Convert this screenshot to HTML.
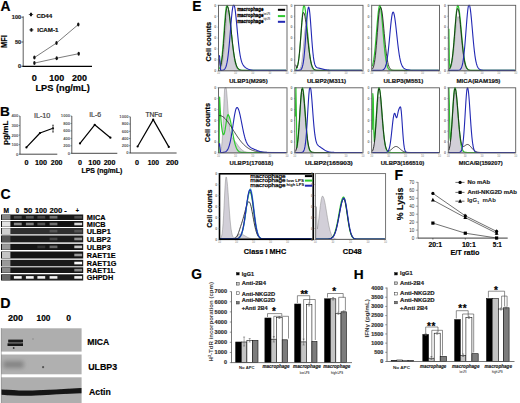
<!DOCTYPE html>
<html><head><meta charset="utf-8"><style>
html,body{margin:0;padding:0;background:#fff;}
svg{display:block;font-family:"Liberation Sans", sans-serif;}
</style></head><body>
<svg width="520" height="403" viewBox="0 0 520 403">
<defs>
<filter id="b05" x="-20%" y="-50%" width="140%" height="200%"><feGaussianBlur stdDeviation="0.5"/></filter>
<filter id="b07" x="-20%" y="-50%" width="140%" height="200%"><feGaussianBlur stdDeviation="0.7"/></filter>
<filter id="b20" x="-50%" y="-100%" width="200%" height="300%"><feGaussianBlur stdDeviation="2"/></filter>
</defs>
<rect width="520" height="403" fill="#fff"/>
<text x="0.60" y="10.70" font-size="13.8" font-weight="bold" fill="#000" stroke="#000" stroke-width="0.18" >A</text>
<line x1="23.20" y1="16.30" x2="23.20" y2="66.50" stroke="#333" stroke-width="0.8" />
<line x1="22.50" y1="66.40" x2="92.00" y2="66.40" stroke="#000" stroke-width="1.4" />
<line x1="21.40" y1="17.20" x2="23.20" y2="17.20" stroke="#333" stroke-width="0.8" />
<text x="21.20" y="19.10" font-size="5.6" font-weight="bold" fill="#222" text-anchor="end" stroke="#222" stroke-width="0.18" >100</text>
<line x1="21.40" y1="42.00" x2="23.20" y2="42.00" stroke="#333" stroke-width="0.8" />
<text x="21.20" y="43.90" font-size="5.6" font-weight="bold" fill="#222" text-anchor="end" stroke="#222" stroke-width="0.18" >50</text>
<line x1="21.40" y1="66.30" x2="23.20" y2="66.30" stroke="#333" stroke-width="0.8" />
<text x="21.20" y="68.20" font-size="5.6" font-weight="bold" fill="#222" text-anchor="end" stroke="#222" stroke-width="0.18" >0</text>
<text x="7.40" y="48.00" font-size="8.7" font-weight="bold" fill="#000" textLength="12.90" lengthAdjust="spacingAndGlyphs" transform="rotate(-90 7.40 48.00)" stroke="#000" stroke-width="0.18" >MFI</text>
<line x1="28.80" y1="14.50" x2="33.20" y2="14.50" stroke="#222" stroke-width="0.7" />
<ellipse cx="31.00" cy="14.50" rx="1.2" ry="1.9" fill="#111"/>
<text x="36.40" y="17.60" font-size="6.0" font-weight="bold" fill="#111" textLength="15.90" lengthAdjust="spacingAndGlyphs" stroke="#111" stroke-width="0.18" >CD44</text>
<line x1="29.20" y1="29.90" x2="33.60" y2="29.90" stroke="#222" stroke-width="0.7" />
<ellipse cx="31.40" cy="29.90" rx="1.2" ry="1.9" fill="#111"/>
<text x="37.20" y="32.10" font-size="6.0" font-weight="bold" fill="#111" textLength="21.20" lengthAdjust="spacingAndGlyphs" stroke="#111" stroke-width="0.18" >ICAM-1</text>
<polyline points="34.40,57.60 56.50,43.00 78.30,24.50" fill="none" stroke="#444" stroke-width="0.7" stroke-linejoin="round" />
<polyline points="34.40,63.10 56.70,58.20 78.70,53.70" fill="none" stroke="#444" stroke-width="0.7" stroke-linejoin="round" />
<ellipse cx="34.40" cy="57.60" rx="1.2" ry="2.0" fill="#111"/>
<ellipse cx="56.50" cy="43.00" rx="1.2" ry="2.0" fill="#111"/>
<ellipse cx="78.30" cy="24.50" rx="1.2" ry="2.0" fill="#111"/>
<ellipse cx="34.40" cy="63.10" rx="1.2" ry="2.0" fill="#111"/>
<ellipse cx="56.70" cy="58.20" rx="1.2" ry="2.0" fill="#111"/>
<ellipse cx="78.70" cy="53.70" rx="1.2" ry="2.0" fill="#111"/>
<text x="34.40" y="81.20" font-size="9.2" font-weight="bold" fill="#000" text-anchor="middle" stroke="#000" stroke-width="0.18" >0</text>
<text x="56.70" y="81.20" font-size="9.2" font-weight="bold" fill="#000" text-anchor="middle" textLength="14.90" lengthAdjust="spacingAndGlyphs" stroke="#000" stroke-width="0.18" >100</text>
<text x="79.60" y="81.20" font-size="9.2" font-weight="bold" fill="#000" text-anchor="middle" textLength="15.00" lengthAdjust="spacingAndGlyphs" stroke="#000" stroke-width="0.18" >200</text>
<text x="35.50" y="90.90" font-size="9.3" font-weight="bold" fill="#000" textLength="54.20" lengthAdjust="spacingAndGlyphs" stroke="#000" stroke-width="0.18" >LPS (ng/mL)</text>
<text x="0.00" y="115.60" font-size="13.6" font-weight="bold" fill="#000" stroke="#000" stroke-width="0.18" >B</text>
<text x="8.30" y="145.00" font-size="8.0" font-weight="bold" fill="#000" textLength="24.50" lengthAdjust="spacingAndGlyphs" transform="rotate(-90 8.30 145.00)" stroke="#000" stroke-width="0.18" >pg/mL</text>
<line x1="20.00" y1="116.00" x2="20.00" y2="154.20" stroke="#333" stroke-width="0.8" />
<line x1="19.50" y1="154.20" x2="57.30" y2="154.20" stroke="#333" stroke-width="0.9" />
<line x1="18.70" y1="116.00" x2="20.00" y2="116.00" stroke="#444" stroke-width="0.6" />
<text x="18.40" y="117.40" font-size="4.2" font-weight="bold" fill="#555" text-anchor="end" >400</text>
<line x1="18.70" y1="125.55" x2="20.00" y2="125.55" stroke="#444" stroke-width="0.6" />
<text x="18.40" y="126.95" font-size="4.2" font-weight="bold" fill="#555" text-anchor="end" >300</text>
<line x1="18.70" y1="135.10" x2="20.00" y2="135.10" stroke="#444" stroke-width="0.6" />
<text x="18.40" y="136.50" font-size="4.2" font-weight="bold" fill="#555" text-anchor="end" >200</text>
<line x1="18.70" y1="144.65" x2="20.00" y2="144.65" stroke="#444" stroke-width="0.6" />
<text x="18.40" y="146.05" font-size="4.2" font-weight="bold" fill="#555" text-anchor="end" >100</text>
<line x1="18.70" y1="154.20" x2="20.00" y2="154.20" stroke="#444" stroke-width="0.6" />
<text x="18.40" y="155.60" font-size="4.2" font-weight="bold" fill="#555" text-anchor="end" >0</text>
<text x="33.90" y="117.90" font-size="6.3" font-weight="normal" fill="#4a4a4a" textLength="16.50" lengthAdjust="spacingAndGlyphs" stroke="#4a4a4a" stroke-width="0.2">IL-10</text>
<polyline points="26.40,147.40 40.00,133.00 53.00,128.30" fill="none" stroke="#000" stroke-width="1.2" stroke-linejoin="round" />
<circle cx="26.40" cy="147.40" r="1.1" fill="#000"/>
<circle cx="40.00" cy="133.00" r="1.1" fill="#000"/>
<circle cx="53.00" cy="128.30" r="1.1" fill="#000"/>
<line x1="53.00" y1="125.20" x2="53.00" y2="132.00" stroke="#333" stroke-width="0.8" />
<line x1="52.00" y1="125.20" x2="54.00" y2="125.20" stroke="#333" stroke-width="0.7" />
<line x1="52.00" y1="132.00" x2="54.00" y2="132.00" stroke="#333" stroke-width="0.7" />
<text x="26.50" y="164.60" font-size="7.2" font-weight="bold" fill="#000" text-anchor="middle" stroke="#000" stroke-width="0.18" >0</text>
<text x="41.00" y="164.60" font-size="7.2" font-weight="bold" fill="#000" text-anchor="middle" textLength="12.00" lengthAdjust="spacingAndGlyphs" stroke="#000" stroke-width="0.18" >100</text>
<text x="56.60" y="164.60" font-size="7.2" font-weight="bold" fill="#000" text-anchor="middle" textLength="11.70" lengthAdjust="spacingAndGlyphs" stroke="#000" stroke-width="0.18" >200</text>
<line x1="71.80" y1="116.00" x2="71.80" y2="153.30" stroke="#333" stroke-width="0.8" />
<line x1="71.30" y1="153.30" x2="117.30" y2="153.30" stroke="#333" stroke-width="0.9" />
<line x1="70.50" y1="116.00" x2="71.80" y2="116.00" stroke="#444" stroke-width="0.6" />
<text x="70.20" y="117.40" font-size="4.2" font-weight="bold" fill="#555" text-anchor="end" >1000</text>
<line x1="70.50" y1="123.46" x2="71.80" y2="123.46" stroke="#444" stroke-width="0.6" />
<text x="70.20" y="124.86" font-size="4.2" font-weight="bold" fill="#555" text-anchor="end" >800</text>
<line x1="70.50" y1="130.92" x2="71.80" y2="130.92" stroke="#444" stroke-width="0.6" />
<text x="70.20" y="132.32" font-size="4.2" font-weight="bold" fill="#555" text-anchor="end" >600</text>
<line x1="70.50" y1="138.38" x2="71.80" y2="138.38" stroke="#444" stroke-width="0.6" />
<text x="70.20" y="139.78" font-size="4.2" font-weight="bold" fill="#555" text-anchor="end" >400</text>
<line x1="70.50" y1="145.84" x2="71.80" y2="145.84" stroke="#444" stroke-width="0.6" />
<text x="70.20" y="147.24" font-size="4.2" font-weight="bold" fill="#555" text-anchor="end" >200</text>
<line x1="70.50" y1="153.30" x2="71.80" y2="153.30" stroke="#444" stroke-width="0.6" />
<text x="70.20" y="154.70" font-size="4.2" font-weight="bold" fill="#555" text-anchor="end" >0</text>
<text x="89.20" y="117.40" font-size="6.3" font-weight="normal" fill="#4a4a4a" textLength="12.00" lengthAdjust="spacingAndGlyphs" stroke="#4a4a4a" stroke-width="0.2">IL-6</text>
<polyline points="80.00,143.40 94.70,124.80 110.40,137.70" fill="none" stroke="#000" stroke-width="1.2" stroke-linejoin="round" />
<circle cx="80.00" cy="143.40" r="1.1" fill="#000"/>
<circle cx="94.70" cy="124.80" r="1.1" fill="#000"/>
<circle cx="110.40" cy="137.70" r="1.1" fill="#000"/>
<text x="80.00" y="164.60" font-size="7.2" font-weight="bold" fill="#000" text-anchor="middle" stroke="#000" stroke-width="0.18" >0</text>
<text x="94.50" y="164.60" font-size="7.2" font-weight="bold" fill="#000" text-anchor="middle" textLength="12.30" lengthAdjust="spacingAndGlyphs" stroke="#000" stroke-width="0.18" >100</text>
<text x="109.50" y="164.60" font-size="7.2" font-weight="bold" fill="#000" text-anchor="middle" textLength="11.70" lengthAdjust="spacingAndGlyphs" stroke="#000" stroke-width="0.18" >200</text>
<line x1="130.30" y1="116.80" x2="130.30" y2="153.00" stroke="#333" stroke-width="0.8" />
<line x1="129.80" y1="153.00" x2="176.60" y2="153.00" stroke="#333" stroke-width="0.9" />
<line x1="129.00" y1="116.80" x2="130.30" y2="116.80" stroke="#444" stroke-width="0.6" />
<text x="128.70" y="118.20" font-size="4.2" font-weight="bold" fill="#555" text-anchor="end" >1000</text>
<line x1="129.00" y1="124.04" x2="130.30" y2="124.04" stroke="#444" stroke-width="0.6" />
<text x="128.70" y="125.44" font-size="4.2" font-weight="bold" fill="#555" text-anchor="end" >800</text>
<line x1="129.00" y1="131.28" x2="130.30" y2="131.28" stroke="#444" stroke-width="0.6" />
<text x="128.70" y="132.68" font-size="4.2" font-weight="bold" fill="#555" text-anchor="end" >600</text>
<line x1="129.00" y1="138.52" x2="130.30" y2="138.52" stroke="#444" stroke-width="0.6" />
<text x="128.70" y="139.92" font-size="4.2" font-weight="bold" fill="#555" text-anchor="end" >400</text>
<line x1="129.00" y1="145.76" x2="130.30" y2="145.76" stroke="#444" stroke-width="0.6" />
<text x="128.70" y="147.16" font-size="4.2" font-weight="bold" fill="#555" text-anchor="end" >200</text>
<line x1="129.00" y1="153.00" x2="130.30" y2="153.00" stroke="#444" stroke-width="0.6" />
<text x="128.70" y="154.40" font-size="4.2" font-weight="bold" fill="#555" text-anchor="end" >0</text>
<text x="145.40" y="117.00" font-size="7.0" font-weight="normal" fill="#333" textLength="16.80" lengthAdjust="spacingAndGlyphs" stroke="#333" stroke-width="0.2">TNFα</text>
<polyline points="137.60,146.50 153.20,119.60 168.80,146.90" fill="none" stroke="#000" stroke-width="1.2" stroke-linejoin="round" />
<circle cx="137.60" cy="146.50" r="1.1" fill="#000"/>
<circle cx="153.20" cy="119.60" r="1.1" fill="#000"/>
<circle cx="168.80" cy="146.90" r="1.1" fill="#000"/>
<text x="137.00" y="164.60" font-size="7.2" font-weight="bold" fill="#000" text-anchor="middle" stroke="#000" stroke-width="0.18" >0</text>
<text x="153.30" y="164.60" font-size="7.2" font-weight="bold" fill="#000" text-anchor="middle" textLength="11.30" lengthAdjust="spacingAndGlyphs" stroke="#000" stroke-width="0.18" >100</text>
<text x="172.20" y="164.60" font-size="7.2" font-weight="bold" fill="#000" text-anchor="middle" textLength="12.50" lengthAdjust="spacingAndGlyphs" stroke="#000" stroke-width="0.18" >200</text>
<text x="81.50" y="172.80" font-size="7.0" font-weight="bold" fill="#000" textLength="40.80" lengthAdjust="spacingAndGlyphs" stroke="#000" stroke-width="0.18" >LPS (ng/mL)</text>
<text x="0.40" y="198.60" font-size="14.0" font-weight="bold" fill="#000" stroke="#000" stroke-width="0.18" >C</text>
<text x="3.40" y="212.60" font-size="7.0" font-weight="bold" fill="#000" textLength="5.50" lengthAdjust="spacingAndGlyphs" stroke="#000" stroke-width="0.18" >M</text>
<text x="15.80" y="212.60" font-size="7.0" font-weight="bold" fill="#000" textLength="3.40" lengthAdjust="spacingAndGlyphs" stroke="#000" stroke-width="0.18" >0</text>
<text x="23.80" y="212.60" font-size="7.0" font-weight="bold" fill="#000" textLength="8.50" lengthAdjust="spacingAndGlyphs" stroke="#000" stroke-width="0.18" >50</text>
<text x="35.00" y="212.60" font-size="7.0" font-weight="bold" fill="#000" textLength="12.00" lengthAdjust="spacingAndGlyphs" stroke="#000" stroke-width="0.18" >100</text>
<text x="49.50" y="212.60" font-size="7.0" font-weight="bold" fill="#000" textLength="12.80" lengthAdjust="spacingAndGlyphs" stroke="#000" stroke-width="0.18" >200</text>
<text x="64.30" y="212.60" font-size="7.0" font-weight="bold" fill="#000" textLength="2.50" lengthAdjust="spacingAndGlyphs" stroke="#000" stroke-width="0.18" >-</text>
<text x="75.80" y="212.60" font-size="7.0" font-weight="bold" fill="#000" textLength="3.20" lengthAdjust="spacingAndGlyphs" stroke="#000" stroke-width="0.18" >+</text>
<rect x="0.50" y="213.80" width="83.50" height="66.60" fill="#fff" stroke="none" stroke-width="0" />
<rect x="1.00" y="214.50" width="82.20" height="5.50" fill="#181818" stroke="none" stroke-width="0" />
<rect x="2.00" y="214.80" width="8.40" height="4.90" fill="#858585" stroke="none" stroke-width="0" filter="url(#b05)"/>
<rect x="13.90" y="215.95" width="7.80" height="2.60" fill="#505050" stroke="none" stroke-width="0" filter="url(#b05)"/>
<rect x="25.90" y="215.95" width="7.80" height="2.60" fill="#585858" stroke="none" stroke-width="0" filter="url(#b05)"/>
<rect x="37.40" y="215.95" width="7.80" height="2.60" fill="#484848" stroke="none" stroke-width="0" filter="url(#b05)"/>
<rect x="49.60" y="215.95" width="7.80" height="2.60" fill="#707070" stroke="none" stroke-width="0" filter="url(#b05)"/>
<rect x="74.30" y="215.95" width="7.80" height="2.60" fill="#505050" stroke="none" stroke-width="0" filter="url(#b05)"/>
<text x="86.80" y="219.80" font-size="7.3" font-weight="bold" fill="#000" stroke="#000" stroke-width="0.18" >MICA</text>
<rect x="1.00" y="221.00" width="82.20" height="6.00" fill="#121212" stroke="none" stroke-width="0" />
<rect x="2.00" y="221.30" width="8.40" height="5.40" fill="#e4e4e4" stroke="none" stroke-width="0" filter="url(#b05)"/>
<rect x="13.90" y="222.70" width="7.80" height="2.60" fill="#8a8a8a" stroke="none" stroke-width="0" filter="url(#b05)"/>
<rect x="25.90" y="222.70" width="7.80" height="2.60" fill="#808080" stroke="none" stroke-width="0" filter="url(#b05)"/>
<rect x="37.40" y="222.70" width="7.80" height="2.60" fill="#555" stroke="none" stroke-width="0" filter="url(#b05)"/>
<rect x="49.60" y="222.70" width="7.80" height="2.60" fill="#707070" stroke="none" stroke-width="0" filter="url(#b05)"/>
<rect x="74.30" y="222.70" width="7.80" height="2.60" fill="#d8d8d8" stroke="none" stroke-width="0" filter="url(#b05)"/>
<text x="86.80" y="226.80" font-size="7.3" font-weight="bold" fill="#000" stroke="#000" stroke-width="0.18" >MICB</text>
<rect x="1.00" y="228.00" width="82.20" height="6.30" fill="#303030" stroke="none" stroke-width="0" />
<rect x="2.00" y="228.30" width="8.40" height="5.70" fill="#d0d0d0" stroke="none" stroke-width="0" filter="url(#b05)"/>
<rect x="49.60" y="229.85" width="7.80" height="2.60" fill="#555" stroke="none" stroke-width="0" filter="url(#b05)"/>
<rect x="74.30" y="229.85" width="7.80" height="2.60" fill="#555" stroke="none" stroke-width="0" filter="url(#b05)"/>
<text x="86.80" y="234.10" font-size="7.3" font-weight="bold" fill="#000" stroke="#000" stroke-width="0.18" >ULBP1</text>
<rect x="1.00" y="235.50" width="82.20" height="6.90" fill="#1c1c1c" stroke="none" stroke-width="0" />
<rect x="2.00" y="235.80" width="8.40" height="6.30" fill="#555" stroke="none" stroke-width="0" filter="url(#b05)"/>
<rect x="49.60" y="237.65" width="7.80" height="2.60" fill="#444" stroke="none" stroke-width="0" filter="url(#b05)"/>
<rect x="74.30" y="237.65" width="7.80" height="2.60" fill="#909090" stroke="none" stroke-width="0" filter="url(#b05)"/>
<text x="86.80" y="242.20" font-size="7.3" font-weight="bold" fill="#000" stroke="#000" stroke-width="0.18" >ULBP2</text>
<rect x="1.00" y="243.80" width="82.20" height="6.20" fill="#151515" stroke="none" stroke-width="0" />
<rect x="2.00" y="244.10" width="8.40" height="5.60" fill="#999" stroke="none" stroke-width="0" filter="url(#b05)"/>
<rect x="37.40" y="245.60" width="7.80" height="2.60" fill="#333" stroke="none" stroke-width="0" filter="url(#b05)"/>
<rect x="49.60" y="245.60" width="7.80" height="2.60" fill="#666" stroke="none" stroke-width="0" filter="url(#b05)"/>
<rect x="74.30" y="245.60" width="7.80" height="2.60" fill="#c8c8c8" stroke="none" stroke-width="0" filter="url(#b05)"/>
<text x="86.80" y="249.80" font-size="7.3" font-weight="bold" fill="#000" stroke="#000" stroke-width="0.18" >ULBP3</text>
<rect x="1.00" y="251.50" width="82.20" height="7.00" fill="#141414" stroke="none" stroke-width="0" />
<rect x="2.00" y="251.80" width="8.40" height="6.40" fill="#c4c4c4" stroke="none" stroke-width="0" filter="url(#b05)"/>
<rect x="74.30" y="253.70" width="7.80" height="2.60" fill="#999" stroke="none" stroke-width="0" filter="url(#b05)"/>
<text x="86.80" y="258.30" font-size="7.3" font-weight="bold" fill="#000" stroke="#000" stroke-width="0.18" >RAET1E</text>
<rect x="1.00" y="259.80" width="82.20" height="6.50" fill="#1a1a1a" stroke="none" stroke-width="0" />
<rect x="2.00" y="260.10" width="8.40" height="5.90" fill="#999" stroke="none" stroke-width="0" filter="url(#b05)"/>
<rect x="74.30" y="261.75" width="7.80" height="2.60" fill="#fafafa" stroke="none" stroke-width="0" filter="url(#b05)"/>
<text x="86.80" y="266.10" font-size="7.3" font-weight="bold" fill="#000" stroke="#000" stroke-width="0.18" >RAET1G</text>
<rect x="1.00" y="267.30" width="82.20" height="5.70" fill="#161616" stroke="none" stroke-width="0" />
<rect x="2.00" y="267.60" width="8.40" height="5.10" fill="#888" stroke="none" stroke-width="0" filter="url(#b05)"/>
<rect x="74.30" y="268.85" width="7.80" height="2.60" fill="#888" stroke="none" stroke-width="0" filter="url(#b05)"/>
<text x="86.80" y="272.80" font-size="7.3" font-weight="bold" fill="#000" stroke="#000" stroke-width="0.18" >RAET1L</text>
<rect x="1.00" y="274.30" width="82.20" height="6.20" fill="#1a1a1a" stroke="none" stroke-width="0" />
<rect x="2.00" y="274.60" width="8.40" height="5.60" fill="#666" stroke="none" stroke-width="0" filter="url(#b05)"/>
<rect x="13.90" y="276.10" width="7.80" height="2.60" fill="#f8f8f8" stroke="none" stroke-width="0" filter="url(#b05)"/>
<rect x="25.90" y="276.10" width="7.80" height="2.60" fill="#f8f8f8" stroke="none" stroke-width="0" filter="url(#b05)"/>
<rect x="37.40" y="276.10" width="7.80" height="2.60" fill="#f4f4f4" stroke="none" stroke-width="0" filter="url(#b05)"/>
<rect x="49.60" y="276.10" width="7.80" height="2.60" fill="#f0f0f0" stroke="none" stroke-width="0" filter="url(#b05)"/>
<rect x="74.30" y="276.10" width="7.80" height="2.60" fill="#f4f4f4" stroke="none" stroke-width="0" filter="url(#b05)"/>
<text x="86.80" y="280.30" font-size="7.3" font-weight="bold" fill="#000" stroke="#000" stroke-width="0.18" >GHPDH</text>
<text x="0.20" y="308.00" font-size="14.2" font-weight="bold" fill="#000" stroke="#000" stroke-width="0.18" >D</text>
<text x="8.00" y="321.20" font-size="8.5" font-weight="bold" fill="#000" textLength="15.00" lengthAdjust="spacingAndGlyphs" stroke="#000" stroke-width="0.18" >200</text>
<text x="36.60" y="321.20" font-size="8.5" font-weight="bold" fill="#000" textLength="13.90" lengthAdjust="spacingAndGlyphs" stroke="#000" stroke-width="0.18" >100</text>
<text x="66.20" y="321.20" font-size="8.5" font-weight="bold" fill="#000" textLength="4.80" lengthAdjust="spacingAndGlyphs" stroke="#000" stroke-width="0.18" >0</text>
<rect x="1.00" y="328.30" width="80.60" height="23.30" fill="#aeaeae" stroke="none" stroke-width="0" />
<rect x="1.00" y="354.50" width="80.60" height="19.80" fill="#b0b0b0" stroke="none" stroke-width="0" />
<rect x="1.00" y="377.30" width="80.60" height="25.70" fill="#aeaeae" stroke="none" stroke-width="0" />
<line x1="1.30" y1="328.00" x2="1.30" y2="403.00" stroke="#888" stroke-width="0.6" />
<g filter="url(#b07)">
<rect x="8.20" y="339.60" width="14.80" height="2.80" fill="#1c1c1c" stroke="none" stroke-width="0" />
<rect x="7.50" y="343.30" width="15.50" height="2.70" fill="#151515" stroke="none" stroke-width="0" />
<rect x="8.50" y="342.20" width="13.00" height="1.30" fill="#555" stroke="none" stroke-width="0" />
<circle cx="13.7" cy="348" r="0.9" fill="#333"/>
<circle cx="33" cy="339" r="1" fill="#999"/>
</g>
<g filter="url(#b20)">
<rect x="3.50" y="361.00" width="20.00" height="7.00" fill="#848484" stroke="none" stroke-width="0" />
</g>
<g filter="url(#b07)">
<circle cx="43.1" cy="367.2" r="1.1" fill="#555"/>
<path d="M1.5,389.4 C10,389.6 18,390.6 28,390.4 C40,390.2 55,389.4 81.5,387.9 L81.5,393.2 C65,393.8 50,394.6 36,395.6 C25,396.2 12,395.6 1.5,394.8 Z" fill="#141414"/>
</g>
<text x="87.20" y="344.90" font-size="9.2" font-weight="bold" fill="#000" textLength="22.10" lengthAdjust="spacingAndGlyphs" stroke="#000" stroke-width="0.18" >MICA</text>
<text x="88.20" y="369.50" font-size="9.4" font-weight="bold" fill="#000" textLength="28.90" lengthAdjust="spacingAndGlyphs" stroke="#000" stroke-width="0.18" >ULBP3</text>
<text x="89.00" y="394.90" font-size="9.4" font-weight="bold" fill="#000" textLength="21.80" lengthAdjust="spacingAndGlyphs" stroke="#000" stroke-width="0.18" >Actin</text>
<text x="192.30" y="11.20" font-size="13.8" font-weight="bold" fill="#000" stroke="#000" stroke-width="0.18" >E</text>
<polygon points="219.10,70.80 219.10,70.09 219.60,69.85 220.10,69.47 220.60,68.87 221.10,67.95 221.60,66.61 222.10,64.72 222.60,62.14 223.10,58.79 223.60,54.58 224.10,49.52 224.60,43.71 225.10,37.35 225.60,30.76 226.10,24.35 226.60,18.59 227.10,13.93 227.60,10.78 228.10,9.44 228.60,9.85 229.10,11.63 229.60,14.65 230.10,18.72 230.60,23.58 231.10,28.94 231.60,34.52 232.10,40.06 232.60,45.32 233.10,50.14 233.60,54.41 234.10,58.06 234.60,61.10 235.10,63.55 235.60,65.46 236.10,66.93 236.60,68.01 237.10,68.79 237.60,69.34 238.10,69.72 238.60,69.97 239.10,70.14 239.60,70.24 240.10,70.31 240.60,70.35 241.10,70.37 241.60,70.38 242.10,70.39 242.60,70.40 243.10,70.40 243.60,70.40 244.10,70.40 244.60,70.40 245.10,70.40 245.60,70.40 246.10,70.40 246.60,70.40 247.10,70.40 247.60,70.40 248.10,70.40 248.60,70.40 249.10,70.40 249.60,70.40 250.10,70.40 250.60,70.40 251.10,70.40 251.60,70.40 252.10,70.40 252.60,70.40 253.10,70.40 253.60,70.40 254.10,70.40 254.60,70.40 255.10,70.40 255.60,70.40 256.10,70.40 256.60,70.40 257.10,70.40 257.60,70.40 258.10,70.40 258.60,70.40 259.10,70.40 259.60,70.40 260.10,70.40 260.60,70.40 261.10,70.40 261.60,70.40 262.10,70.40 262.60,70.40 263.10,70.40 263.60,70.40 264.10,70.40 264.60,70.40 265.10,70.40 265.60,70.40 266.10,70.40 266.60,70.40 267.10,70.40 267.60,70.40 268.10,70.40 268.60,70.40 269.10,70.40 269.60,70.40 270.10,70.40 270.60,70.40 271.10,70.40 271.60,70.40 272.10,70.40 272.60,70.40 273.10,70.40 273.60,70.40 274.10,70.40 274.60,70.40 275.10,70.40 275.60,70.40 276.10,70.40 276.60,70.40 277.10,70.40 277.60,70.40 278.10,70.40 278.60,70.40 279.10,70.40 279.60,70.40 280.10,70.40 280.60,70.40 281.10,70.40 281.60,70.40 282.10,70.40 282.60,70.40 283.10,70.40 283.60,70.40 284.10,70.40 284.60,70.40 285.10,70.40 285.60,70.40 286.10,70.40 286.40,70.80" fill="#d2cfd8" stroke="#888" stroke-width="0.5" />
<polyline points="219.10,69.06 219.60,68.23 220.10,66.99 220.60,65.23 221.10,62.79 221.60,59.56 222.10,55.45 222.60,50.41 223.10,44.52 223.60,37.94 224.10,30.98 224.60,24.01 225.10,17.53 225.60,12.04 226.10,8.00 226.60,5.77 227.10,5.47 227.60,6.30 228.10,8.00 228.60,10.51 229.10,13.73 229.60,17.53 230.10,21.77 230.60,26.30 231.10,30.98 231.60,35.65 232.10,40.20 232.60,44.52 233.10,48.54 233.60,52.19 234.10,55.45 234.60,58.29 235.10,60.74 235.60,62.79 236.10,64.50 236.60,65.88 237.10,66.99 237.60,67.87 238.10,68.54 238.60,69.06 239.10,69.44 239.60,69.73 240.10,69.93 240.60,70.08 241.10,70.19 241.60,70.26 242.10,70.31 242.60,70.34 243.10,70.36 243.60,70.38 244.10,70.39 244.60,70.39 245.10,70.39 245.60,70.40 246.10,70.40 246.60,70.40 247.10,70.40 247.60,70.40 248.10,70.40 248.60,70.40 249.10,70.40 249.60,70.40 250.10,70.40 250.60,70.40 251.10,70.40 251.60,70.40 252.10,70.40 252.60,70.40 253.10,70.40 253.60,70.40 254.10,70.40 254.60,70.40 255.10,70.40 255.60,70.40 256.10,70.40 256.60,70.40 257.10,70.40 257.60,70.40 258.10,70.40 258.60,70.40 259.10,70.40 259.60,70.40 260.10,70.40 260.60,70.40 261.10,70.40 261.60,70.40 262.10,70.40 262.60,70.40 263.10,70.40 263.60,70.40 264.10,70.40 264.60,70.40 265.10,70.40 265.60,70.40 266.10,70.40 266.60,70.40 267.10,70.40 267.60,70.40 268.10,70.40 268.60,70.40 269.10,70.40 269.60,70.40 270.10,70.40 270.60,70.40 271.10,70.40 271.60,70.40 272.10,70.40 272.60,70.40 273.10,70.40 273.60,70.40 274.10,70.40 274.60,70.40 275.10,70.40 275.60,70.40 276.10,70.40 276.60,70.40 277.10,70.40 277.60,70.40 278.10,70.40 278.60,70.40 279.10,70.40 279.60,70.40 280.10,70.40 280.60,70.40 281.10,70.40 281.60,70.40 282.10,70.40 282.60,70.40 283.10,70.40 283.60,70.40 284.10,70.40 284.60,70.40 285.10,70.40 285.60,70.40 286.10,70.40" fill="none" stroke="#2fc82f" stroke-width="1.2" stroke-linejoin="round" />
<polyline points="219.10,58.52 219.60,60.94 220.10,65.05 220.60,66.75 221.10,64.89 221.60,62.34 222.10,58.99 222.60,54.76 223.10,49.62 223.60,43.67 224.10,37.09 224.60,30.20 225.10,23.40 225.60,17.17 226.10,12.02 226.60,8.37 227.10,6.56 227.60,6.58 228.10,7.67 228.60,9.69 229.10,12.56 229.60,16.15 230.10,20.31 230.60,24.86 231.10,29.64 231.60,34.49 232.10,39.25 232.60,43.80 233.10,48.03 233.60,51.89 234.10,55.31 234.60,58.30 235.10,60.84 235.60,62.97 236.10,64.71 236.60,66.11 237.10,67.22 237.60,68.08 238.10,68.73 238.60,69.22 239.10,69.57 239.60,69.83 240.10,70.02 240.60,70.15 241.10,70.23 241.60,70.29 242.10,70.33 242.60,70.36 243.10,70.37 243.60,70.38 244.10,70.39 244.60,70.39 245.10,70.40 245.60,70.40 246.10,70.40 246.60,70.40 247.10,70.40 247.60,70.40 248.10,70.40 248.60,70.40 249.10,70.40 249.60,70.40 250.10,70.40 250.60,70.40 251.10,70.40 251.60,70.40 252.10,70.40 252.60,70.40 253.10,70.40 253.60,70.40 254.10,70.40 254.60,70.40 255.10,70.40 255.60,70.40 256.10,70.40 256.60,70.40 257.10,70.40 257.60,70.40 258.10,70.40 258.60,70.40 259.10,70.40 259.60,70.40 260.10,70.40 260.60,70.40 261.10,70.40 261.60,70.40 262.10,70.40 262.60,70.40 263.10,70.40 263.60,70.40 264.10,70.40 264.60,70.40 265.10,70.40 265.60,70.40 266.10,70.40 266.60,70.40 267.10,70.40 267.60,70.40 268.10,70.40 268.60,70.40 269.10,70.40 269.60,70.40 270.10,70.40 270.60,70.40 271.10,70.40 271.60,70.40 272.10,70.40 272.60,70.40 273.10,70.40 273.60,70.40 274.10,70.40 274.60,70.40 275.10,70.40 275.60,70.40 276.10,70.40 276.60,70.40 277.10,70.40 277.60,70.40 278.10,70.40 278.60,70.40 279.10,70.40 279.60,70.40 280.10,70.40 280.60,70.40 281.10,70.40 281.60,70.40 282.10,70.40 282.60,70.40 283.10,70.40 283.60,70.40 284.10,70.40 284.60,70.40 285.10,70.40 285.60,70.40 286.10,70.40" fill="none" stroke="#111" stroke-width="0.8" stroke-linejoin="round" />
<polyline points="219.10,55.17 219.60,56.55 220.10,63.47 220.60,70.38 221.10,70.37 221.60,70.34 222.10,70.30 222.60,70.22 223.10,70.10 223.60,69.91 224.10,69.61 224.60,69.16 225.10,68.50 225.60,67.56 226.10,66.25 226.60,64.49 227.10,62.18 227.60,59.24 228.10,55.61 228.60,51.28 229.10,46.28 229.60,40.70 230.10,34.70 230.60,28.52 231.10,22.44 231.60,16.79 232.10,11.90 232.60,8.07 233.10,5.55 233.60,5.20 234.10,5.20 234.60,6.62 235.10,9.52 235.60,13.42 236.10,18.07 236.60,23.21 237.10,28.58 237.60,33.94 238.10,39.07 238.60,43.82 239.10,48.09 239.60,51.83 240.10,55.03 240.60,57.69 241.10,59.86 241.60,61.60 242.10,62.99 242.60,64.09 243.10,64.97 243.60,65.69 244.10,66.28 244.60,66.78 245.10,67.22 245.60,67.60 246.10,67.95 246.60,68.26 247.10,68.55 247.60,68.81 248.10,69.05 248.60,69.26 249.10,69.44 249.60,69.61 250.10,69.75 250.60,69.87 251.10,69.97 251.60,70.06 252.10,70.13 252.60,70.19 253.10,70.24 253.60,70.28 254.10,70.31 254.60,70.33 255.10,70.35 255.60,70.36 256.10,70.37 256.60,70.38 257.10,70.39 257.60,70.39 258.10,70.39 258.60,70.40 259.10,70.40 259.60,70.40 260.10,70.40 260.60,70.40 261.10,70.40 261.60,70.40 262.10,70.40 262.60,70.40 263.10,70.40 263.60,70.40 264.10,70.40 264.60,70.40 265.10,70.40 265.60,70.40 266.10,70.40 266.60,70.40 267.10,70.40 267.60,70.40 268.10,70.40 268.60,70.40 269.10,70.40 269.60,70.40 270.10,70.40 270.60,70.40 271.10,70.40 271.60,70.40 272.10,70.40 272.60,70.40 273.10,70.40 273.60,70.40 274.10,70.40 274.60,70.40 275.10,70.40 275.60,70.40 276.10,70.40 276.60,70.40 277.10,70.40 277.60,70.40 278.10,70.40 278.60,70.40 279.10,70.40 279.60,70.40 280.10,70.40 280.60,70.40 281.10,70.40 281.60,70.40 282.10,70.40 282.60,70.40 283.10,70.40 283.60,70.40 284.10,70.40 284.60,70.40 285.10,70.40 285.60,70.40 286.10,70.40" fill="none" stroke="#2228b4" stroke-width="1.1" stroke-linejoin="round" />
<rect x="218.50" y="5.30" width="68.50" height="65.50" fill="none" stroke="#5a5a5a" stroke-width="0.9" />
<text x="217.00" y="74.40" font-size="2.6" font-weight="normal" fill="#777" >10</text>
<text x="234.12" y="74.40" font-size="2.6" font-weight="normal" fill="#777" >10</text>
<text x="251.25" y="74.40" font-size="2.6" font-weight="normal" fill="#777" >10</text>
<text x="268.38" y="74.40" font-size="2.6" font-weight="normal" fill="#777" >10</text>
<text x="285.50" y="74.40" font-size="2.6" font-weight="normal" fill="#777" >10</text>
<line x1="217.60" y1="5.30" x2="218.50" y2="5.30" stroke="#666" stroke-width="0.6" />
<text x="216.30" y="6.60" font-size="3.6" font-weight="bold" fill="#777" text-anchor="end" >0</text>
<line x1="217.60" y1="16.22" x2="218.50" y2="16.22" stroke="#666" stroke-width="0.6" />
<text x="216.30" y="17.52" font-size="3.6" font-weight="bold" fill="#777" text-anchor="end" >0</text>
<line x1="217.60" y1="27.13" x2="218.50" y2="27.13" stroke="#666" stroke-width="0.6" />
<text x="216.30" y="28.43" font-size="3.6" font-weight="bold" fill="#777" text-anchor="end" >0</text>
<line x1="217.60" y1="38.05" x2="218.50" y2="38.05" stroke="#666" stroke-width="0.6" />
<text x="216.30" y="39.35" font-size="3.6" font-weight="bold" fill="#777" text-anchor="end" >0</text>
<line x1="217.60" y1="48.97" x2="218.50" y2="48.97" stroke="#666" stroke-width="0.6" />
<text x="216.30" y="50.27" font-size="3.6" font-weight="bold" fill="#777" text-anchor="end" >0</text>
<line x1="217.60" y1="59.88" x2="218.50" y2="59.88" stroke="#666" stroke-width="0.6" />
<text x="216.30" y="61.18" font-size="3.6" font-weight="bold" fill="#777" text-anchor="end" >0</text>
<line x1="217.60" y1="70.80" x2="218.50" y2="70.80" stroke="#666" stroke-width="0.6" />
<text x="216.30" y="72.10" font-size="3.6" font-weight="bold" fill="#777" text-anchor="end" >0</text>
<polygon points="295.40,70.80 295.40,70.40 295.90,70.40 296.40,70.39 296.90,70.38 297.40,70.36 297.90,70.31 298.40,70.21 298.90,70.02 299.40,69.67 299.90,69.06 300.40,68.08 300.90,66.55 301.40,64.31 301.90,61.21 302.40,57.18 302.90,52.26 303.40,46.65 303.90,40.74 304.40,35.07 304.90,30.26 305.40,26.91 305.90,25.44 306.40,25.93 306.90,28.02 307.40,31.47 307.90,35.95 308.40,41.01 308.90,46.24 309.40,51.26 309.90,55.79 310.40,59.65 310.90,62.78 311.40,65.19 311.90,66.97 312.40,68.22 312.90,69.07 313.40,69.62 313.90,69.95 314.40,70.16 314.90,70.27 315.40,70.33 315.90,70.37 316.40,70.38 316.90,70.39 317.40,70.40 317.90,70.40 318.40,70.40 318.90,70.40 319.40,70.40 319.90,70.40 320.40,70.40 320.90,70.40 321.40,70.40 321.90,70.40 322.40,70.40 322.90,70.40 323.40,70.40 323.90,70.40 324.40,70.40 324.90,70.40 325.40,70.40 325.90,70.40 326.40,70.40 326.90,70.40 327.40,70.40 327.90,70.40 328.40,70.40 328.90,70.40 329.40,70.40 329.90,70.40 330.40,70.40 330.90,70.40 331.40,70.40 331.90,70.40 332.40,70.40 332.90,70.40 333.40,70.40 333.90,70.40 334.40,70.40 334.90,70.40 335.40,70.40 335.90,70.40 336.40,70.40 336.90,70.40 337.40,70.40 337.90,70.40 338.40,70.40 338.90,70.40 339.40,70.40 339.90,70.40 340.40,70.40 340.90,70.40 341.40,70.40 341.90,70.40 342.40,70.40 342.90,70.40 343.40,70.40 343.90,70.40 344.40,70.40 344.90,70.40 345.40,70.40 345.90,70.40 346.40,70.40 346.90,70.40 347.40,70.40 347.90,70.40 348.40,70.40 348.90,70.40 349.40,70.40 349.90,70.40 350.40,70.40 350.90,70.40 351.40,70.40 351.90,70.40 352.40,70.40 352.90,70.40 353.40,70.40 353.90,70.40 354.40,70.40 354.90,70.40 355.40,70.40 355.90,70.40 356.40,70.40 356.90,70.40 357.40,70.40 357.90,70.40 358.40,70.40 358.90,70.40 359.40,70.40 359.90,70.40 360.40,70.40 360.90,70.40 361.40,70.40 361.90,70.40 362.40,70.80" fill="#d2cfd8" stroke="#888" stroke-width="0.5" />
<polyline points="295.40,69.82 295.90,69.41 296.40,68.77 296.90,67.79 297.40,66.36 297.90,64.34 298.40,61.60 298.90,58.03 299.40,53.54 299.90,48.15 300.40,41.96 300.90,35.18 301.40,28.16 301.90,21.34 302.40,15.19 302.90,10.23 303.40,6.88 303.90,5.44 304.40,5.85 304.90,7.64 305.40,10.68 305.90,14.80 306.40,19.73 306.90,25.22 307.40,30.98 307.90,36.73 308.40,42.26 308.90,47.39 309.40,51.99 309.90,55.98 310.40,59.35 310.90,62.11 311.40,64.31 311.90,66.03 312.40,67.33 312.90,68.29 313.40,68.98 313.90,69.46 314.40,69.80 314.90,70.02 315.40,70.16 315.90,70.26 316.40,70.32 316.90,70.35 317.40,70.37 317.90,70.38 318.40,70.39 318.90,70.40 319.40,70.40 319.90,70.40 320.40,70.40 320.90,70.40 321.40,70.40 321.90,70.40 322.40,70.40 322.90,70.40 323.40,70.40 323.90,70.40 324.40,70.40 324.90,70.40 325.40,70.40 325.90,70.40 326.40,70.40 326.90,70.40 327.40,70.40 327.90,70.40 328.40,70.40 328.90,70.40 329.40,70.40 329.90,70.40 330.40,70.40 330.90,70.40 331.40,70.40 331.90,70.40 332.40,70.40 332.90,70.40 333.40,70.40 333.90,70.40 334.40,70.40 334.90,70.40 335.40,70.40 335.90,70.40 336.40,70.40 336.90,70.40 337.40,70.40 337.90,70.40 338.40,70.40 338.90,70.40 339.40,70.40 339.90,70.40 340.40,70.40 340.90,70.40 341.40,70.40 341.90,70.40 342.40,70.40 342.90,70.40 343.40,70.40 343.90,70.40 344.40,70.40 344.90,70.40 345.40,70.40 345.90,70.40 346.40,70.40 346.90,70.40 347.40,70.40 347.90,70.40 348.40,70.40 348.90,70.40 349.40,70.40 349.90,70.40 350.40,70.40 350.90,70.40 351.40,70.40 351.90,70.40 352.40,70.40 352.90,70.40 353.40,70.40 353.90,70.40 354.40,70.40 354.90,70.40 355.40,70.40 355.90,70.40 356.40,70.40 356.90,70.40 357.40,70.40 357.90,70.40 358.40,70.40 358.90,70.40 359.40,70.40 359.90,70.40 360.40,70.40 360.90,70.40 361.40,70.40 361.90,70.40" fill="none" stroke="#2fc82f" stroke-width="1.2" stroke-linejoin="round" />
<polyline points="295.40,64.95 295.90,65.09 296.40,67.01 296.90,68.09 297.40,66.70 297.90,64.70 298.40,61.93 298.90,58.27 299.40,53.67 299.90,48.16 300.40,41.91 300.90,35.22 301.40,28.54 301.90,22.41 302.40,17.37 302.90,13.92 303.40,12.44 303.90,12.72 304.40,14.00 304.90,16.21 305.40,19.22 305.90,22.89 306.40,27.05 306.90,31.53 307.40,36.15 307.90,40.73 308.40,45.14 308.90,49.27 309.40,53.02 309.90,56.36 310.40,59.24 310.90,61.69 311.40,63.72 311.90,65.36 312.40,66.67 312.90,67.68 313.40,68.45 313.90,69.03 314.40,69.45 314.90,69.76 315.40,69.97 315.90,70.12 316.40,70.22 316.90,70.28 317.40,70.33 317.90,70.36 318.40,70.37 318.90,70.38 319.40,70.39 319.90,70.39 320.40,70.40 320.90,70.40 321.40,70.40 321.90,70.40 322.40,70.40 322.90,70.40 323.40,70.40 323.90,70.40 324.40,70.40 324.90,70.40 325.40,70.40 325.90,70.40 326.40,70.40 326.90,70.40 327.40,70.40 327.90,70.40 328.40,70.40 328.90,70.40 329.40,70.40 329.90,70.40 330.40,70.40 330.90,70.40 331.40,70.40 331.90,70.40 332.40,70.40 332.90,70.40 333.40,70.40 333.90,70.40 334.40,70.40 334.90,70.40 335.40,70.40 335.90,70.40 336.40,70.40 336.90,70.40 337.40,70.40 337.90,70.40 338.40,70.40 338.90,70.40 339.40,70.40 339.90,70.40 340.40,70.40 340.90,70.40 341.40,70.40 341.90,70.40 342.40,70.40 342.90,70.40 343.40,70.40 343.90,70.40 344.40,70.40 344.90,70.40 345.40,70.40 345.90,70.40 346.40,70.40 346.90,70.40 347.40,70.40 347.90,70.40 348.40,70.40 348.90,70.40 349.40,70.40 349.90,70.40 350.40,70.40 350.90,70.40 351.40,70.40 351.90,70.40 352.40,70.40 352.90,70.40 353.40,70.40 353.90,70.40 354.40,70.40 354.90,70.40 355.40,70.40 355.90,70.40 356.40,70.40 356.90,70.40 357.40,70.40 357.90,70.40 358.40,70.40 358.90,70.40 359.40,70.40 359.90,70.40 360.40,70.40 360.90,70.40 361.40,70.40 361.90,70.40" fill="none" stroke="#111" stroke-width="0.8" stroke-linejoin="round" />
<polyline points="295.40,70.40 295.90,70.40 296.40,70.40 296.90,70.40 297.40,70.39 297.90,70.39 298.40,70.37 298.90,70.34 299.40,70.28 299.90,70.17 300.40,69.96 300.90,69.61 301.40,69.03 301.90,68.12 302.40,66.72 302.90,64.69 303.40,61.86 303.90,58.08 304.40,53.27 304.90,47.46 305.40,40.79 305.90,33.55 306.40,26.22 306.90,19.34 307.40,13.52 307.90,9.32 308.40,7.17 308.90,7.30 309.40,9.67 309.90,14.02 310.40,19.89 310.90,26.69 311.40,33.83 311.90,40.77 312.40,47.08 312.90,52.50 313.40,56.91 313.90,60.33 314.40,62.86 314.90,64.65 315.40,65.87 315.90,66.68 316.40,67.21 316.90,67.54 317.40,67.76 317.90,67.92 318.40,68.04 318.90,68.15 319.40,68.26 319.90,68.37 320.40,68.49 320.90,68.61 321.40,68.73 321.90,68.86 322.40,68.98 322.90,69.11 323.40,69.23 323.90,69.35 324.40,69.46 324.90,69.57 325.40,69.67 325.90,69.76 326.40,69.84 326.90,69.92 327.40,69.99 327.90,70.05 328.40,70.10 328.90,70.15 329.40,70.19 329.90,70.23 330.40,70.26 330.90,70.29 331.40,70.31 331.90,70.33 332.40,70.34 332.90,70.35 333.40,70.36 333.90,70.37 334.40,70.38 334.90,70.38 335.40,70.39 335.90,70.39 336.40,70.39 336.90,70.39 337.40,70.40 337.90,70.40 338.40,70.40 338.90,70.40 339.40,70.40 339.90,70.40 340.40,70.40 340.90,70.40 341.40,70.40 341.90,70.40 342.40,70.40 342.90,70.40 343.40,70.40 343.90,70.40 344.40,70.40 344.90,70.40 345.40,70.40 345.90,70.40 346.40,70.40 346.90,70.40 347.40,70.40 347.90,70.40 348.40,70.40 348.90,70.40 349.40,70.40 349.90,70.40 350.40,70.40 350.90,70.40 351.40,70.40 351.90,70.40 352.40,70.40 352.90,70.40 353.40,70.40 353.90,70.40 354.40,70.40 354.90,70.40 355.40,70.40 355.90,70.40 356.40,70.40 356.90,70.40 357.40,70.40 357.90,70.40 358.40,70.40 358.90,70.40 359.40,70.40 359.90,70.40 360.40,70.40 360.90,70.40 361.40,70.40 361.90,70.40" fill="none" stroke="#2228b4" stroke-width="1.1" stroke-linejoin="round" />
<rect x="294.80" y="5.30" width="68.20" height="65.50" fill="none" stroke="#5a5a5a" stroke-width="0.9" />
<text x="293.30" y="74.40" font-size="2.6" font-weight="normal" fill="#777" >10</text>
<text x="310.35" y="74.40" font-size="2.6" font-weight="normal" fill="#777" >10</text>
<text x="327.40" y="74.40" font-size="2.6" font-weight="normal" fill="#777" >10</text>
<text x="344.45" y="74.40" font-size="2.6" font-weight="normal" fill="#777" >10</text>
<text x="361.50" y="74.40" font-size="2.6" font-weight="normal" fill="#777" >10</text>
<line x1="293.90" y1="5.30" x2="294.80" y2="5.30" stroke="#666" stroke-width="0.6" />
<text x="292.60" y="6.60" font-size="3.6" font-weight="bold" fill="#777" text-anchor="end" >0</text>
<line x1="293.90" y1="16.22" x2="294.80" y2="16.22" stroke="#666" stroke-width="0.6" />
<text x="292.60" y="17.52" font-size="3.6" font-weight="bold" fill="#777" text-anchor="end" >0</text>
<line x1="293.90" y1="27.13" x2="294.80" y2="27.13" stroke="#666" stroke-width="0.6" />
<text x="292.60" y="28.43" font-size="3.6" font-weight="bold" fill="#777" text-anchor="end" >0</text>
<line x1="293.90" y1="38.05" x2="294.80" y2="38.05" stroke="#666" stroke-width="0.6" />
<text x="292.60" y="39.35" font-size="3.6" font-weight="bold" fill="#777" text-anchor="end" >0</text>
<line x1="293.90" y1="48.97" x2="294.80" y2="48.97" stroke="#666" stroke-width="0.6" />
<text x="292.60" y="50.27" font-size="3.6" font-weight="bold" fill="#777" text-anchor="end" >0</text>
<line x1="293.90" y1="59.88" x2="294.80" y2="59.88" stroke="#666" stroke-width="0.6" />
<text x="292.60" y="61.18" font-size="3.6" font-weight="bold" fill="#777" text-anchor="end" >0</text>
<line x1="293.90" y1="70.80" x2="294.80" y2="70.80" stroke="#666" stroke-width="0.6" />
<text x="292.60" y="72.10" font-size="3.6" font-weight="bold" fill="#777" text-anchor="end" >0</text>
<polygon points="372.30,70.80 372.30,69.52 372.80,68.94 373.30,68.05 373.80,66.75 374.30,64.89 374.80,62.34 375.30,58.99 375.80,54.76 376.30,49.62 376.80,43.67 377.30,37.09 377.80,30.20 378.30,23.40 378.80,17.17 379.30,12.02 379.80,8.37 380.30,6.56 380.80,6.72 381.30,8.64 381.80,12.14 382.30,16.94 382.80,22.70 383.30,29.00 383.80,35.45 384.30,41.71 384.80,47.49 385.30,52.61 385.80,56.96 386.30,60.53 386.80,63.34 387.30,65.50 387.80,67.09 388.30,68.22 388.80,69.01 389.30,69.53 389.80,69.88 390.30,70.09 390.80,70.22 391.30,70.30 391.80,70.35 392.30,70.37 392.80,70.39 393.30,70.39 393.80,70.40 394.30,70.40 394.80,70.40 395.30,70.40 395.80,70.40 396.30,70.40 396.80,70.40 397.30,70.40 397.80,70.40 398.30,70.40 398.80,70.40 399.30,70.40 399.80,70.40 400.30,70.40 400.80,70.40 401.30,70.40 401.80,70.40 402.30,70.40 402.80,70.40 403.30,70.40 403.80,70.40 404.30,70.40 404.80,70.40 405.30,70.40 405.80,70.40 406.30,70.40 406.80,70.40 407.30,70.40 407.80,70.40 408.30,70.40 408.80,70.40 409.30,70.40 409.80,70.40 410.30,70.40 410.80,70.40 411.30,70.40 411.80,70.40 412.30,70.40 412.80,70.40 413.30,70.40 413.80,70.40 414.30,70.40 414.80,70.40 415.30,70.40 415.80,70.40 416.30,70.40 416.80,70.40 417.30,70.40 417.80,70.40 418.30,70.40 418.80,70.40 419.30,70.40 419.80,70.40 420.30,70.40 420.80,70.40 421.30,70.40 421.80,70.40 422.30,70.40 422.80,70.40 423.30,70.40 423.80,70.40 424.30,70.40 424.80,70.40 425.30,70.40 425.80,70.40 426.30,70.40 426.80,70.40 427.30,70.40 427.80,70.40 428.30,70.40 428.80,70.40 429.30,70.40 429.80,70.40 430.30,70.40 430.80,70.40 431.30,70.40 431.80,70.40 432.30,70.40 432.80,70.40 433.30,70.40 433.80,70.40 434.30,70.40 434.80,70.40 435.30,70.40 435.80,70.40 436.30,70.40 436.80,70.40 437.30,70.40 437.80,70.40 438.30,70.40 438.80,70.40 438.90,70.80" fill="#d2cfd8" stroke="#888" stroke-width="0.5" />
<polyline points="372.30,66.23 372.80,64.46 373.30,62.14 373.80,59.19 374.30,55.56 374.80,51.22 375.30,46.22 375.80,40.64 376.30,34.66 376.80,28.51 377.30,22.50 377.80,16.93 378.30,12.16 378.80,8.50 379.30,6.19 379.80,5.40 380.30,6.19 380.80,8.50 381.30,12.16 381.80,16.93 382.30,22.50 382.80,28.51 383.30,34.66 383.80,40.64 384.30,46.22 384.80,51.22 385.30,55.56 385.80,59.19 386.30,62.14 386.80,64.46 387.30,66.23 387.80,67.54 388.30,68.49 388.80,69.15 389.30,69.61 389.80,69.91 390.30,70.10 390.80,70.22 391.30,70.30 391.80,70.34 392.30,70.37 392.80,70.38 393.30,70.39 393.80,70.40 394.30,70.40 394.80,70.40 395.30,70.40 395.80,70.40 396.30,70.40 396.80,70.40 397.30,70.40 397.80,70.40 398.30,70.40 398.80,70.40 399.30,70.40 399.80,70.40 400.30,70.40 400.80,70.40 401.30,70.40 401.80,70.40 402.30,70.40 402.80,70.40 403.30,70.40 403.80,70.40 404.30,70.40 404.80,70.40 405.30,70.40 405.80,70.40 406.30,70.40 406.80,70.40 407.30,70.40 407.80,70.40 408.30,70.40 408.80,70.40 409.30,70.40 409.80,70.40 410.30,70.40 410.80,70.40 411.30,70.40 411.80,70.40 412.30,70.40 412.80,70.40 413.30,70.40 413.80,70.40 414.30,70.40 414.80,70.40 415.30,70.40 415.80,70.40 416.30,70.40 416.80,70.40 417.30,70.40 417.80,70.40 418.30,70.40 418.80,70.40 419.30,70.40 419.80,70.40 420.30,70.40 420.80,70.40 421.30,70.40 421.80,70.40 422.30,70.40 422.80,70.40 423.30,70.40 423.80,70.40 424.30,70.40 424.80,70.40 425.30,70.40 425.80,70.40 426.30,70.40 426.80,70.40 427.30,70.40 427.80,70.40 428.30,70.40 428.80,70.40 429.30,70.40 429.80,70.40 430.30,70.40 430.80,70.40 431.30,70.40 431.80,70.40 432.30,70.40 432.80,70.40 433.30,70.40 433.80,70.40 434.30,70.40 434.80,70.40 435.30,70.40 435.80,70.40 436.30,70.40 436.80,70.40 437.30,70.40 437.80,70.40 438.30,70.40 438.80,70.40" fill="none" stroke="#2fc82f" stroke-width="1.2" stroke-linejoin="round" />
<polyline points="372.30,69.03 372.80,68.20 373.30,66.97 373.80,65.23 374.30,62.84 374.80,59.70 375.30,55.73 375.80,50.91 376.30,45.31 376.80,39.11 377.30,32.57 377.80,26.06 378.30,19.99 378.80,14.78 379.30,10.80 379.80,8.33 380.30,7.39 380.80,7.49 381.30,8.61 381.80,10.77 382.30,13.95 382.80,18.10 383.30,23.02 383.80,28.31 384.30,33.72 384.80,39.05 385.30,44.14 385.80,48.84 386.30,53.06 386.80,56.73 387.30,59.86 387.80,62.44 388.30,64.51 388.80,66.14 389.30,67.38 389.80,68.31 390.30,68.98 390.80,69.46 391.30,69.79 391.80,70.01 392.30,70.16 392.80,70.25 393.30,70.31 393.80,70.35 394.30,70.37 394.80,70.38 395.30,70.39 395.80,70.40 396.30,70.40 396.80,70.40 397.30,70.40 397.80,70.40 398.30,70.40 398.80,70.40 399.30,70.40 399.80,70.40 400.30,70.40 400.80,70.40 401.30,70.40 401.80,70.40 402.30,70.40 402.80,70.40 403.30,70.40 403.80,70.40 404.30,70.40 404.80,70.40 405.30,70.40 405.80,70.40 406.30,70.40 406.80,70.40 407.30,70.40 407.80,70.40 408.30,70.40 408.80,70.40 409.30,70.40 409.80,70.40 410.30,70.40 410.80,70.40 411.30,70.40 411.80,70.40 412.30,70.40 412.80,70.40 413.30,70.40 413.80,70.40 414.30,70.40 414.80,70.40 415.30,70.40 415.80,70.40 416.30,70.40 416.80,70.40 417.30,70.40 417.80,70.40 418.30,70.40 418.80,70.40 419.30,70.40 419.80,70.40 420.30,70.40 420.80,70.40 421.30,70.40 421.80,70.40 422.30,70.40 422.80,70.40 423.30,70.40 423.80,70.40 424.30,70.40 424.80,70.40 425.30,70.40 425.80,70.40 426.30,70.40 426.80,70.40 427.30,70.40 427.80,70.40 428.30,70.40 428.80,70.40 429.30,70.40 429.80,70.40 430.30,70.40 430.80,70.40 431.30,70.40 431.80,70.40 432.30,70.40 432.80,70.40 433.30,70.40 433.80,70.40 434.30,70.40 434.80,70.40 435.30,70.40 435.80,70.40 436.30,70.40 436.80,70.40 437.30,70.40 437.80,70.40 438.30,70.40 438.80,70.40" fill="none" stroke="#111" stroke-width="0.8" stroke-linejoin="round" />
<polyline points="372.30,70.40 372.80,70.40 373.30,70.40 373.80,70.40 374.30,70.40 374.80,70.40 375.30,70.40 375.80,70.40 376.30,70.40 376.80,70.40 377.30,70.40 377.80,70.39 378.30,70.39 378.80,70.39 379.30,70.38 379.80,70.37 380.30,70.35 380.80,70.32 381.30,70.28 381.80,70.21 382.30,70.10 382.80,69.94 383.30,69.69 383.80,69.31 384.30,68.78 384.80,68.01 385.30,66.95 385.80,65.52 386.30,63.65 386.80,61.25 387.30,58.26 387.80,54.67 388.30,50.47 388.80,45.74 389.30,40.58 389.80,35.19 390.30,29.78 390.80,24.65 391.30,20.07 391.80,16.32 392.30,13.66 392.80,12.25 393.30,12.13 393.80,13.11 394.30,15.10 394.80,17.98 395.30,21.59 395.80,25.76 396.30,30.27 396.80,34.93 397.30,39.54 397.80,43.96 398.30,48.07 398.80,51.79 399.30,55.07 399.80,57.89 400.30,60.27 400.80,62.24 401.30,63.84 401.80,65.12 402.30,66.14 402.80,66.94 403.30,67.57 403.80,68.07 404.30,68.46 404.80,68.78 405.30,69.04 405.80,69.25 406.30,69.42 406.80,69.57 407.30,69.70 407.80,69.81 408.30,69.90 408.80,69.99 409.30,70.06 409.80,70.11 410.30,70.17 410.80,70.21 411.30,70.24 411.80,70.28 412.30,70.30 412.80,70.32 413.30,70.34 413.80,70.35 414.30,70.36 414.80,70.37 415.30,70.38 415.80,70.38 416.30,70.39 416.80,70.39 417.30,70.39 417.80,70.39 418.30,70.40 418.80,70.40 419.30,70.40 419.80,70.40 420.30,70.40 420.80,70.40 421.30,70.40 421.80,70.40 422.30,70.40 422.80,70.40 423.30,70.40 423.80,70.40 424.30,70.40 424.80,70.40 425.30,70.40 425.80,70.40 426.30,70.40 426.80,70.40 427.30,70.40 427.80,70.40 428.30,70.40 428.80,70.40 429.30,70.40 429.80,70.40 430.30,70.40 430.80,70.40 431.30,70.40 431.80,70.40 432.30,70.40 432.80,70.40 433.30,70.40 433.80,70.40 434.30,70.40 434.80,70.40 435.30,70.40 435.80,70.40 436.30,70.40 436.80,70.40 437.30,70.40 437.80,70.40 438.30,70.40 438.80,70.40" fill="none" stroke="#2228b4" stroke-width="1.1" stroke-linejoin="round" />
<rect x="371.70" y="5.30" width="67.80" height="65.50" fill="none" stroke="#5a5a5a" stroke-width="0.9" />
<text x="370.20" y="74.40" font-size="2.6" font-weight="normal" fill="#777" >10</text>
<text x="387.15" y="74.40" font-size="2.6" font-weight="normal" fill="#777" >10</text>
<text x="404.10" y="74.40" font-size="2.6" font-weight="normal" fill="#777" >10</text>
<text x="421.05" y="74.40" font-size="2.6" font-weight="normal" fill="#777" >10</text>
<text x="438.00" y="74.40" font-size="2.6" font-weight="normal" fill="#777" >10</text>
<line x1="370.80" y1="5.30" x2="371.70" y2="5.30" stroke="#666" stroke-width="0.6" />
<text x="369.50" y="6.60" font-size="3.6" font-weight="bold" fill="#777" text-anchor="end" >0</text>
<line x1="370.80" y1="16.22" x2="371.70" y2="16.22" stroke="#666" stroke-width="0.6" />
<text x="369.50" y="17.52" font-size="3.6" font-weight="bold" fill="#777" text-anchor="end" >0</text>
<line x1="370.80" y1="27.13" x2="371.70" y2="27.13" stroke="#666" stroke-width="0.6" />
<text x="369.50" y="28.43" font-size="3.6" font-weight="bold" fill="#777" text-anchor="end" >0</text>
<line x1="370.80" y1="38.05" x2="371.70" y2="38.05" stroke="#666" stroke-width="0.6" />
<text x="369.50" y="39.35" font-size="3.6" font-weight="bold" fill="#777" text-anchor="end" >0</text>
<line x1="370.80" y1="48.97" x2="371.70" y2="48.97" stroke="#666" stroke-width="0.6" />
<text x="369.50" y="50.27" font-size="3.6" font-weight="bold" fill="#777" text-anchor="end" >0</text>
<line x1="370.80" y1="59.88" x2="371.70" y2="59.88" stroke="#666" stroke-width="0.6" />
<text x="369.50" y="61.18" font-size="3.6" font-weight="bold" fill="#777" text-anchor="end" >0</text>
<line x1="370.80" y1="70.80" x2="371.70" y2="70.80" stroke="#666" stroke-width="0.6" />
<text x="369.50" y="72.10" font-size="3.6" font-weight="bold" fill="#777" text-anchor="end" >0</text>
<polygon points="448.90,70.80 448.90,69.86 449.40,69.51 449.90,68.99 450.40,68.22 450.90,67.12 451.40,65.60 451.90,63.57 452.40,60.94 452.90,57.67 453.40,53.73 453.90,49.18 454.40,44.12 454.90,38.74 455.40,33.31 455.90,28.13 456.40,23.56 456.90,19.91 457.40,17.47 457.90,16.43 458.40,16.80 458.90,18.37 459.40,21.05 459.90,24.65 460.40,28.95 460.90,33.70 461.40,38.64 461.90,43.54 462.40,48.20 462.90,52.47 463.40,56.24 463.90,59.48 464.40,62.17 464.90,64.33 465.40,66.03 465.90,67.32 466.40,68.28 466.90,68.98 467.40,69.47 467.90,69.80 468.40,70.02 468.90,70.17 469.40,70.26 469.90,70.32 470.40,70.35 470.90,70.37 471.40,70.39 471.90,70.39 472.40,70.40 472.90,70.40 473.40,70.40 473.90,70.40 474.40,70.40 474.90,70.40 475.40,70.40 475.90,70.40 476.40,70.40 476.90,70.40 477.40,70.40 477.90,70.40 478.40,70.40 478.90,70.40 479.40,70.40 479.90,70.40 480.40,70.40 480.90,70.40 481.40,70.40 481.90,70.40 482.40,70.40 482.90,70.40 483.40,70.40 483.90,70.40 484.40,70.40 484.90,70.40 485.40,70.40 485.90,70.40 486.40,70.40 486.90,70.40 487.40,70.40 487.90,70.40 488.40,70.40 488.90,70.40 489.40,70.40 489.90,70.40 490.40,70.40 490.90,70.40 491.40,70.40 491.90,70.40 492.40,70.40 492.90,70.40 493.40,70.40 493.90,70.40 494.40,70.40 494.90,70.40 495.40,70.40 495.90,70.40 496.40,70.40 496.90,70.40 497.40,70.40 497.90,70.40 498.40,70.40 498.90,70.40 499.40,70.40 499.90,70.40 500.40,70.40 500.90,70.40 501.40,70.40 501.90,70.40 502.40,70.40 502.90,70.40 503.40,70.40 503.90,70.40 504.40,70.40 504.90,70.40 505.40,70.40 505.90,70.40 506.40,70.40 506.90,70.40 507.40,70.40 507.90,70.40 508.40,70.40 508.90,70.40 509.40,70.40 509.90,70.40 510.40,70.40 510.90,70.40 511.40,70.40 511.90,70.40 512.40,70.40 512.90,70.40 513.40,70.40 513.90,70.40 514.40,70.40 514.90,70.40 515.10,70.80" fill="#d2cfd8" stroke="#888" stroke-width="0.5" />
<polyline points="448.90,28.80 449.40,62.31 449.90,68.37 450.40,67.30 450.90,65.78 451.40,63.72 451.90,61.00 452.40,57.54 452.90,53.28 453.40,48.23 453.90,42.48 454.40,36.20 454.90,29.66 455.40,23.20 455.90,17.21 456.40,12.11 456.90,8.26 457.40,5.98 457.90,5.43 458.40,6.35 458.90,8.53 459.40,11.85 459.90,16.11 460.40,21.07 460.90,26.49 461.40,32.10 461.90,37.67 462.40,43.00 462.90,47.92 463.40,52.33 463.90,56.17 464.40,59.42 464.90,62.10 465.40,64.25 465.90,65.93 466.40,67.22 466.90,68.19 467.40,68.89 467.90,69.39 468.40,69.74 468.90,69.97 469.40,70.13 469.90,70.23 470.40,70.30 470.90,70.34 471.40,70.37 471.90,70.38 472.40,70.39 472.90,70.39 473.40,70.40 473.90,70.40 474.40,70.40 474.90,70.40 475.40,70.40 475.90,70.40 476.40,70.40 476.90,70.40 477.40,70.40 477.90,70.40 478.40,70.40 478.90,70.40 479.40,70.40 479.90,70.40 480.40,70.40 480.90,70.40 481.40,70.40 481.90,70.40 482.40,70.40 482.90,70.40 483.40,70.40 483.90,70.40 484.40,70.40 484.90,70.40 485.40,70.40 485.90,70.40 486.40,70.40 486.90,70.40 487.40,70.40 487.90,70.40 488.40,70.40 488.90,70.40 489.40,70.40 489.90,70.40 490.40,70.40 490.90,70.40 491.40,70.40 491.90,70.40 492.40,70.40 492.90,70.40 493.40,70.40 493.90,70.40 494.40,70.40 494.90,70.40 495.40,70.40 495.90,70.40 496.40,70.40 496.90,70.40 497.40,70.40 497.90,70.40 498.40,70.40 498.90,70.40 499.40,70.40 499.90,70.40 500.40,70.40 500.90,70.40 501.40,70.40 501.90,70.40 502.40,70.40 502.90,70.40 503.40,70.40 503.90,70.40 504.40,70.40 504.90,70.40 505.40,70.40 505.90,70.40 506.40,70.40 506.90,70.40 507.40,70.40 507.90,70.40 508.40,70.40 508.90,70.40 509.40,70.40 509.90,70.40 510.40,70.40 510.90,70.40 511.40,70.40 511.90,70.40 512.40,70.40 512.90,70.40 513.40,70.40 513.90,70.40 514.40,70.40 514.90,70.40" fill="none" stroke="#2fc82f" stroke-width="1.2" stroke-linejoin="round" />
<polyline points="448.90,69.56 449.40,69.05 449.90,68.29 450.40,67.19 450.90,65.65 451.40,63.56 451.90,60.83 452.40,57.38 452.90,53.16 453.40,48.20 453.90,42.60 454.40,36.54 454.90,30.29 455.40,24.19 455.90,18.61 456.40,13.96 456.90,10.57 457.40,8.71 457.90,8.50 458.40,9.63 458.90,11.94 459.40,15.30 459.90,19.51 460.40,24.36 460.90,29.58 461.40,34.94 461.90,40.22 462.40,45.23 462.90,49.84 463.40,53.94 463.90,57.49 464.40,60.48 464.90,62.93 465.40,64.89 465.90,66.41 466.40,67.58 466.90,68.44 467.40,69.07 467.90,69.51 468.40,69.82 468.90,70.03 469.40,70.17 469.90,70.26 470.40,70.31 470.90,70.35 471.40,70.37 471.90,70.38 472.40,70.39 472.90,70.40 473.40,70.40 473.90,70.40 474.40,70.40 474.90,70.40 475.40,70.40 475.90,70.40 476.40,70.40 476.90,70.40 477.40,70.40 477.90,70.40 478.40,70.40 478.90,70.40 479.40,70.40 479.90,70.40 480.40,70.40 480.90,70.40 481.40,70.40 481.90,70.40 482.40,70.40 482.90,70.40 483.40,70.40 483.90,70.40 484.40,70.40 484.90,70.40 485.40,70.40 485.90,70.40 486.40,70.40 486.90,70.40 487.40,70.40 487.90,70.40 488.40,70.40 488.90,70.40 489.40,70.40 489.90,70.40 490.40,70.40 490.90,70.40 491.40,70.40 491.90,70.40 492.40,70.40 492.90,70.40 493.40,70.40 493.90,70.40 494.40,70.40 494.90,70.40 495.40,70.40 495.90,70.40 496.40,70.40 496.90,70.40 497.40,70.40 497.90,70.40 498.40,70.40 498.90,70.40 499.40,70.40 499.90,70.40 500.40,70.40 500.90,70.40 501.40,70.40 501.90,70.40 502.40,70.40 502.90,70.40 503.40,70.40 503.90,70.40 504.40,70.40 504.90,70.40 505.40,70.40 505.90,70.40 506.40,70.40 506.90,70.40 507.40,70.40 507.90,70.40 508.40,70.40 508.90,70.40 509.40,70.40 509.90,70.40 510.40,70.40 510.90,70.40 511.40,70.40 511.90,70.40 512.40,70.40 512.90,70.40 513.40,70.40 513.90,70.40 514.40,70.40 514.90,70.40" fill="none" stroke="#111" stroke-width="0.8" stroke-linejoin="round" />
<polyline points="448.90,70.40 449.40,70.40 449.90,70.40 450.40,70.40 450.90,70.40 451.40,70.40 451.90,70.40 452.40,70.40 452.90,70.40 453.40,70.40 453.90,70.40 454.40,70.40 454.90,70.40 455.40,70.40 455.90,70.40 456.40,70.39 456.90,70.38 457.40,70.36 457.90,70.33 458.40,70.27 458.90,70.17 459.40,70.01 459.90,69.74 460.40,69.33 460.90,68.69 461.40,67.76 461.90,66.43 462.40,64.59 462.90,62.13 463.40,58.96 463.90,54.99 464.40,50.23 464.90,44.70 465.40,38.56 465.90,32.03 466.40,25.42 466.90,19.11 467.40,13.50 467.90,9.00 468.40,5.94 468.90,5.20 469.40,5.20 469.90,6.59 470.40,9.66 470.90,13.85 471.40,18.89 471.90,24.48 472.40,30.32 472.90,36.14 473.40,41.70 473.90,46.82 474.40,51.37 474.90,55.30 475.40,58.61 475.90,61.31 476.40,63.47 476.90,65.16 477.40,66.46 477.90,67.44 478.40,68.18 478.90,68.73 479.40,69.14 479.90,69.45 480.40,69.68 480.90,69.85 481.40,69.98 481.90,70.08 482.40,70.16 482.90,70.22 483.40,70.27 483.90,70.30 484.40,70.33 484.90,70.35 485.40,70.37 485.90,70.38 486.40,70.38 486.90,70.39 487.40,70.39 487.90,70.40 488.40,70.40 488.90,70.40 489.40,70.40 489.90,70.40 490.40,70.40 490.90,70.40 491.40,70.40 491.90,70.40 492.40,70.40 492.90,70.40 493.40,70.40 493.90,70.40 494.40,70.40 494.90,70.40 495.40,70.40 495.90,70.40 496.40,70.40 496.90,70.40 497.40,70.40 497.90,70.40 498.40,70.40 498.90,70.40 499.40,70.40 499.90,70.40 500.40,70.40 500.90,70.40 501.40,70.40 501.90,70.40 502.40,70.40 502.90,70.40 503.40,70.40 503.90,70.40 504.40,70.40 504.90,70.40 505.40,70.40 505.90,70.40 506.40,70.40 506.90,70.40 507.40,70.40 507.90,70.40 508.40,70.40 508.90,70.40 509.40,70.40 509.90,70.40 510.40,70.40 510.90,70.40 511.40,70.40 511.90,70.40 512.40,70.40 512.90,70.40 513.40,70.40 513.90,70.40 514.40,70.40 514.90,70.40" fill="none" stroke="#2228b4" stroke-width="1.1" stroke-linejoin="round" />
<rect x="448.30" y="5.30" width="67.40" height="65.50" fill="none" stroke="#5a5a5a" stroke-width="0.9" />
<text x="446.80" y="74.40" font-size="2.6" font-weight="normal" fill="#777" >10</text>
<text x="463.65" y="74.40" font-size="2.6" font-weight="normal" fill="#777" >10</text>
<text x="480.50" y="74.40" font-size="2.6" font-weight="normal" fill="#777" >10</text>
<text x="497.35" y="74.40" font-size="2.6" font-weight="normal" fill="#777" >10</text>
<text x="514.20" y="74.40" font-size="2.6" font-weight="normal" fill="#777" >10</text>
<line x1="447.40" y1="5.30" x2="448.30" y2="5.30" stroke="#666" stroke-width="0.6" />
<text x="446.10" y="6.60" font-size="3.6" font-weight="bold" fill="#777" text-anchor="end" >0</text>
<line x1="447.40" y1="16.22" x2="448.30" y2="16.22" stroke="#666" stroke-width="0.6" />
<text x="446.10" y="17.52" font-size="3.6" font-weight="bold" fill="#777" text-anchor="end" >0</text>
<line x1="447.40" y1="27.13" x2="448.30" y2="27.13" stroke="#666" stroke-width="0.6" />
<text x="446.10" y="28.43" font-size="3.6" font-weight="bold" fill="#777" text-anchor="end" >0</text>
<line x1="447.40" y1="38.05" x2="448.30" y2="38.05" stroke="#666" stroke-width="0.6" />
<text x="446.10" y="39.35" font-size="3.6" font-weight="bold" fill="#777" text-anchor="end" >0</text>
<line x1="447.40" y1="48.97" x2="448.30" y2="48.97" stroke="#666" stroke-width="0.6" />
<text x="446.10" y="50.27" font-size="3.6" font-weight="bold" fill="#777" text-anchor="end" >0</text>
<line x1="447.40" y1="59.88" x2="448.30" y2="59.88" stroke="#666" stroke-width="0.6" />
<text x="446.10" y="61.18" font-size="3.6" font-weight="bold" fill="#777" text-anchor="end" >0</text>
<line x1="447.40" y1="70.80" x2="448.30" y2="70.80" stroke="#666" stroke-width="0.6" />
<text x="446.10" y="72.10" font-size="3.6" font-weight="bold" fill="#777" text-anchor="end" >0</text>
<polygon points="219.10,152.90 219.10,152.29 219.60,152.12 220.10,151.76 220.60,151.00 221.10,149.44 221.60,146.52 222.10,141.53 222.60,133.87 223.10,123.46 223.60,111.15 224.10,98.81 224.60,88.95 225.10,87.70 225.60,87.70 226.10,87.70 226.60,90.87 227.10,97.01 227.60,103.93 228.10,110.89 228.60,117.34 229.10,122.90 229.60,127.41 230.10,130.89 230.60,133.48 231.10,135.38 231.60,136.74 232.10,137.71 232.60,138.44 233.10,139.05 233.60,139.61 234.10,140.18 234.60,140.78 235.10,141.40 235.60,142.06 236.10,142.74 236.60,143.44 237.10,144.15 237.60,144.85 238.10,145.55 238.60,146.22 239.10,146.87 239.60,147.49 240.10,148.07 240.60,148.61 241.10,149.11 241.60,149.56 242.10,149.97 242.60,150.34 243.10,150.67 243.60,150.96 244.10,151.21 244.60,151.43 245.10,151.62 245.60,151.77 246.10,151.91 246.60,152.02 247.10,152.12 247.60,152.20 248.10,152.26 248.60,152.31 249.10,152.35 249.60,152.39 250.10,152.41 250.60,152.43 251.10,152.45 251.60,152.46 252.10,152.47 252.60,152.48 253.10,152.48 253.60,152.49 254.10,152.49 254.60,152.49 255.10,152.50 255.60,152.50 256.10,152.50 256.60,152.50 257.10,152.50 257.60,152.50 258.10,152.50 258.60,152.50 259.10,152.50 259.60,152.50 260.10,152.50 260.60,152.50 261.10,152.50 261.60,152.50 262.10,152.50 262.60,152.50 263.10,152.50 263.60,152.50 264.10,152.50 264.60,152.50 265.10,152.50 265.60,152.50 266.10,152.50 266.60,152.50 267.10,152.50 267.60,152.50 268.10,152.50 268.60,152.50 269.10,152.50 269.60,152.50 270.10,152.50 270.60,152.50 271.10,152.50 271.60,152.50 272.10,152.50 272.60,152.50 273.10,152.50 273.60,152.50 274.10,152.50 274.60,152.50 275.10,152.50 275.60,152.50 276.10,152.50 276.60,152.50 277.10,152.50 277.60,152.50 278.10,152.50 278.60,152.50 279.10,152.50 279.60,152.50 280.10,152.50 280.60,152.50 281.10,152.50 281.60,152.50 282.10,152.50 282.60,152.50 283.10,152.50 283.60,152.50 284.10,152.50 284.60,152.50 285.10,152.50 285.60,152.50 286.10,152.50 286.40,152.90" fill="#d2cfd8" stroke="#888" stroke-width="0.5" />
<polyline points="219.10,152.45 219.60,97.01 220.10,106.96 220.60,115.02 221.10,121.46 221.60,126.51 222.10,130.29 222.60,132.89 223.10,134.35 223.60,134.69 224.10,133.96 224.60,132.24 225.10,129.67 225.60,126.51 226.10,123.09 226.60,119.80 227.10,117.06 227.60,115.26 228.10,114.68 228.60,115.17 229.10,116.16 229.60,117.62 230.10,119.51 230.60,121.75 231.10,124.26 231.60,126.96 232.10,129.75 232.60,132.54 233.10,135.25 233.60,137.82 234.10,140.20 234.60,142.35 235.10,144.26 235.60,145.90 236.10,147.30 236.60,148.47 237.10,149.42 237.60,150.18 238.10,150.78 238.60,151.25 239.10,151.60 239.60,151.86 240.10,152.05 240.60,152.19 241.10,152.29 241.60,152.36 242.10,152.41 242.60,152.44 243.10,152.46 243.60,152.47 244.10,152.48 244.60,152.49 245.10,152.49 245.60,152.50 246.10,152.50 246.60,152.50 247.10,152.50 247.60,152.50 248.10,152.50 248.60,152.50 249.10,152.50 249.60,152.50 250.10,152.50 250.60,152.50 251.10,152.50 251.60,152.50 252.10,152.50 252.60,152.50 253.10,152.50 253.60,152.50 254.10,152.50 254.60,152.50 255.10,152.50 255.60,152.50 256.10,152.50 256.60,152.50 257.10,152.50 257.60,152.50 258.10,152.50 258.60,152.50 259.10,152.50 259.60,152.50 260.10,152.50 260.60,152.50 261.10,152.50 261.60,152.50 262.10,152.50 262.60,152.50 263.10,152.50 263.60,152.50 264.10,152.50 264.60,152.50 265.10,152.50 265.60,152.50 266.10,152.50 266.60,152.50 267.10,152.50 267.60,152.50 268.10,152.50 268.60,152.50 269.10,152.50 269.60,152.50 270.10,152.50 270.60,152.50 271.10,152.50 271.60,152.50 272.10,152.50 272.60,152.50 273.10,152.50 273.60,152.50 274.10,152.50 274.60,152.50 275.10,152.50 275.60,152.50 276.10,152.50 276.60,152.50 277.10,152.50 277.60,152.50 278.10,152.50 278.60,152.50 279.10,152.50 279.60,152.50 280.10,152.50 280.60,152.50 281.10,152.50 281.60,152.50 282.10,152.50 282.60,152.50 283.10,152.50 283.60,152.50 284.10,152.50 284.60,152.50 285.10,152.50 285.60,152.50 286.10,152.50" fill="none" stroke="#2fc82f" stroke-width="1.2" stroke-linejoin="round" />
<polyline points="219.10,115.68 219.60,115.52 220.10,115.58 220.60,115.68 221.10,115.84 221.60,116.04 222.10,116.29 222.60,116.58 223.10,116.91 223.60,117.28 224.10,117.70 224.60,118.15 225.10,118.64 225.60,119.17 226.10,119.73 226.60,120.32 227.10,120.95 227.60,121.60 228.10,122.27 228.60,122.97 229.10,123.69 229.60,124.42 230.10,125.17 230.60,125.94 231.10,126.72 231.60,127.51 232.10,128.30 232.60,129.10 233.10,129.90 233.60,130.70 234.10,131.50 234.60,132.30 235.10,133.09 235.60,133.87 236.10,134.64 236.60,135.41 237.10,136.16 237.60,136.90 238.10,137.63 238.60,138.33 239.10,139.03 239.60,139.70 240.10,140.36 240.60,141.00 241.10,141.61 241.60,142.21 242.10,142.79 242.60,143.35 243.10,143.88 243.60,144.40 244.10,144.89 244.60,145.36 245.10,145.82 245.60,146.25 246.10,146.66 246.60,147.05 247.10,147.42 247.60,147.77 248.10,148.11 248.60,148.42 249.10,148.72 249.60,149.00 250.10,149.26 250.60,149.51 251.10,149.74 251.60,149.96 252.10,150.16 252.60,150.35 253.10,150.53 253.60,150.69 254.10,150.85 254.60,150.99 255.10,151.12 255.60,151.24 256.10,151.35 256.60,151.46 257.10,151.55 257.60,151.64 258.10,151.72 258.60,151.79 259.10,151.86 259.60,151.92 260.10,151.98 260.60,152.03 261.10,152.08 261.60,152.12 262.10,152.16 262.60,152.20 263.10,152.23 263.60,152.26 264.10,152.28 264.60,152.31 265.10,152.33 265.60,152.35 266.10,152.36 266.60,152.38 267.10,152.39 267.60,152.41 268.10,152.42 268.60,152.43 269.10,152.44 269.60,152.44 270.10,152.45 270.60,152.46 271.10,152.46 271.60,152.47 272.10,152.47 272.60,152.47 273.10,152.48 273.60,152.48 274.10,152.48 274.60,152.49 275.10,152.49 275.60,152.49 276.10,152.49 276.60,152.49 277.10,152.49 277.60,152.49 278.10,152.49 278.60,152.50 279.10,152.50 279.60,152.50 280.10,152.50 280.60,152.50 281.10,152.50 281.60,152.50 282.10,152.50 282.60,152.50 283.10,152.50 283.60,152.50 284.10,152.50 284.60,152.50 285.10,152.50 285.60,152.50 286.10,152.50" fill="none" stroke="#111" stroke-width="0.8" stroke-linejoin="round" />
<polyline points="219.10,146.50 219.60,143.50 220.10,148.49 220.60,152.49 221.10,152.48 221.60,152.47 222.10,152.46 222.60,152.43 223.10,152.39 223.60,152.34 224.10,152.25 224.60,152.13 225.10,151.96 225.60,151.72 226.10,151.40 226.60,150.97 227.10,150.40 227.60,149.66 228.10,148.71 228.60,147.54 229.10,146.10 229.60,144.37 230.10,142.34 230.60,139.99 231.10,137.34 231.60,134.41 232.10,131.25 232.60,127.93 233.10,124.52 233.60,121.14 234.10,117.90 234.60,114.91 235.10,112.30 235.60,110.17 236.10,108.62 236.60,107.71 237.10,107.49 237.60,107.79 238.10,108.53 238.60,109.68 239.10,111.20 239.60,113.05 240.10,115.18 240.60,117.52 241.10,120.01 241.60,122.59 242.10,125.18 242.60,127.74 243.10,130.22 243.60,132.56 244.10,134.73 244.60,136.72 245.10,138.50 245.60,140.06 246.10,141.42 246.60,142.59 247.10,143.57 247.60,144.40 248.10,145.10 248.60,145.69 249.10,146.19 249.60,146.64 250.10,147.05 250.60,147.41 251.10,147.72 251.60,148.01 252.10,148.27 252.60,148.51 253.10,148.75 253.60,148.98 254.10,149.20 254.60,149.43 255.10,149.65 255.60,149.87 256.10,150.08 256.60,150.29 257.10,150.50 257.60,150.70 258.10,150.89 258.60,151.06 259.10,151.23 259.60,151.39 260.10,151.53 260.60,151.66 261.10,151.78 261.60,151.88 262.10,151.98 262.60,152.06 263.10,152.13 263.60,152.19 264.10,152.25 264.60,152.29 265.10,152.33 265.60,152.36 266.10,152.39 266.60,152.41 267.10,152.43 267.60,152.45 268.10,152.46 268.60,152.47 269.10,152.47 269.60,152.48 270.10,152.49 270.60,152.49 271.10,152.49 271.60,152.49 272.10,152.50 272.60,152.50 273.10,152.50 273.60,152.50 274.10,152.50 274.60,152.50 275.10,152.50 275.60,152.50 276.10,152.50 276.60,152.50 277.10,152.50 277.60,152.50 278.10,152.50 278.60,152.50 279.10,152.50 279.60,152.50 280.10,152.50 280.60,152.50 281.10,152.50 281.60,152.50 282.10,152.50 282.60,152.50 283.10,152.50 283.60,152.50 284.10,152.50 284.60,152.50 285.10,152.50 285.60,152.50 286.10,152.50" fill="none" stroke="#2228b4" stroke-width="1.1" stroke-linejoin="round" />
<rect x="218.50" y="87.80" width="68.50" height="65.10" fill="none" stroke="#5a5a5a" stroke-width="0.9" />
<text x="217.00" y="156.50" font-size="2.6" font-weight="normal" fill="#777" >10</text>
<text x="234.12" y="156.50" font-size="2.6" font-weight="normal" fill="#777" >10</text>
<text x="251.25" y="156.50" font-size="2.6" font-weight="normal" fill="#777" >10</text>
<text x="268.38" y="156.50" font-size="2.6" font-weight="normal" fill="#777" >10</text>
<text x="285.50" y="156.50" font-size="2.6" font-weight="normal" fill="#777" >10</text>
<line x1="217.60" y1="87.80" x2="218.50" y2="87.80" stroke="#666" stroke-width="0.6" />
<text x="216.30" y="89.10" font-size="3.6" font-weight="bold" fill="#777" text-anchor="end" >0</text>
<line x1="217.60" y1="98.65" x2="218.50" y2="98.65" stroke="#666" stroke-width="0.6" />
<text x="216.30" y="99.95" font-size="3.6" font-weight="bold" fill="#777" text-anchor="end" >0</text>
<line x1="217.60" y1="109.50" x2="218.50" y2="109.50" stroke="#666" stroke-width="0.6" />
<text x="216.30" y="110.80" font-size="3.6" font-weight="bold" fill="#777" text-anchor="end" >0</text>
<line x1="217.60" y1="120.35" x2="218.50" y2="120.35" stroke="#666" stroke-width="0.6" />
<text x="216.30" y="121.65" font-size="3.6" font-weight="bold" fill="#777" text-anchor="end" >0</text>
<line x1="217.60" y1="131.20" x2="218.50" y2="131.20" stroke="#666" stroke-width="0.6" />
<text x="216.30" y="132.50" font-size="3.6" font-weight="bold" fill="#777" text-anchor="end" >0</text>
<line x1="217.60" y1="142.05" x2="218.50" y2="142.05" stroke="#666" stroke-width="0.6" />
<text x="216.30" y="143.35" font-size="3.6" font-weight="bold" fill="#777" text-anchor="end" >0</text>
<line x1="217.60" y1="152.90" x2="218.50" y2="152.90" stroke="#666" stroke-width="0.6" />
<text x="216.30" y="154.20" font-size="3.6" font-weight="bold" fill="#777" text-anchor="end" >0</text>
<polygon points="295.40,152.90 295.40,151.13 295.90,150.13 296.40,148.56 296.90,146.23 297.40,142.94 297.90,138.55 298.40,133.02 298.90,126.45 299.40,119.13 299.90,111.58 300.40,104.46 300.90,98.48 301.40,94.35 301.90,92.55 302.40,93.03 302.90,95.14 303.40,98.69 303.90,103.40 304.40,108.93 304.90,114.90 305.40,120.93 305.90,126.73 306.40,132.03 306.90,136.69 307.40,140.63 307.90,143.82 308.40,146.34 308.90,148.24 309.40,149.64 309.90,150.63 310.40,151.31 310.90,151.76 311.40,152.06 311.90,152.24 312.40,152.35 312.90,152.42 313.40,152.46 313.90,152.48 314.40,152.49 314.90,152.49 315.40,152.50 315.90,152.50 316.40,152.50 316.90,152.50 317.40,152.50 317.90,152.50 318.40,152.50 318.90,152.50 319.40,152.50 319.90,152.50 320.40,152.50 320.90,152.50 321.40,152.50 321.90,152.50 322.40,152.50 322.90,152.50 323.40,152.50 323.90,152.50 324.40,152.50 324.90,152.50 325.40,152.50 325.90,152.50 326.40,152.50 326.90,152.50 327.40,152.50 327.90,152.50 328.40,152.50 328.90,152.50 329.40,152.50 329.90,152.50 330.40,152.50 330.90,152.50 331.40,152.50 331.90,152.50 332.40,152.50 332.90,152.50 333.40,152.50 333.90,152.50 334.40,152.50 334.90,152.50 335.40,152.50 335.90,152.50 336.40,152.50 336.90,152.50 337.40,152.50 337.90,152.50 338.40,152.50 338.90,152.50 339.40,152.50 339.90,152.50 340.40,152.50 340.90,152.50 341.40,152.50 341.90,152.50 342.40,152.50 342.90,152.50 343.40,152.50 343.90,152.50 344.40,152.50 344.90,152.50 345.40,152.50 345.90,152.50 346.40,152.50 346.90,152.50 347.40,152.50 347.90,152.50 348.40,152.50 348.90,152.50 349.40,152.50 349.90,152.50 350.40,152.50 350.90,152.50 351.40,152.50 351.90,152.50 352.40,152.50 352.90,152.50 353.40,152.50 353.90,152.50 354.40,152.50 354.90,152.50 355.40,152.50 355.90,152.50 356.40,152.50 356.90,152.50 357.40,152.50 357.90,152.50 358.40,152.50 358.90,152.50 359.40,152.50 359.90,152.50 360.40,152.50 360.90,152.50 361.40,152.50 361.90,152.50 362.40,152.90" fill="#d2cfd8" stroke="#888" stroke-width="0.5" />
<polyline points="295.40,116.58 295.90,87.70 296.40,114.64 296.90,147.80 297.40,145.08 297.90,141.29 298.40,136.29 298.90,130.06 299.40,122.74 299.90,114.72 300.40,106.57 300.90,99.03 301.40,92.90 301.90,88.90 302.40,87.70 302.90,88.53 303.40,91.52 303.90,96.19 304.40,102.14 304.90,108.87 305.40,115.89 305.90,122.74 306.40,129.07 306.90,134.63 307.40,139.30 307.90,143.06 308.40,145.96 308.90,148.11 309.40,149.64 309.90,150.70 310.40,151.40 310.90,151.85 311.40,152.13 311.90,152.29 312.40,152.39 312.90,152.44 313.40,152.47 313.90,152.49 314.40,152.49 314.90,152.50 315.40,152.50 315.90,152.50 316.40,152.50 316.90,152.50 317.40,152.50 317.90,152.50 318.40,152.50 318.90,152.50 319.40,152.50 319.90,152.50 320.40,152.50 320.90,152.50 321.40,152.50 321.90,152.50 322.40,152.50 322.90,152.50 323.40,152.50 323.90,152.50 324.40,152.50 324.90,152.50 325.40,152.50 325.90,152.50 326.40,152.50 326.90,152.50 327.40,152.50 327.90,152.50 328.40,152.50 328.90,152.50 329.40,152.50 329.90,152.50 330.40,152.50 330.90,152.50 331.40,152.50 331.90,152.50 332.40,152.50 332.90,152.50 333.40,152.50 333.90,152.50 334.40,152.50 334.90,152.50 335.40,152.50 335.90,152.50 336.40,152.50 336.90,152.50 337.40,152.50 337.90,152.50 338.40,152.50 338.90,152.50 339.40,152.50 339.90,152.50 340.40,152.50 340.90,152.50 341.40,152.50 341.90,152.50 342.40,152.50 342.90,152.50 343.40,152.50 343.90,152.50 344.40,152.50 344.90,152.50 345.40,152.50 345.90,152.50 346.40,152.50 346.90,152.50 347.40,152.50 347.90,152.50 348.40,152.50 348.90,152.50 349.40,152.50 349.90,152.50 350.40,152.50 350.90,152.50 351.40,152.50 351.90,152.50 352.40,152.50 352.90,152.50 353.40,152.50 353.90,152.50 354.40,152.50 354.90,152.50 355.40,152.50 355.90,152.50 356.40,152.50 356.90,152.50 357.40,152.50 357.90,152.50 358.40,152.50 358.90,152.50 359.40,152.50 359.90,152.50 360.40,152.50 360.90,152.50 361.40,152.50 361.90,152.50" fill="none" stroke="#2fc82f" stroke-width="1.2" stroke-linejoin="round" />
<polyline points="295.40,151.34 295.90,150.46 296.40,149.05 296.90,146.91 297.40,143.84 297.90,139.64 298.40,134.23 298.90,127.63 299.40,120.09 299.90,112.07 300.40,104.19 300.90,97.23 301.40,91.96 301.90,89.00 302.40,88.64 302.90,90.22 303.40,93.42 303.90,97.99 304.40,103.59 304.90,109.81 305.40,116.27 305.90,122.59 306.40,128.48 306.90,133.74 307.40,138.25 307.90,141.97 308.40,144.94 308.90,147.21 309.40,148.91 309.90,150.13 310.40,150.97 310.90,151.55 311.40,151.92 311.90,152.16 312.40,152.30 312.90,152.39 313.40,152.44 313.90,152.47 314.40,152.48 314.90,152.49 315.40,152.50 315.90,152.50 316.40,152.50 316.90,152.50 317.40,152.50 317.90,152.50 318.40,152.50 318.90,152.50 319.40,152.50 319.90,152.50 320.40,152.50 320.90,152.50 321.40,152.50 321.90,152.50 322.40,152.50 322.90,152.50 323.40,152.50 323.90,152.50 324.40,152.50 324.90,152.50 325.40,152.50 325.90,152.50 326.40,152.50 326.90,152.50 327.40,152.50 327.90,152.50 328.40,152.50 328.90,152.50 329.40,152.50 329.90,152.50 330.40,152.50 330.90,152.50 331.40,152.50 331.90,152.50 332.40,152.50 332.90,152.50 333.40,152.50 333.90,152.50 334.40,152.50 334.90,152.50 335.40,152.50 335.90,152.50 336.40,152.50 336.90,152.50 337.40,152.50 337.90,152.50 338.40,152.50 338.90,152.50 339.40,152.50 339.90,152.50 340.40,152.50 340.90,152.50 341.40,152.50 341.90,152.50 342.40,152.50 342.90,152.50 343.40,152.50 343.90,152.50 344.40,152.50 344.90,152.50 345.40,152.50 345.90,152.50 346.40,152.50 346.90,152.50 347.40,152.50 347.90,152.50 348.40,152.50 348.90,152.50 349.40,152.50 349.90,152.50 350.40,152.50 350.90,152.50 351.40,152.50 351.90,152.50 352.40,152.50 352.90,152.50 353.40,152.50 353.90,152.50 354.40,152.50 354.90,152.50 355.40,152.50 355.90,152.50 356.40,152.50 356.90,152.50 357.40,152.50 357.90,152.50 358.40,152.50 358.90,152.50 359.40,152.50 359.90,152.50 360.40,152.50 360.90,152.50 361.40,152.50 361.90,152.50" fill="none" stroke="#111" stroke-width="0.8" stroke-linejoin="round" />
<polyline points="295.40,152.50 295.90,152.50 296.40,152.50 296.90,152.50 297.40,152.50 297.90,152.50 298.40,152.50 298.90,152.50 299.40,152.50 299.90,152.50 300.40,152.49 300.90,152.47 301.40,152.44 301.90,152.37 302.40,152.22 302.90,151.95 303.40,151.44 303.90,150.57 304.40,149.14 304.90,146.93 305.40,143.69 305.90,139.21 306.40,133.36 306.90,126.22 307.40,118.07 307.90,109.47 308.40,101.19 308.90,94.10 309.40,89.05 309.90,87.70 310.40,87.70 310.90,89.63 311.40,94.11 311.90,99.98 312.40,106.64 312.90,113.50 313.40,120.05 313.90,125.92 314.40,130.90 314.90,134.95 315.40,138.12 315.90,140.55 316.40,142.37 316.90,143.66 317.40,144.56 317.90,145.20 318.40,145.69 318.90,146.09 319.40,146.44 319.90,146.79 320.40,147.13 320.90,147.48 321.40,147.83 321.90,148.18 322.40,148.54 322.90,148.89 323.40,149.23 323.90,149.56 324.40,149.87 324.90,150.17 325.40,150.45 325.90,150.71 326.40,150.94 326.90,151.16 327.40,151.35 327.90,151.52 328.40,151.67 328.90,151.81 329.40,151.92 329.90,152.02 330.40,152.11 330.90,152.18 331.40,152.24 331.90,152.29 332.40,152.33 332.90,152.37 333.40,152.40 333.90,152.42 334.40,152.44 334.90,152.45 335.40,152.46 335.90,152.47 336.40,152.48 336.90,152.48 337.40,152.49 337.90,152.49 338.40,152.49 338.90,152.50 339.40,152.50 339.90,152.50 340.40,152.50 340.90,152.50 341.40,152.50 341.90,152.50 342.40,152.50 342.90,152.50 343.40,152.50 343.90,152.50 344.40,152.50 344.90,152.50 345.40,152.50 345.90,152.50 346.40,152.50 346.90,152.50 347.40,152.50 347.90,152.50 348.40,152.50 348.90,152.50 349.40,152.50 349.90,152.50 350.40,152.50 350.90,152.50 351.40,152.50 351.90,152.50 352.40,152.50 352.90,152.50 353.40,152.50 353.90,152.50 354.40,152.50 354.90,152.50 355.40,152.50 355.90,152.50 356.40,152.50 356.90,152.50 357.40,152.50 357.90,152.50 358.40,152.50 358.90,152.50 359.40,152.50 359.90,152.50 360.40,152.50 360.90,152.50 361.40,152.50 361.90,152.50" fill="none" stroke="#2228b4" stroke-width="1.1" stroke-linejoin="round" />
<rect x="294.80" y="87.80" width="68.20" height="65.10" fill="none" stroke="#5a5a5a" stroke-width="0.9" />
<text x="293.30" y="156.50" font-size="2.6" font-weight="normal" fill="#777" >10</text>
<text x="310.35" y="156.50" font-size="2.6" font-weight="normal" fill="#777" >10</text>
<text x="327.40" y="156.50" font-size="2.6" font-weight="normal" fill="#777" >10</text>
<text x="344.45" y="156.50" font-size="2.6" font-weight="normal" fill="#777" >10</text>
<text x="361.50" y="156.50" font-size="2.6" font-weight="normal" fill="#777" >10</text>
<line x1="293.90" y1="87.80" x2="294.80" y2="87.80" stroke="#666" stroke-width="0.6" />
<text x="292.60" y="89.10" font-size="3.6" font-weight="bold" fill="#777" text-anchor="end" >0</text>
<line x1="293.90" y1="98.65" x2="294.80" y2="98.65" stroke="#666" stroke-width="0.6" />
<text x="292.60" y="99.95" font-size="3.6" font-weight="bold" fill="#777" text-anchor="end" >0</text>
<line x1="293.90" y1="109.50" x2="294.80" y2="109.50" stroke="#666" stroke-width="0.6" />
<text x="292.60" y="110.80" font-size="3.6" font-weight="bold" fill="#777" text-anchor="end" >0</text>
<line x1="293.90" y1="120.35" x2="294.80" y2="120.35" stroke="#666" stroke-width="0.6" />
<text x="292.60" y="121.65" font-size="3.6" font-weight="bold" fill="#777" text-anchor="end" >0</text>
<line x1="293.90" y1="131.20" x2="294.80" y2="131.20" stroke="#666" stroke-width="0.6" />
<text x="292.60" y="132.50" font-size="3.6" font-weight="bold" fill="#777" text-anchor="end" >0</text>
<line x1="293.90" y1="142.05" x2="294.80" y2="142.05" stroke="#666" stroke-width="0.6" />
<text x="292.60" y="143.35" font-size="3.6" font-weight="bold" fill="#777" text-anchor="end" >0</text>
<line x1="293.90" y1="152.90" x2="294.80" y2="152.90" stroke="#666" stroke-width="0.6" />
<text x="292.60" y="154.20" font-size="3.6" font-weight="bold" fill="#777" text-anchor="end" >0</text>
<polygon points="372.30,152.90 372.30,151.36 372.80,150.51 373.30,149.16 373.80,147.14 374.30,144.27 374.80,140.39 375.30,135.44 375.80,129.48 376.30,122.76 376.80,115.71 377.30,108.92 377.80,103.08 378.30,98.83 378.80,96.69 379.30,96.78 379.80,98.46 380.30,101.52 380.80,105.72 381.30,110.76 381.80,116.27 382.30,121.92 382.80,127.39 383.30,132.45 383.80,136.93 384.30,140.74 384.80,143.86 385.30,146.33 385.80,148.21 386.30,149.60 386.80,150.59 387.30,151.28 387.80,151.74 388.30,152.04 388.80,152.23 389.30,152.35 389.80,152.41 390.30,152.45 390.80,152.48 391.30,152.49 391.80,152.49 392.30,152.50 392.80,152.50 393.30,152.50 393.80,152.50 394.30,152.50 394.80,152.50 395.30,152.50 395.80,152.50 396.30,152.50 396.80,152.50 397.30,152.50 397.80,152.50 398.30,152.50 398.80,152.50 399.30,152.50 399.80,152.50 400.30,152.50 400.80,152.50 401.30,152.50 401.80,152.50 402.30,152.50 402.80,152.50 403.30,152.50 403.80,152.50 404.30,152.50 404.80,152.50 405.30,152.50 405.80,152.50 406.30,152.50 406.80,152.50 407.30,152.50 407.80,152.50 408.30,152.50 408.80,152.50 409.30,152.50 409.80,152.50 410.30,152.50 410.80,152.50 411.30,152.50 411.80,152.50 412.30,152.50 412.80,152.50 413.30,152.50 413.80,152.50 414.30,152.50 414.80,152.50 415.30,152.50 415.80,152.50 416.30,152.50 416.80,152.50 417.30,152.50 417.80,152.50 418.30,152.50 418.80,152.50 419.30,152.50 419.80,152.50 420.30,152.50 420.80,152.50 421.30,152.50 421.80,152.50 422.30,152.50 422.80,152.50 423.30,152.50 423.80,152.50 424.30,152.50 424.80,152.50 425.30,152.50 425.80,152.50 426.30,152.50 426.80,152.50 427.30,152.50 427.80,152.50 428.30,152.50 428.80,152.50 429.30,152.50 429.80,152.50 430.30,152.50 430.80,152.50 431.30,152.50 431.80,152.50 432.30,152.50 432.80,152.50 433.30,152.50 433.80,152.50 434.30,152.50 434.80,152.50 435.30,152.50 435.80,152.50 436.30,152.50 436.80,152.50 437.30,152.50 437.80,152.50 438.30,152.50 438.80,152.50 438.90,152.90" fill="#d2cfd8" stroke="#888" stroke-width="0.5" />
<polyline points="372.30,129.71 372.80,93.50 373.30,98.67 373.80,131.03 374.30,141.40 374.80,136.65 375.30,130.76 375.80,123.85 376.30,116.22 376.80,108.37 377.30,100.92 377.80,94.57 378.30,90.00 378.80,87.71 379.30,87.82 379.80,89.77 380.30,93.33 380.80,98.21 381.30,104.05 381.80,110.45 382.30,117.01 382.80,123.36 383.30,129.23 383.80,134.43 384.30,138.85 384.80,142.47 385.30,145.33 385.80,147.52 386.30,149.13 386.80,150.29 387.30,151.08 387.80,151.62 388.30,151.97 388.80,152.19 389.30,152.32 389.80,152.40 390.30,152.45 390.80,152.47 391.30,152.49 391.80,152.49 392.30,152.50 392.80,152.50 393.30,152.50 393.80,152.50 394.30,152.50 394.80,152.50 395.30,152.50 395.80,152.50 396.30,152.50 396.80,152.50 397.30,152.50 397.80,152.50 398.30,152.50 398.80,152.50 399.30,152.50 399.80,152.50 400.30,152.50 400.80,152.50 401.30,152.50 401.80,152.50 402.30,152.50 402.80,152.50 403.30,152.50 403.80,152.50 404.30,152.50 404.80,152.50 405.30,152.50 405.80,152.50 406.30,152.50 406.80,152.50 407.30,152.50 407.80,152.50 408.30,152.50 408.80,152.50 409.30,152.50 409.80,152.50 410.30,152.50 410.80,152.50 411.30,152.50 411.80,152.50 412.30,152.50 412.80,152.50 413.30,152.50 413.80,152.50 414.30,152.50 414.80,152.50 415.30,152.50 415.80,152.50 416.30,152.50 416.80,152.50 417.30,152.50 417.80,152.50 418.30,152.50 418.80,152.50 419.30,152.50 419.80,152.50 420.30,152.50 420.80,152.50 421.30,152.50 421.80,152.50 422.30,152.50 422.80,152.50 423.30,152.50 423.80,152.50 424.30,152.50 424.80,152.50 425.30,152.50 425.80,152.50 426.30,152.50 426.80,152.50 427.30,152.50 427.80,152.50 428.30,152.50 428.80,152.50 429.30,152.50 429.80,152.50 430.30,152.50 430.80,152.50 431.30,152.50 431.80,152.50 432.30,152.50 432.80,152.50 433.30,152.50 433.80,152.50 434.30,152.50 434.80,152.50 435.30,152.50 435.80,152.50 436.30,152.50 436.80,152.50 437.30,152.50 437.80,152.50 438.30,152.50 438.80,152.50" fill="none" stroke="#2fc82f" stroke-width="1.2" stroke-linejoin="round" />
<polyline points="372.30,151.20 372.80,150.22 373.30,148.69 373.80,146.38 374.30,143.09 374.80,138.66 375.30,133.00 375.80,126.19 376.30,118.51 376.80,110.45 377.30,102.70 377.80,96.02 378.30,91.16 378.80,88.72 379.30,88.82 379.80,90.73 380.30,94.23 380.80,99.04 381.30,104.79 381.80,111.09 382.30,117.53 382.80,123.78 383.30,129.55 383.80,134.65 384.30,138.98 384.80,142.51 385.30,145.28 385.80,147.36 386.30,148.87 386.80,149.89 387.30,150.54 387.80,150.90 388.30,151.04 388.80,151.00 389.30,150.85 389.80,150.60 390.30,150.27 390.80,149.89 391.30,149.48 391.80,149.04 392.30,148.58 392.80,148.14 393.30,147.72 393.80,147.34 394.30,147.02 394.80,146.76 395.30,146.59 395.80,146.51 396.30,146.52 396.80,146.62 397.30,146.81 397.80,147.08 398.30,147.41 398.80,147.80 399.30,148.23 399.80,148.68 400.30,149.13 400.80,149.58 401.30,150.01 401.80,150.40 402.30,150.76 402.80,151.09 403.30,151.37 403.80,151.60 404.30,151.80 404.80,151.97 405.30,152.10 405.80,152.20 406.30,152.28 406.80,152.34 407.30,152.39 407.80,152.42 408.30,152.45 408.80,152.46 409.30,152.48 409.80,152.48 410.30,152.49 410.80,152.49 411.30,152.50 411.80,152.50 412.30,152.50 412.80,152.50 413.30,152.50 413.80,152.50 414.30,152.50 414.80,152.50 415.30,152.50 415.80,152.50 416.30,152.50 416.80,152.50 417.30,152.50 417.80,152.50 418.30,152.50 418.80,152.50 419.30,152.50 419.80,152.50 420.30,152.50 420.80,152.50 421.30,152.50 421.80,152.50 422.30,152.50 422.80,152.50 423.30,152.50 423.80,152.50 424.30,152.50 424.80,152.50 425.30,152.50 425.80,152.50 426.30,152.50 426.80,152.50 427.30,152.50 427.80,152.50 428.30,152.50 428.80,152.50 429.30,152.50 429.80,152.50 430.30,152.50 430.80,152.50 431.30,152.50 431.80,152.50 432.30,152.50 432.80,152.50 433.30,152.50 433.80,152.50 434.30,152.50 434.80,152.50 435.30,152.50 435.80,152.50 436.30,152.50 436.80,152.50 437.30,152.50 437.80,152.50 438.30,152.50 438.80,152.50" fill="none" stroke="#111" stroke-width="0.8" stroke-linejoin="round" />
<polyline points="372.30,152.50 372.80,152.50 373.30,152.50 373.80,152.50 374.30,152.50 374.80,152.50 375.30,152.50 375.80,152.50 376.30,152.50 376.80,152.50 377.30,152.50 377.80,152.50 378.30,152.50 378.80,152.50 379.30,152.50 379.80,152.50 380.30,152.50 380.80,152.50 381.30,152.50 381.80,152.50 382.30,152.50 382.80,152.50 383.30,152.50 383.80,152.50 384.30,152.49 384.80,152.49 385.30,152.47 385.80,152.43 386.30,152.36 386.80,152.22 387.30,151.97 387.80,151.55 388.30,150.87 388.80,149.82 389.30,148.27 389.80,146.12 390.30,143.26 390.80,139.70 391.30,135.51 391.80,130.89 392.30,126.15 392.80,121.67 393.30,117.86 393.80,115.05 394.30,113.42 394.80,113.26 395.30,114.52 395.80,116.35 396.30,117.67 396.80,117.59 397.30,115.96 397.80,113.50 398.30,111.20 398.80,109.49 399.30,108.19 399.80,107.20 400.30,106.81 400.80,107.81 401.30,111.63 401.80,117.79 402.30,125.19 402.80,132.60 403.30,139.08 403.80,144.12 404.30,147.65 404.80,149.91 405.30,151.21 405.80,151.91 406.30,152.25 406.80,152.40 407.30,152.46 407.80,152.49 408.30,152.50 408.80,152.50 409.30,152.50 409.80,152.50 410.30,152.50 410.80,152.50 411.30,152.50 411.80,152.50 412.30,152.50 412.80,152.50 413.30,152.50 413.80,152.50 414.30,152.50 414.80,152.50 415.30,152.50 415.80,152.50 416.30,152.50 416.80,152.50 417.30,152.50 417.80,152.50 418.30,152.50 418.80,152.50 419.30,152.50 419.80,152.50 420.30,152.50 420.80,152.50 421.30,152.50 421.80,152.50 422.30,152.50 422.80,152.50 423.30,152.50 423.80,152.50 424.30,152.50 424.80,152.50 425.30,152.50 425.80,152.50 426.30,152.50 426.80,152.50 427.30,152.50 427.80,152.50 428.30,152.50 428.80,152.50 429.30,152.50 429.80,152.50 430.30,152.50 430.80,152.50 431.30,152.50 431.80,152.50 432.30,152.50 432.80,152.50 433.30,152.50 433.80,152.50 434.30,152.50 434.80,152.50 435.30,152.50 435.80,152.50 436.30,152.50 436.80,152.50 437.30,152.50 437.80,152.50 438.30,152.50 438.80,152.50" fill="none" stroke="#2228b4" stroke-width="1.1" stroke-linejoin="round" />
<rect x="371.70" y="87.80" width="67.80" height="65.10" fill="none" stroke="#5a5a5a" stroke-width="0.9" />
<text x="370.20" y="156.50" font-size="2.6" font-weight="normal" fill="#777" >10</text>
<text x="387.15" y="156.50" font-size="2.6" font-weight="normal" fill="#777" >10</text>
<text x="404.10" y="156.50" font-size="2.6" font-weight="normal" fill="#777" >10</text>
<text x="421.05" y="156.50" font-size="2.6" font-weight="normal" fill="#777" >10</text>
<text x="438.00" y="156.50" font-size="2.6" font-weight="normal" fill="#777" >10</text>
<line x1="370.80" y1="87.80" x2="371.70" y2="87.80" stroke="#666" stroke-width="0.6" />
<text x="369.50" y="89.10" font-size="3.6" font-weight="bold" fill="#777" text-anchor="end" >0</text>
<line x1="370.80" y1="98.65" x2="371.70" y2="98.65" stroke="#666" stroke-width="0.6" />
<text x="369.50" y="99.95" font-size="3.6" font-weight="bold" fill="#777" text-anchor="end" >0</text>
<line x1="370.80" y1="109.50" x2="371.70" y2="109.50" stroke="#666" stroke-width="0.6" />
<text x="369.50" y="110.80" font-size="3.6" font-weight="bold" fill="#777" text-anchor="end" >0</text>
<line x1="370.80" y1="120.35" x2="371.70" y2="120.35" stroke="#666" stroke-width="0.6" />
<text x="369.50" y="121.65" font-size="3.6" font-weight="bold" fill="#777" text-anchor="end" >0</text>
<line x1="370.80" y1="131.20" x2="371.70" y2="131.20" stroke="#666" stroke-width="0.6" />
<text x="369.50" y="132.50" font-size="3.6" font-weight="bold" fill="#777" text-anchor="end" >0</text>
<line x1="370.80" y1="142.05" x2="371.70" y2="142.05" stroke="#666" stroke-width="0.6" />
<text x="369.50" y="143.35" font-size="3.6" font-weight="bold" fill="#777" text-anchor="end" >0</text>
<line x1="370.80" y1="152.90" x2="371.70" y2="152.90" stroke="#666" stroke-width="0.6" />
<text x="369.50" y="154.20" font-size="3.6" font-weight="bold" fill="#777" text-anchor="end" >0</text>
<polygon points="448.90,152.90 448.90,150.13 449.40,148.56 449.90,146.23 450.40,142.94 450.90,138.55 451.40,133.02 451.90,126.45 452.40,119.13 452.90,111.58 453.40,104.46 453.90,98.48 454.40,94.35 454.90,92.55 455.40,93.03 455.90,95.14 456.40,98.69 456.90,103.40 457.40,108.93 457.90,114.90 458.40,120.93 458.90,126.73 459.40,132.03 459.90,136.69 460.40,140.63 460.90,143.82 461.40,146.34 461.90,148.24 462.40,149.64 462.90,150.63 463.40,151.31 463.90,151.76 464.40,152.06 464.90,152.24 465.40,152.35 465.90,152.42 466.40,152.46 466.90,152.48 467.40,152.49 467.90,152.49 468.40,152.50 468.90,152.50 469.40,152.50 469.90,152.50 470.40,152.50 470.90,152.50 471.40,152.50 471.90,152.50 472.40,152.50 472.90,152.50 473.40,152.50 473.90,152.50 474.40,152.50 474.90,152.50 475.40,152.50 475.90,152.50 476.40,152.50 476.90,152.50 477.40,152.50 477.90,152.50 478.40,152.50 478.90,152.50 479.40,152.50 479.90,152.50 480.40,152.50 480.90,152.50 481.40,152.50 481.90,152.50 482.40,152.50 482.90,152.50 483.40,152.50 483.90,152.50 484.40,152.50 484.90,152.50 485.40,152.50 485.90,152.50 486.40,152.50 486.90,152.50 487.40,152.50 487.90,152.50 488.40,152.50 488.90,152.50 489.40,152.50 489.90,152.50 490.40,152.50 490.90,152.50 491.40,152.50 491.90,152.50 492.40,152.50 492.90,152.50 493.40,152.50 493.90,152.50 494.40,152.50 494.90,152.50 495.40,152.50 495.90,152.50 496.40,152.50 496.90,152.50 497.40,152.50 497.90,152.50 498.40,152.50 498.90,152.50 499.40,152.50 499.90,152.50 500.40,152.50 500.90,152.50 501.40,152.50 501.90,152.50 502.40,152.50 502.90,152.50 503.40,152.50 503.90,152.50 504.40,152.50 504.90,152.50 505.40,152.50 505.90,152.50 506.40,152.50 506.90,152.50 507.40,152.50 507.90,152.50 508.40,152.50 508.90,152.50 509.40,152.50 509.90,152.50 510.40,152.50 510.90,152.50 511.40,152.50 511.90,152.50 512.40,152.50 512.90,152.50 513.40,152.50 513.90,152.50 514.40,152.50 514.90,152.50 515.10,152.90" fill="#d2cfd8" stroke="#888" stroke-width="0.5" />
<polyline points="448.90,87.70 449.40,105.21 449.90,137.39 450.40,140.54 450.90,135.56 451.40,129.45 451.90,122.37 452.40,114.65 452.90,106.82 453.40,99.54 453.90,93.50 454.40,89.35 454.90,87.70 455.40,88.08 455.90,90.36 456.40,94.21 456.90,99.31 457.40,105.30 457.90,111.76 458.40,118.30 458.90,124.58 459.40,130.33 459.90,135.38 460.40,139.64 460.90,143.10 461.40,145.82 461.90,147.88 462.40,149.40 462.90,150.47 463.40,151.21 463.90,151.70 464.40,152.02 464.90,152.22 465.40,152.34 465.90,152.41 466.40,152.45 466.90,152.48 467.40,152.49 467.90,152.49 468.40,152.50 468.90,152.50 469.40,152.50 469.90,152.50 470.40,152.50 470.90,152.50 471.40,152.50 471.90,152.50 472.40,152.50 472.90,152.50 473.40,152.50 473.90,152.50 474.40,152.50 474.90,152.50 475.40,152.50 475.90,152.50 476.40,152.50 476.90,152.50 477.40,152.50 477.90,152.50 478.40,152.50 478.90,152.50 479.40,152.50 479.90,152.50 480.40,152.50 480.90,152.50 481.40,152.50 481.90,152.50 482.40,152.50 482.90,152.50 483.40,152.50 483.90,152.50 484.40,152.50 484.90,152.50 485.40,152.50 485.90,152.50 486.40,152.50 486.90,152.50 487.40,152.50 487.90,152.50 488.40,152.50 488.90,152.50 489.40,152.50 489.90,152.50 490.40,152.50 490.90,152.50 491.40,152.50 491.90,152.50 492.40,152.50 492.90,152.50 493.40,152.50 493.90,152.50 494.40,152.50 494.90,152.50 495.40,152.50 495.90,152.50 496.40,152.50 496.90,152.50 497.40,152.50 497.90,152.50 498.40,152.50 498.90,152.50 499.40,152.50 499.90,152.50 500.40,152.50 500.90,152.50 501.40,152.50 501.90,152.50 502.40,152.50 502.90,152.50 503.40,152.50 503.90,152.50 504.40,152.50 504.90,152.50 505.40,152.50 505.90,152.50 506.40,152.50 506.90,152.50 507.40,152.50 507.90,152.50 508.40,152.50 508.90,152.50 509.40,152.50 509.90,152.50 510.40,152.50 510.90,152.50 511.40,152.50 511.90,152.50 512.40,152.50 512.90,152.50 513.40,152.50 513.90,152.50 514.40,152.50 514.90,152.50" fill="none" stroke="#2fc82f" stroke-width="1.2" stroke-linejoin="round" />
<polyline points="448.90,149.97 449.40,148.29 449.90,145.81 450.40,142.30 450.90,137.62 451.40,131.72 451.90,124.71 452.40,116.90 452.90,108.85 453.40,101.24 453.90,94.86 454.40,90.43 454.90,88.50 455.40,88.98 455.90,91.20 456.40,94.93 456.90,99.89 457.40,105.70 457.90,111.94 458.40,118.23 458.90,124.22 459.40,129.64 459.90,134.32 460.40,138.18 460.90,141.20 461.40,143.42 461.90,144.95 462.40,145.90 462.90,146.37 463.40,146.50 463.90,146.38 464.40,146.10 464.90,145.75 465.40,145.37 465.90,145.03 466.40,144.75 466.90,144.56 467.40,144.49 467.90,144.53 468.40,144.70 468.90,144.97 469.40,145.35 469.90,145.82 470.40,146.35 470.90,146.93 471.40,147.53 471.90,148.13 472.40,148.72 472.90,149.28 473.40,149.80 473.90,150.28 474.40,150.69 474.90,151.05 475.40,151.36 475.90,151.62 476.40,151.83 476.90,151.99 477.40,152.13 477.90,152.23 478.40,152.30 478.90,152.36 479.40,152.40 479.90,152.43 480.40,152.46 480.90,152.47 481.40,152.48 481.90,152.49 482.40,152.49 482.90,152.50 483.40,152.50 483.90,152.50 484.40,152.50 484.90,152.50 485.40,152.50 485.90,152.50 486.40,152.50 486.90,152.50 487.40,152.50 487.90,152.50 488.40,152.50 488.90,152.50 489.40,152.50 489.90,152.50 490.40,152.50 490.90,152.50 491.40,152.50 491.90,152.50 492.40,152.50 492.90,152.50 493.40,152.50 493.90,152.50 494.40,152.50 494.90,152.50 495.40,152.50 495.90,152.50 496.40,152.50 496.90,152.50 497.40,152.50 497.90,152.50 498.40,152.50 498.90,152.50 499.40,152.50 499.90,152.50 500.40,152.50 500.90,152.50 501.40,152.50 501.90,152.50 502.40,152.50 502.90,152.50 503.40,152.50 503.90,152.50 504.40,152.50 504.90,152.50 505.40,152.50 505.90,152.50 506.40,152.50 506.90,152.50 507.40,152.50 507.90,152.50 508.40,152.50 508.90,152.50 509.40,152.50 509.90,152.50 510.40,152.50 510.90,152.50 511.40,152.50 511.90,152.50 512.40,152.50 512.90,152.50 513.40,152.50 513.90,152.50 514.40,152.50 514.90,152.50" fill="none" stroke="#111" stroke-width="0.8" stroke-linejoin="round" />
<polyline points="448.90,152.50 449.40,152.50 449.90,152.50 450.40,152.50 450.90,152.50 451.40,152.50 451.90,152.50 452.40,152.50 452.90,152.50 453.40,152.50 453.90,152.50 454.40,152.50 454.90,152.50 455.40,152.50 455.90,152.50 456.40,152.50 456.90,152.50 457.40,152.50 457.90,152.49 458.40,152.47 458.90,152.44 459.40,152.37 459.90,152.22 460.40,151.95 460.90,151.44 461.40,150.57 461.90,149.15 462.40,146.94 462.90,143.70 463.40,139.23 463.90,133.40 464.40,126.29 464.90,118.19 465.40,109.66 465.90,101.47 466.40,94.52 466.90,89.67 467.40,87.70 467.90,88.26 468.40,91.28 468.90,96.27 469.40,102.73 469.90,110.05 470.40,117.60 470.90,124.86 471.40,131.40 471.90,136.98 472.40,141.49 472.90,144.98 473.40,147.55 473.90,149.36 474.40,150.58 474.90,151.37 475.40,151.86 475.90,152.15 476.40,152.31 476.90,152.41 477.40,152.45 477.90,152.48 478.40,152.49 478.90,152.50 479.40,152.50 479.90,152.50 480.40,152.50 480.90,152.50 481.40,152.50 481.90,152.50 482.40,152.50 482.90,152.50 483.40,152.50 483.90,152.50 484.40,152.50 484.90,152.50 485.40,152.50 485.90,152.50 486.40,152.50 486.90,152.50 487.40,152.50 487.90,152.50 488.40,152.50 488.90,152.50 489.40,152.50 489.90,152.50 490.40,152.50 490.90,152.50 491.40,152.50 491.90,152.50 492.40,152.50 492.90,152.50 493.40,152.50 493.90,152.50 494.40,152.50 494.90,152.50 495.40,152.50 495.90,152.50 496.40,152.50 496.90,152.50 497.40,152.50 497.90,152.50 498.40,152.50 498.90,152.50 499.40,152.50 499.90,152.50 500.40,152.50 500.90,152.50 501.40,152.50 501.90,152.50 502.40,152.50 502.90,152.50 503.40,152.50 503.90,152.50 504.40,152.50 504.90,152.50 505.40,152.50 505.90,152.50 506.40,152.50 506.90,152.50 507.40,152.50 507.90,152.50 508.40,152.50 508.90,152.50 509.40,152.50 509.90,152.50 510.40,152.50 510.90,152.50 511.40,152.50 511.90,152.50 512.40,152.50 512.90,152.50 513.40,152.50 513.90,152.50 514.40,152.50 514.90,152.50" fill="none" stroke="#2228b4" stroke-width="1.1" stroke-linejoin="round" />
<rect x="448.30" y="87.80" width="67.40" height="65.10" fill="none" stroke="#5a5a5a" stroke-width="0.9" />
<text x="446.80" y="156.50" font-size="2.6" font-weight="normal" fill="#777" >10</text>
<text x="463.65" y="156.50" font-size="2.6" font-weight="normal" fill="#777" >10</text>
<text x="480.50" y="156.50" font-size="2.6" font-weight="normal" fill="#777" >10</text>
<text x="497.35" y="156.50" font-size="2.6" font-weight="normal" fill="#777" >10</text>
<text x="514.20" y="156.50" font-size="2.6" font-weight="normal" fill="#777" >10</text>
<line x1="447.40" y1="87.80" x2="448.30" y2="87.80" stroke="#666" stroke-width="0.6" />
<text x="446.10" y="89.10" font-size="3.6" font-weight="bold" fill="#777" text-anchor="end" >0</text>
<line x1="447.40" y1="98.65" x2="448.30" y2="98.65" stroke="#666" stroke-width="0.6" />
<text x="446.10" y="99.95" font-size="3.6" font-weight="bold" fill="#777" text-anchor="end" >0</text>
<line x1="447.40" y1="109.50" x2="448.30" y2="109.50" stroke="#666" stroke-width="0.6" />
<text x="446.10" y="110.80" font-size="3.6" font-weight="bold" fill="#777" text-anchor="end" >0</text>
<line x1="447.40" y1="120.35" x2="448.30" y2="120.35" stroke="#666" stroke-width="0.6" />
<text x="446.10" y="121.65" font-size="3.6" font-weight="bold" fill="#777" text-anchor="end" >0</text>
<line x1="447.40" y1="131.20" x2="448.30" y2="131.20" stroke="#666" stroke-width="0.6" />
<text x="446.10" y="132.50" font-size="3.6" font-weight="bold" fill="#777" text-anchor="end" >0</text>
<line x1="447.40" y1="142.05" x2="448.30" y2="142.05" stroke="#666" stroke-width="0.6" />
<text x="446.10" y="143.35" font-size="3.6" font-weight="bold" fill="#777" text-anchor="end" >0</text>
<line x1="447.40" y1="152.90" x2="448.30" y2="152.90" stroke="#666" stroke-width="0.6" />
<text x="446.10" y="154.20" font-size="3.6" font-weight="bold" fill="#777" text-anchor="end" >0</text>
<polygon points="220.10,239.30 220.10,238.66 220.60,238.32 221.10,237.59 221.60,236.18 222.10,233.65 222.60,229.54 223.10,223.44 223.60,215.27 224.10,205.46 224.60,195.09 225.10,185.77 225.60,179.25 226.10,176.90 226.60,178.04 227.10,181.32 227.60,186.40 228.10,192.78 228.60,199.85 229.10,207.03 229.60,213.83 230.10,219.89 230.60,225.00 231.10,229.08 231.60,232.18 232.10,234.42 232.60,235.94 233.10,236.89 233.60,237.42 234.10,237.63 234.60,237.61 235.10,237.43 235.60,237.12 236.10,236.71 236.60,236.25 237.10,235.76 237.60,235.27 238.10,234.81 238.60,234.42 239.10,234.12 239.60,233.94 240.10,233.90 240.60,233.94 241.10,234.02 241.60,234.15 242.10,234.32 242.60,234.53 243.10,234.77 243.60,235.04 244.10,235.33 244.60,235.63 245.10,235.93 245.60,236.23 246.10,236.52 246.60,236.81 247.10,237.08 247.60,237.33 248.10,237.55 248.60,237.76 249.10,237.95 249.60,238.11 250.10,238.25 250.60,238.37 251.10,238.47 251.60,238.56 252.10,238.63 252.60,238.69 253.10,238.74 253.60,238.78 254.10,238.81 254.60,238.83 255.10,238.85 255.60,238.86 256.10,238.87 256.60,238.88 257.10,238.89 257.60,238.89 258.10,238.89 258.60,238.90 259.10,238.90 259.60,238.90 260.10,238.90 260.60,238.90 261.10,238.90 261.60,238.90 262.10,238.90 262.60,238.90 263.10,238.90 263.60,238.90 264.10,238.90 264.60,238.90 265.10,238.90 265.60,238.90 266.10,238.90 266.60,238.90 267.10,238.90 267.60,238.90 268.10,238.90 268.60,238.90 269.10,238.90 269.60,238.90 270.10,238.90 270.60,238.90 271.10,238.90 271.60,238.90 272.10,238.90 272.60,238.90 273.10,238.90 273.60,238.90 274.10,238.90 274.60,238.90 275.10,238.90 275.60,238.90 276.10,238.90 276.60,238.90 277.10,238.90 277.60,238.90 278.10,238.90 278.60,238.90 279.10,238.90 279.60,238.90 280.10,238.90 280.60,238.90 281.10,238.90 281.60,238.90 282.10,238.90 282.60,238.90 283.10,238.90 283.60,238.90 284.10,238.90 284.60,238.90 285.10,238.90 285.60,238.90 286.10,238.90 286.60,238.90 287.10,238.90 287.60,238.90 288.10,238.90 288.60,238.90 289.10,238.90 289.60,238.90 290.10,238.90 290.60,238.90 291.10,238.90 291.60,238.90 292.10,238.90 292.60,238.90 293.10,238.90 293.60,238.90 294.10,238.90 294.60,238.90 295.10,238.90 295.60,238.90 296.10,238.90 296.60,238.90 297.10,238.90 297.60,238.90 298.10,238.90 298.60,238.90 299.10,238.90 299.60,238.90 300.10,238.90 300.60,238.90 301.10,238.90 301.60,238.90 302.10,238.90 302.60,238.90 303.10,238.90 303.60,238.90 304.10,238.90 304.60,238.90 305.10,238.90 305.60,238.90 306.10,238.90 306.60,238.90 307.10,238.90 307.60,238.90 308.10,238.90 308.60,238.90 309.10,238.90 309.60,238.90 310.10,238.90 310.60,238.90 311.10,238.90 311.60,238.90 312.10,238.90 312.60,239.30" fill="#d2cfd8" stroke="#888" stroke-width="0.5" />
<polyline points="220.10,238.90 220.60,238.90 221.10,238.90 221.60,238.90 222.10,238.90 222.60,238.90 223.10,238.90 223.60,238.90 224.10,238.90 224.60,238.90 225.10,238.90 225.60,238.90 226.10,238.90 226.60,238.90 227.10,238.90 227.60,238.90 228.10,238.90 228.60,238.90 229.10,238.90 229.60,238.90 230.10,238.90 230.60,238.90 231.10,238.90 231.60,238.90 232.10,238.90 232.60,238.90 233.10,238.89 233.60,238.89 234.10,238.88 234.60,238.87 235.10,238.85 235.60,238.83 236.10,238.79 236.60,238.73 237.10,238.64 237.60,238.52 238.10,238.34 238.60,238.09 239.10,237.75 239.60,237.30 240.10,236.70 240.60,235.93 241.10,234.95 241.60,233.72 242.10,232.22 242.60,230.41 243.10,228.28 243.60,225.83 244.10,223.06 244.60,220.00 245.10,216.71 245.60,213.23 246.10,209.68 246.60,206.15 247.10,202.76 247.60,199.64 248.10,196.91 248.60,194.69 249.10,193.07 249.60,192.13 250.10,191.92 250.60,192.55 251.10,194.04 251.60,196.32 252.10,199.25 252.60,202.69 253.10,206.46 253.60,210.39 254.10,214.33 254.60,218.12 255.10,221.67 255.60,224.88 256.10,227.71 256.60,230.15 257.10,232.18 257.60,233.84 258.10,235.16 258.60,236.19 259.10,236.97 259.60,237.56 260.10,237.98 260.60,238.28 261.10,238.49 261.60,238.64 262.10,238.73 262.60,238.80 263.10,238.84 263.60,238.86 264.10,238.88 264.60,238.89 265.10,238.89 265.60,238.90 266.10,238.90 266.60,238.90 267.10,238.90 267.60,238.90 268.10,238.90 268.60,238.90 269.10,238.90 269.60,238.90 270.10,238.90 270.60,238.90 271.10,238.90 271.60,238.90 272.10,238.90 272.60,238.90 273.10,238.90 273.60,238.90 274.10,238.90 274.60,238.90 275.10,238.90 275.60,238.90 276.10,238.90 276.60,238.90 277.10,238.90 277.60,238.90 278.10,238.90 278.60,238.90 279.10,238.90 279.60,238.90 280.10,238.90 280.60,238.90 281.10,238.90 281.60,238.90 282.10,238.90 282.60,238.90 283.10,238.90 283.60,238.90 284.10,238.90 284.60,238.90 285.10,238.90 285.60,238.90 286.10,238.90 286.60,238.90 287.10,238.90 287.60,238.90 288.10,238.90 288.60,238.90 289.10,238.90 289.60,238.90 290.10,238.90 290.60,238.90 291.10,238.90 291.60,238.90 292.10,238.90 292.60,238.90 293.10,238.90 293.60,238.90 294.10,238.90 294.60,238.90 295.10,238.90 295.60,238.90 296.10,238.90 296.60,238.90 297.10,238.90 297.60,238.90 298.10,238.90 298.60,238.90 299.10,238.90 299.60,238.90 300.10,238.90 300.60,238.90 301.10,238.90 301.60,238.90 302.10,238.90 302.60,238.90 303.10,238.90 303.60,238.90 304.10,238.90 304.60,238.90 305.10,238.90 305.60,238.90 306.10,238.90 306.60,238.90 307.10,238.90 307.60,238.90 308.10,238.90 308.60,238.90 309.10,238.90 309.60,238.90 310.10,238.90 310.60,238.90 311.10,238.90 311.60,238.90 312.10,238.90" fill="none" stroke="#2fc82f" stroke-width="1.2" stroke-linejoin="round" />
<polyline points="220.10,238.90 220.60,238.90 221.10,238.90 221.60,238.90 222.10,238.90 222.60,238.90 223.10,238.90 223.60,238.90 224.10,238.90 224.60,238.90 225.10,238.90 225.60,238.90 226.10,238.90 226.60,238.90 227.10,238.90 227.60,238.90 228.10,238.90 228.60,238.90 229.10,238.90 229.60,238.90 230.10,238.89 230.60,238.89 231.10,238.88 231.60,238.87 232.10,238.86 232.60,238.83 233.10,238.79 233.60,238.72 234.10,238.61 234.60,238.45 235.10,238.22 235.60,237.88 236.10,237.41 236.60,236.79 237.10,236.00 237.60,235.03 238.10,233.87 238.60,232.55 239.10,231.11 239.60,229.60 240.10,228.04 240.60,226.50 241.10,224.98 241.60,223.45 242.10,221.87 242.60,220.24 243.10,218.54 243.60,216.77 244.10,214.93 244.60,213.04 245.10,211.13 245.60,209.24 246.10,207.42 246.60,205.75 247.10,204.30 247.60,203.11 248.10,202.27 248.60,201.80 249.10,201.75 249.60,202.22 250.10,203.21 250.60,204.71 251.10,206.64 251.60,208.93 252.10,211.49 252.60,214.22 253.10,217.02 253.60,219.80 254.10,222.49 254.60,225.01 255.10,227.33 255.60,229.42 256.10,231.24 256.60,232.81 257.10,234.14 257.60,235.23 258.10,236.12 258.60,236.82 259.10,237.37 259.60,237.80 260.10,238.11 260.60,238.35 261.10,238.52 261.60,238.64 262.10,238.73 262.60,238.79 263.10,238.83 263.60,238.85 264.10,238.87 264.60,238.88 265.10,238.89 265.60,238.89 266.10,238.90 266.60,238.90 267.10,238.90 267.60,238.90 268.10,238.90 268.60,238.90 269.10,238.90 269.60,238.90 270.10,238.90 270.60,238.90 271.10,238.90 271.60,238.90 272.10,238.90 272.60,238.90 273.10,238.90 273.60,238.90 274.10,238.90 274.60,238.90 275.10,238.90 275.60,238.90 276.10,238.90 276.60,238.90 277.10,238.90 277.60,238.90 278.10,238.90 278.60,238.90 279.10,238.90 279.60,238.90 280.10,238.90 280.60,238.90 281.10,238.90 281.60,238.90 282.10,238.90 282.60,238.90 283.10,238.90 283.60,238.90 284.10,238.90 284.60,238.90 285.10,238.90 285.60,238.90 286.10,238.90 286.60,238.90 287.10,238.90 287.60,238.90 288.10,238.90 288.60,238.90 289.10,238.90 289.60,238.90 290.10,238.90 290.60,238.90 291.10,238.90 291.60,238.90 292.10,238.90 292.60,238.90 293.10,238.90 293.60,238.90 294.10,238.90 294.60,238.90 295.10,238.90 295.60,238.90 296.10,238.90 296.60,238.90 297.10,238.90 297.60,238.90 298.10,238.90 298.60,238.90 299.10,238.90 299.60,238.90 300.10,238.90 300.60,238.90 301.10,238.90 301.60,238.90 302.10,238.90 302.60,238.90 303.10,238.90 303.60,238.90 304.10,238.90 304.60,238.90 305.10,238.90 305.60,238.90 306.10,238.90 306.60,238.90 307.10,238.90 307.60,238.90 308.10,238.90 308.60,238.90 309.10,238.90 309.60,238.90 310.10,238.90 310.60,238.90 311.10,238.90 311.60,238.90 312.10,238.90" fill="none" stroke="#111" stroke-width="0.8" stroke-linejoin="round" />
<polyline points="220.10,238.90 220.60,238.90 221.10,238.90 221.60,238.90 222.10,238.90 222.60,238.90 223.10,238.90 223.60,238.90 224.10,238.90 224.60,238.90 225.10,238.90 225.60,238.90 226.10,238.90 226.60,238.90 227.10,238.90 227.60,238.90 228.10,238.90 228.60,238.90 229.10,238.90 229.60,238.90 230.10,238.90 230.60,238.90 231.10,238.90 231.60,238.90 232.10,238.90 232.60,238.90 233.10,238.90 233.60,238.89 234.10,238.89 234.60,238.88 235.10,238.86 235.60,238.84 236.10,238.81 236.60,238.76 237.10,238.68 237.60,238.58 238.10,238.42 238.60,238.21 239.10,237.91 239.60,237.50 240.10,236.96 240.60,236.26 241.10,235.35 241.60,234.20 242.10,232.78 242.60,231.06 243.10,229.01 243.60,226.60 244.10,223.86 244.60,220.79 245.10,217.42 245.60,213.83 246.10,210.09 246.60,206.30 247.10,202.59 247.60,199.09 248.10,195.92 248.60,193.22 249.10,191.10 249.60,189.66 250.10,188.96 250.60,189.07 251.10,190.12 251.60,192.06 252.10,194.78 252.60,198.13 253.10,201.95 253.60,206.05 254.10,210.26 254.60,214.40 255.10,218.34 255.60,221.98 256.10,225.24 256.60,228.09 257.10,230.50 257.60,232.50 258.10,234.12 258.60,235.39 259.10,236.38 259.60,237.12 260.10,237.67 260.60,238.07 261.10,238.34 261.60,238.54 262.10,238.67 262.60,238.75 263.10,238.81 263.60,238.85 264.10,238.87 264.60,238.88 265.10,238.89 265.60,238.89 266.10,238.90 266.60,238.90 267.10,238.90 267.60,238.90 268.10,238.90 268.60,238.90 269.10,238.90 269.60,238.90 270.10,238.90 270.60,238.90 271.10,238.90 271.60,238.90 272.10,238.90 272.60,238.90 273.10,238.90 273.60,238.90 274.10,238.90 274.60,238.90 275.10,238.90 275.60,238.90 276.10,238.90 276.60,238.90 277.10,238.90 277.60,238.90 278.10,238.90 278.60,238.90 279.10,238.90 279.60,238.90 280.10,238.90 280.60,238.90 281.10,238.90 281.60,238.90 282.10,238.90 282.60,238.90 283.10,238.90 283.60,238.90 284.10,238.90 284.60,238.90 285.10,238.90 285.60,238.90 286.10,238.90 286.60,238.90 287.10,238.90 287.60,238.90 288.10,238.90 288.60,238.90 289.10,238.90 289.60,238.90 290.10,238.90 290.60,238.90 291.10,238.90 291.60,238.90 292.10,238.90 292.60,238.90 293.10,238.90 293.60,238.90 294.10,238.90 294.60,238.90 295.10,238.90 295.60,238.90 296.10,238.90 296.60,238.90 297.10,238.90 297.60,238.90 298.10,238.90 298.60,238.90 299.10,238.90 299.60,238.90 300.10,238.90 300.60,238.90 301.10,238.90 301.60,238.90 302.10,238.90 302.60,238.90 303.10,238.90 303.60,238.90 304.10,238.90 304.60,238.90 305.10,238.90 305.60,238.90 306.10,238.90 306.60,238.90 307.10,238.90 307.60,238.90 308.10,238.90 308.60,238.90 309.10,238.90 309.60,238.90 310.10,238.90 310.60,238.90 311.10,238.90 311.60,238.90 312.10,238.90" fill="none" stroke="#3aa0c8" stroke-width="1.1" stroke-linejoin="round" />
<polyline points="220.10,238.90 220.60,238.90 221.10,238.90 221.60,238.90 222.10,238.90 222.60,238.90 223.10,238.90 223.60,238.90 224.10,238.90 224.60,238.90 225.10,238.90 225.60,238.90 226.10,238.90 226.60,238.90 227.10,238.90 227.60,238.90 228.10,238.90 228.60,238.90 229.10,238.90 229.60,238.90 230.10,238.90 230.60,238.90 231.10,238.90 231.60,238.90 232.10,238.90 232.60,238.90 233.10,238.89 233.60,238.89 234.10,238.88 234.60,238.87 235.10,238.85 235.60,238.82 236.10,238.78 236.60,238.72 237.10,238.63 237.60,238.50 238.10,238.31 238.60,238.06 239.10,237.70 239.60,237.23 240.10,236.61 240.60,235.80 241.10,234.78 241.60,233.50 242.10,231.93 242.60,230.05 243.10,227.83 243.60,225.28 244.10,222.39 244.60,219.20 245.10,215.76 245.60,212.14 246.10,208.44 246.60,204.76 247.10,201.22 247.60,197.97 248.10,195.13 248.60,192.81 249.10,191.12 249.60,190.14 250.10,189.92 250.60,190.58 251.10,192.13 251.60,194.51 252.10,197.57 252.60,201.15 253.10,205.08 253.60,209.18 254.10,213.28 254.60,217.24 255.10,220.94 255.60,224.29 256.10,227.24 256.60,229.77 257.10,231.89 257.60,233.62 258.10,235.00 258.60,236.08 259.10,236.89 259.60,237.50 260.10,237.94 260.60,238.26 261.10,238.48 261.60,238.63 262.10,238.73 262.60,238.79 263.10,238.83 263.60,238.86 264.10,238.88 264.60,238.89 265.10,238.89 265.60,238.90 266.10,238.90 266.60,238.90 267.10,238.90 267.60,238.90 268.10,238.90 268.60,238.90 269.10,238.90 269.60,238.90 270.10,238.90 270.60,238.90 271.10,238.90 271.60,238.90 272.10,238.90 272.60,238.90 273.10,238.90 273.60,238.90 274.10,238.90 274.60,238.90 275.10,238.90 275.60,238.90 276.10,238.90 276.60,238.90 277.10,238.90 277.60,238.90 278.10,238.90 278.60,238.90 279.10,238.90 279.60,238.90 280.10,238.90 280.60,238.90 281.10,238.90 281.60,238.90 282.10,238.90 282.60,238.90 283.10,238.90 283.60,238.90 284.10,238.90 284.60,238.90 285.10,238.90 285.60,238.90 286.10,238.90 286.60,238.90 287.10,238.90 287.60,238.90 288.10,238.90 288.60,238.90 289.10,238.90 289.60,238.90 290.10,238.90 290.60,238.90 291.10,238.90 291.60,238.90 292.10,238.90 292.60,238.90 293.10,238.90 293.60,238.90 294.10,238.90 294.60,238.90 295.10,238.90 295.60,238.90 296.10,238.90 296.60,238.90 297.10,238.90 297.60,238.90 298.10,238.90 298.60,238.90 299.10,238.90 299.60,238.90 300.10,238.90 300.60,238.90 301.10,238.90 301.60,238.90 302.10,238.90 302.60,238.90 303.10,238.90 303.60,238.90 304.10,238.90 304.60,238.90 305.10,238.90 305.60,238.90 306.10,238.90 306.60,238.90 307.10,238.90 307.60,238.90 308.10,238.90 308.60,238.90 309.10,238.90 309.60,238.90 310.10,238.90 310.60,238.90 311.10,238.90 311.60,238.90 312.10,238.90" fill="none" stroke="#2228b4" stroke-width="1.1" stroke-linejoin="round" />
<rect x="219.50" y="173.80" width="93.70" height="65.50" fill="none" stroke="#000" stroke-width="1.6" />
<text x="218.00" y="242.90" font-size="2.6" font-weight="normal" fill="#777" >10</text>
<text x="235.00" y="242.90" font-size="2.6" font-weight="normal" fill="#777" >10</text>
<text x="252.00" y="242.90" font-size="2.6" font-weight="normal" fill="#777" >10</text>
<text x="269.00" y="242.90" font-size="2.6" font-weight="normal" fill="#777" >10</text>
<text x="286.00" y="242.90" font-size="2.6" font-weight="normal" fill="#777" >10</text>
<line x1="218.60" y1="173.80" x2="219.50" y2="173.80" stroke="#666" stroke-width="0.6" />
<text x="217.30" y="175.10" font-size="3.6" font-weight="bold" fill="#777" text-anchor="end" >0</text>
<line x1="218.60" y1="184.72" x2="219.50" y2="184.72" stroke="#666" stroke-width="0.6" />
<text x="217.30" y="186.02" font-size="3.6" font-weight="bold" fill="#777" text-anchor="end" >0</text>
<line x1="218.60" y1="195.63" x2="219.50" y2="195.63" stroke="#666" stroke-width="0.6" />
<text x="217.30" y="196.93" font-size="3.6" font-weight="bold" fill="#777" text-anchor="end" >0</text>
<line x1="218.60" y1="206.55" x2="219.50" y2="206.55" stroke="#666" stroke-width="0.6" />
<text x="217.30" y="207.85" font-size="3.6" font-weight="bold" fill="#777" text-anchor="end" >0</text>
<line x1="218.60" y1="217.47" x2="219.50" y2="217.47" stroke="#666" stroke-width="0.6" />
<text x="217.30" y="218.77" font-size="3.6" font-weight="bold" fill="#777" text-anchor="end" >0</text>
<line x1="218.60" y1="228.38" x2="219.50" y2="228.38" stroke="#666" stroke-width="0.6" />
<text x="217.30" y="229.68" font-size="3.6" font-weight="bold" fill="#777" text-anchor="end" >0</text>
<line x1="218.60" y1="239.30" x2="219.50" y2="239.30" stroke="#666" stroke-width="0.6" />
<text x="217.30" y="240.60" font-size="3.6" font-weight="bold" fill="#777" text-anchor="end" >0</text>
<polygon points="315.90,239.50 315.90,217.28 316.40,206.66 316.90,219.57 317.40,228.96 317.90,225.83 318.40,222.20 318.90,218.17 319.40,213.89 319.90,209.56 320.40,205.44 320.90,201.80 321.40,198.90 321.90,196.95 322.40,196.12 322.90,196.29 323.40,197.08 323.90,198.42 324.40,200.28 324.90,202.58 325.40,205.22 325.90,208.11 326.40,211.16 326.90,214.26 327.40,217.33 327.90,220.28 328.40,223.07 328.90,225.63 329.40,227.95 329.90,229.99 330.40,231.77 330.90,233.28 331.40,234.55 331.90,235.59 332.40,236.43 332.90,237.10 333.40,237.62 333.90,238.02 334.40,238.32 334.90,238.55 335.40,238.72 335.90,238.84 336.40,238.92 336.90,238.98 337.40,239.02 337.90,239.05 338.40,239.07 338.90,239.08 339.40,239.09 339.90,239.09 340.40,239.10 340.90,239.10 341.40,239.10 341.90,239.10 342.40,239.10 342.90,239.10 343.40,239.10 343.90,239.10 344.40,239.10 344.90,239.10 345.40,239.10 345.90,239.10 346.40,239.10 346.90,239.10 347.40,239.10 347.90,239.10 348.40,239.10 348.90,239.10 349.40,239.10 349.90,239.10 350.40,239.10 350.90,239.10 351.40,239.10 351.90,239.10 352.40,239.10 352.90,239.10 353.40,239.10 353.90,239.10 354.40,239.10 354.90,239.10 355.40,239.10 355.90,239.10 356.40,239.10 356.90,239.10 357.40,239.10 357.90,239.10 358.40,239.10 358.90,239.10 359.40,239.10 359.90,239.10 360.40,239.10 360.90,239.10 361.40,239.10 361.90,239.10 362.40,239.10 362.90,239.10 363.40,239.10 363.90,239.10 364.40,239.10 364.90,239.10 365.40,239.10 365.90,239.10 366.40,239.10 366.90,239.10 367.40,239.10 367.90,239.10 368.40,239.10 368.90,239.10 369.40,239.10 369.90,239.10 370.40,239.10 370.90,239.10 371.40,239.10 371.90,239.10 372.40,239.10 372.90,239.10 373.40,239.10 373.90,239.10 374.40,239.10 374.90,239.10 375.40,239.10 375.90,239.10 376.40,239.10 376.90,239.10 377.40,239.10 377.90,239.10 378.40,239.10 378.90,239.10 379.40,239.10 379.90,239.10 380.40,239.10 380.90,239.10 381.40,239.10 381.90,239.10 382.40,239.10 382.90,239.10 383.40,239.10 383.90,239.10 384.40,239.10 384.90,239.10 385.00,239.50" fill="#d2cfd8" stroke="#888" stroke-width="0.5" />
<polyline points="315.90,239.10 316.40,239.10 316.90,239.10 317.40,239.10 317.90,239.10 318.40,239.10 318.90,239.10 319.40,239.10 319.90,239.10 320.40,239.10 320.90,239.10 321.40,239.10 321.90,239.10 322.40,239.10 322.90,239.10 323.40,239.10 323.90,239.10 324.40,239.09 324.90,239.09 325.40,239.09 325.90,239.08 326.40,239.07 326.90,239.05 327.40,239.03 327.90,239.00 328.40,238.95 328.90,238.88 329.40,238.79 329.90,238.66 330.40,238.49 330.90,238.27 331.40,237.97 331.90,237.59 332.40,237.10 332.90,236.48 333.40,235.72 333.90,234.78 334.40,233.66 334.90,232.34 335.40,230.79 335.90,229.01 336.40,227.00 336.90,224.77 337.40,222.34 337.90,219.74 338.40,217.00 338.90,214.19 339.40,211.37 339.90,208.60 340.40,205.97 340.90,203.56 341.40,201.43 341.90,199.67 342.40,198.34 342.90,197.47 343.40,197.11 343.90,197.36 344.40,198.39 344.90,200.16 345.40,202.56 345.90,205.47 346.40,208.74 346.90,212.21 347.40,215.74 347.90,219.20 348.40,222.47 348.90,225.46 349.40,228.14 349.90,230.45 350.40,232.41 350.90,234.02 351.40,235.32 351.90,236.34 352.40,237.12 352.90,237.71 353.40,238.14 353.90,238.45 354.40,238.67 354.90,238.82 355.40,238.92 355.90,238.99 356.40,239.03 356.90,239.06 357.40,239.08 357.90,239.09 358.40,239.09 358.90,239.10 359.40,239.10 359.90,239.10 360.40,239.10 360.90,239.10 361.40,239.10 361.90,239.10 362.40,239.10 362.90,239.10 363.40,239.10 363.90,239.10 364.40,239.10 364.90,239.10 365.40,239.10 365.90,239.10 366.40,239.10 366.90,239.10 367.40,239.10 367.90,239.10 368.40,239.10 368.90,239.10 369.40,239.10 369.90,239.10 370.40,239.10 370.90,239.10 371.40,239.10 371.90,239.10 372.40,239.10 372.90,239.10 373.40,239.10 373.90,239.10 374.40,239.10 374.90,239.10 375.40,239.10 375.90,239.10 376.40,239.10 376.90,239.10 377.40,239.10 377.90,239.10 378.40,239.10 378.90,239.10 379.40,239.10 379.90,239.10 380.40,239.10 380.90,239.10 381.40,239.10 381.90,239.10 382.40,239.10 382.90,239.10 383.40,239.10 383.90,239.10 384.40,239.10 384.90,239.10" fill="none" stroke="#2fc82f" stroke-width="1.2" stroke-linejoin="round" />
<polyline points="315.90,239.10 316.40,239.10 316.90,239.10 317.40,239.10 317.90,239.10 318.40,239.10 318.90,239.10 319.40,239.10 319.90,239.10 320.40,239.10 320.90,239.10 321.40,239.10 321.90,239.10 322.40,239.10 322.90,239.10 323.40,239.10 323.90,239.10 324.40,239.10 324.90,239.09 325.40,239.09 325.90,239.08 326.40,239.08 326.90,239.06 327.40,239.04 327.90,239.02 328.40,238.98 328.90,238.92 329.40,238.84 329.90,238.74 330.40,238.59 330.90,238.40 331.40,238.15 331.90,237.81 332.40,237.39 332.90,236.85 333.40,236.19 333.90,235.37 334.40,234.37 334.90,233.19 335.40,231.80 335.90,230.19 336.40,228.37 336.90,226.33 337.40,224.09 337.90,221.67 338.40,219.11 338.90,216.45 339.40,213.76 339.90,211.10 340.40,208.53 340.90,206.14 341.40,204.00 341.90,202.18 342.40,200.73 342.90,199.73 343.40,199.19 343.90,199.16 344.40,199.85 344.90,201.26 345.40,203.32 345.90,205.91 346.40,208.91 346.90,212.15 347.40,215.51 347.90,218.85 348.40,222.04 348.90,225.01 349.40,227.68 349.90,230.02 350.40,232.02 350.90,233.69 351.40,235.04 351.90,236.11 352.40,236.94 352.90,237.57 353.40,238.04 353.90,238.38 354.40,238.62 354.90,238.78 355.40,238.90 355.90,238.97 356.40,239.02 356.90,239.05 357.40,239.07 357.90,239.08 358.40,239.09 358.90,239.09 359.40,239.10 359.90,239.10 360.40,239.10 360.90,239.10 361.40,239.10 361.90,239.10 362.40,239.10 362.90,239.10 363.40,239.10 363.90,239.10 364.40,239.10 364.90,239.10 365.40,239.10 365.90,239.10 366.40,239.10 366.90,239.10 367.40,239.10 367.90,239.10 368.40,239.10 368.90,239.10 369.40,239.10 369.90,239.10 370.40,239.10 370.90,239.10 371.40,239.10 371.90,239.10 372.40,239.10 372.90,239.10 373.40,239.10 373.90,239.10 374.40,239.10 374.90,239.10 375.40,239.10 375.90,239.10 376.40,239.10 376.90,239.10 377.40,239.10 377.90,239.10 378.40,239.10 378.90,239.10 379.40,239.10 379.90,239.10 380.40,239.10 380.90,239.10 381.40,239.10 381.90,239.10 382.40,239.10 382.90,239.10 383.40,239.10 383.90,239.10 384.40,239.10 384.90,239.10" fill="none" stroke="#111" stroke-width="0.8" stroke-linejoin="round" />
<polyline points="315.90,239.10 316.40,239.10 316.90,239.10 317.40,239.10 317.90,239.10 318.40,239.10 318.90,239.10 319.40,239.10 319.90,239.10 320.40,239.10 320.90,239.10 321.40,239.10 321.90,239.10 322.40,239.10 322.90,239.10 323.40,239.10 323.90,239.10 324.40,239.10 324.90,239.09 325.40,239.09 325.90,239.09 326.40,239.08 326.90,239.07 327.40,239.05 327.90,239.03 328.40,238.99 328.90,238.94 329.40,238.87 329.90,238.78 330.40,238.64 330.90,238.47 331.40,238.23 331.90,237.93 332.40,237.53 332.90,237.03 333.40,236.41 333.90,235.63 334.40,234.68 334.90,233.55 335.40,232.21 335.90,230.66 336.40,228.88 336.90,226.87 337.40,224.65 337.90,222.24 338.40,219.67 338.90,216.98 339.40,214.23 339.90,211.48 340.40,208.80 340.90,206.27 341.40,203.96 341.90,201.96 342.40,200.32 342.90,199.10 343.40,198.35 343.90,198.10 344.40,198.49 344.90,199.65 345.40,201.51 345.90,203.96 346.40,206.88 346.90,210.13 347.40,213.54 347.90,216.98 348.40,220.33 348.90,223.47 349.40,226.34 349.90,228.88 350.40,231.07 350.90,232.91 351.40,234.42 351.90,235.63 352.40,236.58 352.90,237.30 353.40,237.84 353.90,238.23 354.40,238.52 354.90,238.72 355.40,238.85 355.90,238.94 356.40,239.00 356.90,239.04 357.40,239.06 357.90,239.08 358.40,239.09 358.90,239.09 359.40,239.10 359.90,239.10 360.40,239.10 360.90,239.10 361.40,239.10 361.90,239.10 362.40,239.10 362.90,239.10 363.40,239.10 363.90,239.10 364.40,239.10 364.90,239.10 365.40,239.10 365.90,239.10 366.40,239.10 366.90,239.10 367.40,239.10 367.90,239.10 368.40,239.10 368.90,239.10 369.40,239.10 369.90,239.10 370.40,239.10 370.90,239.10 371.40,239.10 371.90,239.10 372.40,239.10 372.90,239.10 373.40,239.10 373.90,239.10 374.40,239.10 374.90,239.10 375.40,239.10 375.90,239.10 376.40,239.10 376.90,239.10 377.40,239.10 377.90,239.10 378.40,239.10 378.90,239.10 379.40,239.10 379.90,239.10 380.40,239.10 380.90,239.10 381.40,239.10 381.90,239.10 382.40,239.10 382.90,239.10 383.40,239.10 383.90,239.10 384.40,239.10 384.90,239.10" fill="none" stroke="#2228b4" stroke-width="1.1" stroke-linejoin="round" />
<rect x="315.30" y="173.60" width="70.30" height="65.90" fill="none" stroke="#666" stroke-width="0.9" />
<text x="313.80" y="243.10" font-size="2.6" font-weight="normal" fill="#777" >10</text>
<text x="331.38" y="243.10" font-size="2.6" font-weight="normal" fill="#777" >10</text>
<text x="348.95" y="243.10" font-size="2.6" font-weight="normal" fill="#777" >10</text>
<text x="366.53" y="243.10" font-size="2.6" font-weight="normal" fill="#777" >10</text>
<text x="384.10" y="243.10" font-size="2.6" font-weight="normal" fill="#777" >10</text>
<line x1="314.40" y1="173.60" x2="315.30" y2="173.60" stroke="#666" stroke-width="0.6" />
<text x="313.10" y="174.90" font-size="3.6" font-weight="bold" fill="#777" text-anchor="end" >0</text>
<line x1="314.40" y1="184.58" x2="315.30" y2="184.58" stroke="#666" stroke-width="0.6" />
<text x="313.10" y="185.88" font-size="3.6" font-weight="bold" fill="#777" text-anchor="end" >0</text>
<line x1="314.40" y1="195.57" x2="315.30" y2="195.57" stroke="#666" stroke-width="0.6" />
<text x="313.10" y="196.87" font-size="3.6" font-weight="bold" fill="#777" text-anchor="end" >0</text>
<line x1="314.40" y1="206.55" x2="315.30" y2="206.55" stroke="#666" stroke-width="0.6" />
<text x="313.10" y="207.85" font-size="3.6" font-weight="bold" fill="#777" text-anchor="end" >0</text>
<line x1="314.40" y1="217.53" x2="315.30" y2="217.53" stroke="#666" stroke-width="0.6" />
<text x="313.10" y="218.83" font-size="3.6" font-weight="bold" fill="#777" text-anchor="end" >0</text>
<line x1="314.40" y1="228.52" x2="315.30" y2="228.52" stroke="#666" stroke-width="0.6" />
<text x="313.10" y="229.82" font-size="3.6" font-weight="bold" fill="#777" text-anchor="end" >0</text>
<line x1="314.40" y1="239.50" x2="315.30" y2="239.50" stroke="#666" stroke-width="0.6" />
<text x="313.10" y="240.80" font-size="3.6" font-weight="bold" fill="#777" text-anchor="end" >0</text>
<text x="211.20" y="61.50" font-size="7.4" font-weight="bold" fill="#000" textLength="39.70" lengthAdjust="spacingAndGlyphs" transform="rotate(-90 211.20 61.50)" stroke="#000" stroke-width="0.18" >Cell counts</text>
<text x="209.60" y="142.30" font-size="7.4" font-weight="bold" fill="#000" textLength="39.40" lengthAdjust="spacingAndGlyphs" transform="rotate(-90 209.60 142.30)" stroke="#000" stroke-width="0.18" >Cell counts</text>
<text x="212.50" y="227.80" font-size="7.4" font-weight="bold" fill="#000" textLength="38.30" lengthAdjust="spacingAndGlyphs" transform="rotate(-90 212.50 227.80)" stroke="#000" stroke-width="0.18" >Cell counts</text>
<text x="229.20" y="83.00" font-size="6.0" font-weight="bold" fill="#111" textLength="38.50" lengthAdjust="spacingAndGlyphs" stroke="#111" stroke-width="0.18" >ULBP1(M295)</text>
<text x="306.90" y="83.00" font-size="6.0" font-weight="bold" fill="#111" textLength="39.20" lengthAdjust="spacingAndGlyphs" stroke="#111" stroke-width="0.18" >ULBP2(M311)</text>
<text x="383.60" y="83.00" font-size="6.0" font-weight="bold" fill="#111" textLength="39.70" lengthAdjust="spacingAndGlyphs" stroke="#111" stroke-width="0.18" >ULBP3(M551)</text>
<text x="456.50" y="83.00" font-size="6.0" font-weight="bold" fill="#111" textLength="43.90" lengthAdjust="spacingAndGlyphs" stroke="#111" stroke-width="0.18" >MICA(BAM195)</text>
<text x="229.60" y="164.50" font-size="6.0" font-weight="bold" fill="#111" textLength="43.60" lengthAdjust="spacingAndGlyphs" stroke="#111" stroke-width="0.18" >ULBP1(170818)</text>
<text x="305.00" y="164.60" font-size="6.0" font-weight="bold" fill="#111" textLength="47.80" lengthAdjust="spacingAndGlyphs" stroke="#111" stroke-width="0.18" >ULBP2(165903)</text>
<text x="380.70" y="164.60" font-size="6.0" font-weight="bold" fill="#111" textLength="43.50" lengthAdjust="spacingAndGlyphs" stroke="#111" stroke-width="0.18" >ULBP3(166510)</text>
<text x="458.80" y="164.60" font-size="6.0" font-weight="bold" fill="#111" textLength="43.90" lengthAdjust="spacingAndGlyphs" stroke="#111" stroke-width="0.18" >MICA/B(159207)</text>
<text x="243.80" y="254.30" font-size="8.0" font-weight="bold" fill="#000" textLength="42.40" lengthAdjust="spacingAndGlyphs" stroke="#000" stroke-width="0.18" >Class I MHC</text>
<text x="342.80" y="253.60" font-size="7.0" font-weight="bold" fill="#000" textLength="18.90" lengthAdjust="spacingAndGlyphs" stroke="#000" stroke-width="0.18" >CD48</text>
<text x="237.20" y="11.20" font-size="5.8" font-weight="bold" fill="#000" textLength="26.30" lengthAdjust="spacingAndGlyphs" stroke="#000" stroke-width="0.3">macrophage</text>
<rect x="277.90" y="8.80" width="7.20" height="2.00" fill="#000" stroke="none" stroke-width="0" />
<text x="237.20" y="17.00" font-size="5.8" font-weight="bold" fill="#000" textLength="26.30" lengthAdjust="spacingAndGlyphs" stroke="#000" stroke-width="0.3">macrophage</text>
<text x="263.60" y="14.60" font-size="2.8" font-weight="bold" fill="#333" textLength="6.50" lengthAdjust="spacingAndGlyphs" >low LPS</text>
<rect x="277.90" y="15.10" width="7.20" height="2.00" fill="#2fc82f" stroke="none" stroke-width="0" />
<text x="237.20" y="22.70" font-size="5.8" font-weight="bold" fill="#000" textLength="26.30" lengthAdjust="spacingAndGlyphs" stroke="#000" stroke-width="0.3">macrophage</text>
<text x="263.60" y="20.30" font-size="2.8" font-weight="bold" fill="#333" textLength="6.50" lengthAdjust="spacingAndGlyphs" >high LPS</text>
<rect x="277.90" y="20.80" width="7.20" height="2.00" fill="#2228b4" stroke="none" stroke-width="0" />
<text x="250.30" y="178.10" font-size="5.9" font-weight="normal" fill="#000" textLength="35.30" lengthAdjust="spacingAndGlyphs" stroke="#000" stroke-width="0.25">macrophage</text>
<rect x="304.90" y="175.10" width="7.40" height="2.00" fill="#000" stroke="none" stroke-width="0" />
<text x="250.30" y="182.30" font-size="5.9" font-weight="normal" fill="#000" textLength="35.30" lengthAdjust="spacingAndGlyphs" stroke="#000" stroke-width="0.25">macrophage</text>
<text x="286.60" y="181.70" font-size="4.2" font-weight="bold" fill="#000" textLength="17.50" lengthAdjust="spacingAndGlyphs" >low LPS</text>
<rect x="304.90" y="179.60" width="7.40" height="2.00" fill="#2fc82f" stroke="none" stroke-width="0" />
<text x="250.30" y="187.00" font-size="5.9" font-weight="normal" fill="#000" textLength="35.30" lengthAdjust="spacingAndGlyphs" stroke="#000" stroke-width="0.25">macrophage</text>
<text x="286.60" y="186.40" font-size="4.2" font-weight="bold" fill="#000" textLength="17.50" lengthAdjust="spacingAndGlyphs" >high LPS</text>
<rect x="304.90" y="184.70" width="7.40" height="2.00" fill="#2228b4" stroke="none" stroke-width="0" />
<text x="394.40" y="180.00" font-size="14.0" font-weight="bold" fill="#000" stroke="#000" stroke-width="0.18" >F</text>
<text x="403.50" y="220.20" font-size="8.6" font-weight="bold" fill="#000" textLength="32.50" lengthAdjust="spacingAndGlyphs" transform="rotate(-90 403.50 220.20)" stroke="#000" stroke-width="0.18" >% Lysis</text>
<line x1="418.00" y1="182.00" x2="418.00" y2="238.30" stroke="#666" stroke-width="0.8" />
<line x1="418.00" y1="238.10" x2="507.70" y2="238.10" stroke="#222" stroke-width="0.9" />
<line x1="415.80" y1="238.10" x2="418.00" y2="238.10" stroke="#666" stroke-width="0.6" />
<text x="414.40" y="239.70" font-size="4.6" font-weight="normal" fill="#333" text-anchor="end" >0</text>
<line x1="415.80" y1="230.13" x2="418.00" y2="230.13" stroke="#666" stroke-width="0.6" />
<text x="414.40" y="231.73" font-size="4.6" font-weight="normal" fill="#333" text-anchor="end" >10</text>
<line x1="415.80" y1="222.16" x2="418.00" y2="222.16" stroke="#666" stroke-width="0.6" />
<text x="414.40" y="223.76" font-size="4.6" font-weight="normal" fill="#333" text-anchor="end" >20</text>
<line x1="415.80" y1="214.19" x2="418.00" y2="214.19" stroke="#666" stroke-width="0.6" />
<text x="414.40" y="215.79" font-size="4.6" font-weight="normal" fill="#333" text-anchor="end" >30</text>
<line x1="415.80" y1="206.22" x2="418.00" y2="206.22" stroke="#666" stroke-width="0.6" />
<text x="414.40" y="207.82" font-size="4.6" font-weight="normal" fill="#333" text-anchor="end" >40</text>
<line x1="415.80" y1="198.25" x2="418.00" y2="198.25" stroke="#666" stroke-width="0.6" />
<text x="414.40" y="199.85" font-size="4.6" font-weight="normal" fill="#333" text-anchor="end" >50</text>
<line x1="415.80" y1="190.28" x2="418.00" y2="190.28" stroke="#666" stroke-width="0.6" />
<text x="414.40" y="191.88" font-size="4.6" font-weight="normal" fill="#333" text-anchor="end" >60</text>
<line x1="415.80" y1="182.31" x2="418.00" y2="182.31" stroke="#666" stroke-width="0.6" />
<text x="414.40" y="183.91" font-size="4.6" font-weight="normal" fill="#333" text-anchor="end" >70</text>
<line x1="432.90" y1="238.10" x2="432.90" y2="239.60" stroke="#222" stroke-width="0.6" />
<line x1="465.30" y1="238.10" x2="465.30" y2="239.60" stroke="#222" stroke-width="0.6" />
<line x1="496.60" y1="238.10" x2="496.60" y2="239.60" stroke="#222" stroke-width="0.6" />
<text x="428.40" y="247.00" font-size="7.4" font-weight="bold" fill="#000" textLength="13.80" lengthAdjust="spacingAndGlyphs" stroke="#000" stroke-width="0.18" >20:1</text>
<text x="461.90" y="247.00" font-size="7.4" font-weight="bold" fill="#000" textLength="13.90" lengthAdjust="spacingAndGlyphs" stroke="#000" stroke-width="0.18" >10:1</text>
<text x="492.70" y="247.00" font-size="7.4" font-weight="bold" fill="#000" textLength="9.20" lengthAdjust="spacingAndGlyphs" stroke="#000" stroke-width="0.18" >5:1</text>
<text x="450.40" y="255.10" font-size="7.3" font-weight="bold" fill="#000" textLength="29.20" lengthAdjust="spacingAndGlyphs" stroke="#000" stroke-width="0.18" >E/T ratio</text>
<polyline points="432.90,193.40 465.30,215.80 496.60,231.40" fill="none" stroke="#333" stroke-width="0.7" stroke-linejoin="round" />
<circle cx="432.90" cy="193.40" r="1.6" fill="#000"/>
<circle cx="465.30" cy="215.80" r="1.6" fill="#000"/>
<circle cx="496.60" cy="231.40" r="1.6" fill="#000"/>
<polyline points="432.90,200.10 465.30,217.60 496.60,233.20" fill="none" stroke="#333" stroke-width="0.7" stroke-linejoin="round" />
<polygon points="432.90,197.82 431.00,201.62 434.80,201.62" fill="#000" stroke="none" stroke-width="0" />
<polygon points="465.30,215.32 463.40,219.12 467.20,219.12" fill="#000" stroke="none" stroke-width="0" />
<polygon points="496.60,230.92 494.70,234.72 498.50,234.72" fill="#000" stroke="none" stroke-width="0" />
<polyline points="432.90,223.10 465.30,233.20 496.60,238.00" fill="none" stroke="#333" stroke-width="0.7" stroke-linejoin="round" />
<rect x="431.30" y="221.50" width="3.20" height="3.20" fill="#000" stroke="none" stroke-width="0" />
<rect x="463.70" y="231.60" width="3.20" height="3.20" fill="#000" stroke="none" stroke-width="0" />
<rect x="495.00" y="236.40" width="3.20" height="3.20" fill="#000" stroke="none" stroke-width="0" />
<line x1="465.00" y1="213.80" x2="465.00" y2="218.00" stroke="#000" stroke-width="0.7" />
<line x1="496.60" y1="229.50" x2="496.60" y2="235.00" stroke="#000" stroke-width="0.7" />
<line x1="455.40" y1="182.40" x2="464.50" y2="182.40" stroke="#333" stroke-width="0.7" />
<circle cx="460.10" cy="182.40" r="1.6" fill="#000"/>
<text x="467.50" y="184.40" font-size="5.9" font-weight="bold" fill="#222" textLength="22.60" lengthAdjust="spacingAndGlyphs" stroke="#222" stroke-width="0.18" >No mAb</text>
<line x1="455.40" y1="192.40" x2="464.50" y2="192.40" stroke="#333" stroke-width="0.7" />
<rect x="458.50" y="190.80" width="3.20" height="3.20" fill="#000" stroke="none" stroke-width="0" />
<text x="467.50" y="194.40" font-size="5.9" font-weight="bold" fill="#222" textLength="49.50" lengthAdjust="spacingAndGlyphs" stroke="#222" stroke-width="0.18" >Anti-NKG2D mAb</text>
<line x1="455.40" y1="201.20" x2="464.50" y2="201.20" stroke="#333" stroke-width="0.7" />
<polygon points="460.10,198.92 458.20,202.72 462.00,202.72" fill="#000" stroke="none" stroke-width="0" />
<text x="467.2" y="202.4" font-size="5.9" font-weight="bold" fill="#222" textLength="28.6" lengthAdjust="spacingAndGlyphs">IgG<tspan font-size="3.6" dy="1.2">1</tspan><tspan dy="-1.2">  mAb</tspan></text>
<text x="191.30" y="278.70" font-size="13.8" font-weight="bold" fill="#000" stroke="#000" stroke-width="0.18" >G</text>
<rect x="236.30" y="272.50" width="2.90" height="2.50" fill="#000" stroke="#333" stroke-width="0.5" />
<rect x="236.30" y="282.60" width="2.90" height="2.50" fill="#c8c8c8" stroke="#333" stroke-width="0.5" />
<rect x="236.30" y="291.80" width="2.90" height="2.50" fill="#fff" stroke="#333" stroke-width="0.5" />
<rect x="236.30" y="301.50" width="2.90" height="2.50" fill="#7a7a7a" stroke="#333" stroke-width="0.5" />
<text x="241.80" y="275.50" font-size="5.8" font-weight="bold" fill="#1a1a1a" textLength="12.20" lengthAdjust="spacingAndGlyphs" stroke="#1a1a1a" stroke-width="0.18" >IgG1</text>
<text x="241.80" y="285.00" font-size="5.8" font-weight="bold" fill="#1a1a1a" textLength="24.10" lengthAdjust="spacingAndGlyphs" stroke="#1a1a1a" stroke-width="0.18" >Anti-2B4</text>
<text x="241.80" y="295.50" font-size="5.8" font-weight="bold" fill="#1a1a1a" textLength="33.30" lengthAdjust="spacingAndGlyphs" stroke="#1a1a1a" stroke-width="0.18" >Anti-NKG2D</text>
<text x="241.80" y="301.80" font-size="5.8" font-weight="bold" fill="#1a1a1a" textLength="33.30" lengthAdjust="spacingAndGlyphs" stroke="#1a1a1a" stroke-width="0.18" >Anti-NKG2D</text>
<text x="241.80" y="309.50" font-size="5.8" font-weight="bold" fill="#1a1a1a" textLength="25.90" lengthAdjust="spacingAndGlyphs" stroke="#1a1a1a" stroke-width="0.18" >+Anti 2B4</text>
<line x1="231.50" y1="291.50" x2="231.50" y2="362.60" stroke="#555" stroke-width="0.8" />
<line x1="229.80" y1="362.60" x2="231.50" y2="362.60" stroke="#555" stroke-width="0.6" />
<text x="227.00" y="364.40" font-size="5.0" font-weight="bold" fill="#333" text-anchor="end" textLength="3.00" lengthAdjust="spacingAndGlyphs" stroke="#333" stroke-width="0.18" >0</text>
<line x1="229.80" y1="352.46" x2="231.50" y2="352.46" stroke="#555" stroke-width="0.6" />
<text x="227.00" y="354.26" font-size="5.0" font-weight="bold" fill="#333" text-anchor="end" textLength="12.40" lengthAdjust="spacingAndGlyphs" stroke="#333" stroke-width="0.18" >1000</text>
<line x1="229.80" y1="342.32" x2="231.50" y2="342.32" stroke="#555" stroke-width="0.6" />
<text x="227.00" y="344.12" font-size="5.0" font-weight="bold" fill="#333" text-anchor="end" textLength="12.40" lengthAdjust="spacingAndGlyphs" stroke="#333" stroke-width="0.18" >2000</text>
<line x1="229.80" y1="332.18" x2="231.50" y2="332.18" stroke="#555" stroke-width="0.6" />
<text x="227.00" y="333.98" font-size="5.0" font-weight="bold" fill="#333" text-anchor="end" textLength="12.40" lengthAdjust="spacingAndGlyphs" stroke="#333" stroke-width="0.18" >3000</text>
<line x1="229.80" y1="322.04" x2="231.50" y2="322.04" stroke="#555" stroke-width="0.6" />
<text x="227.00" y="323.84" font-size="5.0" font-weight="bold" fill="#333" text-anchor="end" textLength="12.40" lengthAdjust="spacingAndGlyphs" stroke="#333" stroke-width="0.18" >4000</text>
<line x1="229.80" y1="311.90" x2="231.50" y2="311.90" stroke="#555" stroke-width="0.6" />
<text x="227.00" y="313.70" font-size="5.0" font-weight="bold" fill="#333" text-anchor="end" textLength="12.40" lengthAdjust="spacingAndGlyphs" stroke="#333" stroke-width="0.18" >5000</text>
<line x1="229.80" y1="301.76" x2="231.50" y2="301.76" stroke="#555" stroke-width="0.6" />
<text x="227.00" y="303.56" font-size="5.0" font-weight="bold" fill="#333" text-anchor="end" textLength="12.40" lengthAdjust="spacingAndGlyphs" stroke="#333" stroke-width="0.18" >6000</text>
<line x1="229.80" y1="291.62" x2="231.50" y2="291.62" stroke="#555" stroke-width="0.6" />
<text x="227.00" y="293.42" font-size="5.0" font-weight="bold" fill="#333" text-anchor="end" textLength="12.40" lengthAdjust="spacingAndGlyphs" stroke="#333" stroke-width="0.18" >7000</text>
<text x="212.6" y="361.5" font-size="5.6" font-weight="bold" fill="#444" transform="rotate(-90 212.6 361.5)" textLength="79.5" lengthAdjust="spacingAndGlyphs">H<tspan font-size="3.5" dy="-2">3</tspan><tspan dy="2">-TdR incorporation (cpm)</tspan></text>
<rect x="235.70" y="342.00" width="5.60" height="20.60" fill="#000" stroke="#111" stroke-width="0.6" />
<rect x="241.30" y="342.00" width="5.60" height="20.60" fill="#c4c4c4" stroke="#111" stroke-width="0.6" />
<rect x="246.90" y="340.30" width="5.60" height="22.30" fill="#fff" stroke="#111" stroke-width="0.6" />
<rect x="252.50" y="340.30" width="5.50" height="22.30" fill="#7c7c7c" stroke="#111" stroke-width="0.6" />
<rect x="264.90" y="318.00" width="6.10" height="44.60" fill="#000" stroke="#111" stroke-width="0.6" />
<rect x="271.00" y="339.20" width="5.60" height="23.40" fill="#c4c4c4" stroke="#111" stroke-width="0.6" />
<rect x="276.60" y="317.50" width="5.60" height="45.10" fill="#fff" stroke="#111" stroke-width="0.6" />
<rect x="282.20" y="339.80" width="5.30" height="22.80" fill="#7c7c7c" stroke="#111" stroke-width="0.6" />
<rect x="294.70" y="304.00" width="6.10" height="58.60" fill="#000" stroke="#111" stroke-width="0.6" />
<rect x="300.80" y="341.90" width="5.60" height="20.70" fill="#c4c4c4" stroke="#111" stroke-width="0.6" />
<rect x="306.40" y="304.50" width="5.50" height="58.10" fill="#fff" stroke="#111" stroke-width="0.6" />
<rect x="311.90" y="341.50" width="5.10" height="21.10" fill="#7c7c7c" stroke="#111" stroke-width="0.6" />
<rect x="324.60" y="298.80" width="5.80" height="63.80" fill="#000" stroke="#111" stroke-width="0.6" />
<rect x="330.40" y="298.80" width="5.40" height="63.80" fill="#c4c4c4" stroke="#111" stroke-width="0.6" />
<rect x="335.80" y="313.30" width="5.20" height="49.30" fill="#fff" stroke="#111" stroke-width="0.6" />
<rect x="341.00" y="311.80" width="5.50" height="50.80" fill="#7c7c7c" stroke="#111" stroke-width="0.6" />
<line x1="231.00" y1="362.60" x2="352.00" y2="362.60" stroke="#555" stroke-width="0.8" />
<line x1="244.10" y1="337.00" x2="244.10" y2="346.00" stroke="#555" stroke-width="0.5" />
<line x1="243.10" y1="337.00" x2="245.10" y2="337.00" stroke="#555" stroke-width="0.5" />
<line x1="243.10" y1="346.00" x2="245.10" y2="346.00" stroke="#555" stroke-width="0.5" />
<line x1="249.70" y1="338.50" x2="249.70" y2="342.00" stroke="#555" stroke-width="0.5" />
<line x1="248.70" y1="338.50" x2="250.70" y2="338.50" stroke="#555" stroke-width="0.5" />
<line x1="248.70" y1="342.00" x2="250.70" y2="342.00" stroke="#555" stroke-width="0.5" />
<line x1="273.80" y1="336.50" x2="273.80" y2="342.00" stroke="#555" stroke-width="0.5" />
<line x1="272.80" y1="336.50" x2="274.80" y2="336.50" stroke="#555" stroke-width="0.5" />
<line x1="272.80" y1="342.00" x2="274.80" y2="342.00" stroke="#555" stroke-width="0.5" />
<line x1="279.40" y1="316.50" x2="279.40" y2="318.50" stroke="#555" stroke-width="0.5" />
<line x1="278.40" y1="316.50" x2="280.40" y2="316.50" stroke="#555" stroke-width="0.5" />
<line x1="278.40" y1="318.50" x2="280.40" y2="318.50" stroke="#555" stroke-width="0.5" />
<line x1="303.60" y1="339.00" x2="303.60" y2="345.00" stroke="#555" stroke-width="0.5" />
<line x1="302.60" y1="339.00" x2="304.60" y2="339.00" stroke="#555" stroke-width="0.5" />
<line x1="302.60" y1="345.00" x2="304.60" y2="345.00" stroke="#555" stroke-width="0.5" />
<line x1="309.20" y1="303.00" x2="309.20" y2="306.00" stroke="#555" stroke-width="0.5" />
<line x1="308.20" y1="303.00" x2="310.20" y2="303.00" stroke="#555" stroke-width="0.5" />
<line x1="308.20" y1="306.00" x2="310.20" y2="306.00" stroke="#555" stroke-width="0.5" />
<line x1="333.10" y1="297.50" x2="333.10" y2="300.00" stroke="#555" stroke-width="0.5" />
<line x1="332.10" y1="297.50" x2="334.10" y2="297.50" stroke="#555" stroke-width="0.5" />
<line x1="332.10" y1="300.00" x2="334.10" y2="300.00" stroke="#555" stroke-width="0.5" />
<line x1="338.40" y1="312.30" x2="338.40" y2="314.30" stroke="#555" stroke-width="0.5" />
<line x1="337.40" y1="312.30" x2="339.40" y2="312.30" stroke="#555" stroke-width="0.5" />
<line x1="337.40" y1="314.30" x2="339.40" y2="314.30" stroke="#555" stroke-width="0.5" />
<line x1="343.70" y1="310.80" x2="343.70" y2="312.80" stroke="#555" stroke-width="0.5" />
<line x1="342.70" y1="310.80" x2="344.70" y2="310.80" stroke="#555" stroke-width="0.5" />
<line x1="342.70" y1="312.80" x2="344.70" y2="312.80" stroke="#555" stroke-width="0.5" />
<polyline points="267.50,317.00 267.50,313.60 281.80,313.60 281.80,316.00" fill="none" stroke="#444" stroke-width="0.6" stroke-linejoin="round" />
<polyline points="273.80,338.00 273.80,316.30 288.50,316.30 288.50,338.50" fill="none" stroke="#444" stroke-width="0.6" stroke-linejoin="round" />
<text x="274.00" y="315.40" font-size="10.0" font-weight="bold" fill="#000" text-anchor="middle" stroke="#000" stroke-width="0.18" >*</text>
<polyline points="297.40,303.00 297.40,295.70 309.70,295.70 309.70,303.00" fill="none" stroke="#444" stroke-width="0.6" stroke-linejoin="round" />
<polyline points="303.60,340.00 303.60,299.50 315.30,299.50 315.30,340.00" fill="none" stroke="#444" stroke-width="0.6" stroke-linejoin="round" />
<text x="302.40" y="297.70" font-size="10.0" font-weight="bold" fill="#000" text-anchor="middle" stroke="#000" stroke-width="0.18" >*</text>
<text x="306.00" y="297.70" font-size="10.0" font-weight="bold" fill="#000" text-anchor="middle" stroke="#000" stroke-width="0.18" >*</text>
<polyline points="327.50,297.50 327.50,293.50 343.20,293.50 343.20,297.50" fill="none" stroke="#444" stroke-width="0.6" stroke-linejoin="round" />
<polyline points="338.70,312.00 338.70,297.30 345.40,297.30 345.40,310.50" fill="none" stroke="#444" stroke-width="0.6" stroke-linejoin="round" />
<text x="334.20" y="294.60" font-size="10.0" font-weight="bold" fill="#000" text-anchor="middle" stroke="#000" stroke-width="0.18" >*</text>
<text x="239.10" y="369.40" font-size="4.4" font-weight="bold" fill="#222" textLength="15.40" lengthAdjust="spacingAndGlyphs" >No APC</text>
<text x="262.50" y="368.40" font-size="5.0" font-weight="bold" fill="#222" textLength="27.10" lengthAdjust="spacingAndGlyphs" font-style="italic" stroke="#222" stroke-width="0.18" >macrophage</text>
<text x="293.00" y="368.40" font-size="5.0" font-weight="bold" fill="#222" textLength="27.90" lengthAdjust="spacingAndGlyphs" font-style="italic" stroke="#222" stroke-width="0.18" >macrophage</text>
<text x="299.70" y="373.60" font-size="2.8" font-weight="bold" fill="#444" textLength="9.60" lengthAdjust="spacingAndGlyphs" >low LPS</text>
<text x="323.30" y="368.40" font-size="5.0" font-weight="bold" fill="#222" textLength="26.90" lengthAdjust="spacingAndGlyphs" font-style="italic" stroke="#222" stroke-width="0.18" >macrophage</text>
<text x="331.00" y="373.60" font-size="2.8" font-weight="bold" fill="#444" textLength="12.00" lengthAdjust="spacingAndGlyphs" >high LPS</text>
<text x="353.70" y="278.60" font-size="13.7" font-weight="bold" fill="#000" stroke="#000" stroke-width="0.18" >H</text>
<rect x="394.50" y="272.50" width="2.90" height="2.50" fill="#000" stroke="#333" stroke-width="0.5" />
<rect x="394.50" y="281.90" width="2.90" height="2.50" fill="#c8c8c8" stroke="#333" stroke-width="0.5" />
<rect x="394.50" y="292.50" width="2.90" height="2.50" fill="#fff" stroke="#333" stroke-width="0.5" />
<rect x="394.50" y="301.30" width="2.90" height="2.50" fill="#7a7a7a" stroke="#333" stroke-width="0.5" />
<text x="400.10" y="275.30" font-size="5.8" font-weight="bold" fill="#1a1a1a" textLength="12.50" lengthAdjust="spacingAndGlyphs" stroke="#1a1a1a" stroke-width="0.18" >IgG1</text>
<text x="400.10" y="284.80" font-size="5.8" font-weight="bold" fill="#1a1a1a" textLength="23.80" lengthAdjust="spacingAndGlyphs" stroke="#1a1a1a" stroke-width="0.18" >Anti-2B4</text>
<text x="400.10" y="295.20" font-size="5.8" font-weight="bold" fill="#1a1a1a" textLength="34.50" lengthAdjust="spacingAndGlyphs" stroke="#1a1a1a" stroke-width="0.18" >Anti-NKG2D</text>
<text x="400.10" y="302.30" font-size="5.8" font-weight="bold" fill="#1a1a1a" textLength="34.50" lengthAdjust="spacingAndGlyphs" stroke="#1a1a1a" stroke-width="0.18" >Anti-NKG2D</text>
<text x="400.10" y="309.50" font-size="5.8" font-weight="bold" fill="#1a1a1a" textLength="27.40" lengthAdjust="spacingAndGlyphs" stroke="#1a1a1a" stroke-width="0.18" >+Anti 2B4</text>
<line x1="387.00" y1="287.50" x2="387.00" y2="361.50" stroke="#555" stroke-width="0.8" />
<line x1="385.20" y1="361.50" x2="387.00" y2="361.50" stroke="#555" stroke-width="0.6" />
<text x="383.20" y="363.30" font-size="5.0" font-weight="bold" fill="#333" text-anchor="end" textLength="3.00" lengthAdjust="spacingAndGlyphs" stroke="#333" stroke-width="0.18" >0</text>
<line x1="385.20" y1="352.32" x2="387.00" y2="352.32" stroke="#555" stroke-width="0.6" />
<text x="383.20" y="354.12" font-size="5.0" font-weight="bold" fill="#333" text-anchor="end" textLength="9.00" lengthAdjust="spacingAndGlyphs" stroke="#333" stroke-width="0.18" >500</text>
<line x1="385.20" y1="343.14" x2="387.00" y2="343.14" stroke="#555" stroke-width="0.6" />
<text x="383.20" y="344.94" font-size="5.0" font-weight="bold" fill="#333" text-anchor="end" textLength="11.90" lengthAdjust="spacingAndGlyphs" stroke="#333" stroke-width="0.18" >1000</text>
<line x1="385.20" y1="333.96" x2="387.00" y2="333.96" stroke="#555" stroke-width="0.6" />
<text x="383.20" y="335.76" font-size="5.0" font-weight="bold" fill="#333" text-anchor="end" textLength="11.90" lengthAdjust="spacingAndGlyphs" stroke="#333" stroke-width="0.18" >1500</text>
<line x1="385.20" y1="324.78" x2="387.00" y2="324.78" stroke="#555" stroke-width="0.6" />
<text x="383.20" y="326.58" font-size="5.0" font-weight="bold" fill="#333" text-anchor="end" textLength="11.90" lengthAdjust="spacingAndGlyphs" stroke="#333" stroke-width="0.18" >2000</text>
<line x1="385.20" y1="315.60" x2="387.00" y2="315.60" stroke="#555" stroke-width="0.6" />
<text x="383.20" y="317.40" font-size="5.0" font-weight="bold" fill="#333" text-anchor="end" textLength="11.90" lengthAdjust="spacingAndGlyphs" stroke="#333" stroke-width="0.18" >2500</text>
<line x1="385.20" y1="306.42" x2="387.00" y2="306.42" stroke="#555" stroke-width="0.6" />
<text x="383.20" y="308.22" font-size="5.0" font-weight="bold" fill="#333" text-anchor="end" textLength="11.90" lengthAdjust="spacingAndGlyphs" stroke="#333" stroke-width="0.18" >3000</text>
<line x1="385.20" y1="297.24" x2="387.00" y2="297.24" stroke="#555" stroke-width="0.6" />
<text x="383.20" y="299.04" font-size="5.0" font-weight="bold" fill="#333" text-anchor="end" textLength="11.90" lengthAdjust="spacingAndGlyphs" stroke="#333" stroke-width="0.18" >3500</text>
<line x1="385.20" y1="288.06" x2="387.00" y2="288.06" stroke="#555" stroke-width="0.6" />
<text x="383.20" y="289.86" font-size="5.0" font-weight="bold" fill="#333" text-anchor="end" textLength="11.90" lengthAdjust="spacingAndGlyphs" stroke="#333" stroke-width="0.18" >4000</text>
<text x="369.2" y="337.6" font-size="5.4" font-weight="bold" fill="#333" transform="rotate(-90 369.2 337.6)" textLength="38.5" lengthAdjust="spacingAndGlyphs">IFNγ (pg/mL)</text>
<rect x="391.20" y="360.40" width="5.60" height="1.10" fill="#000" stroke="#111" stroke-width="0.6" />
<rect x="396.80" y="360.00" width="5.60" height="1.50" fill="#c4c4c4" stroke="#111" stroke-width="0.6" />
<rect x="402.40" y="360.30" width="5.60" height="1.20" fill="#fff" stroke="#111" stroke-width="0.6" />
<rect x="408.00" y="360.40" width="5.50" height="1.10" fill="#7c7c7c" stroke="#111" stroke-width="0.6" />
<rect x="422.80" y="334.50" width="5.80" height="27.00" fill="#000" stroke="#111" stroke-width="0.6" />
<rect x="428.60" y="358.20" width="5.60" height="3.30" fill="#c4c4c4" stroke="#111" stroke-width="0.6" />
<rect x="434.20" y="333.20" width="6.00" height="28.30" fill="#fff" stroke="#111" stroke-width="0.6" />
<rect x="440.20" y="356.40" width="6.30" height="5.10" fill="#7c7c7c" stroke="#111" stroke-width="0.6" />
<rect x="454.70" y="319.60" width="5.60" height="41.90" fill="#000" stroke="#111" stroke-width="0.6" />
<rect x="460.30" y="355.30" width="5.60" height="6.20" fill="#c4c4c4" stroke="#111" stroke-width="0.6" />
<rect x="465.90" y="317.40" width="6.00" height="44.10" fill="#fff" stroke="#111" stroke-width="0.6" />
<rect x="471.90" y="353.70" width="6.30" height="7.80" fill="#7c7c7c" stroke="#111" stroke-width="0.6" />
<rect x="486.50" y="298.60" width="5.70" height="62.90" fill="#000" stroke="#111" stroke-width="0.6" />
<rect x="492.20" y="298.60" width="6.20" height="62.90" fill="#c4c4c4" stroke="#111" stroke-width="0.6" />
<rect x="498.40" y="309.00" width="5.00" height="52.50" fill="#fff" stroke="#111" stroke-width="0.6" />
<rect x="503.40" y="307.80" width="5.70" height="53.70" fill="#7c7c7c" stroke="#111" stroke-width="0.6" />
<line x1="386.50" y1="361.50" x2="514.50" y2="361.50" stroke="#555" stroke-width="0.8" />
<line x1="425.70" y1="333.50" x2="425.70" y2="335.50" stroke="#555" stroke-width="0.5" />
<line x1="424.70" y1="333.50" x2="426.70" y2="333.50" stroke="#555" stroke-width="0.5" />
<line x1="424.70" y1="335.50" x2="426.70" y2="335.50" stroke="#555" stroke-width="0.5" />
<line x1="437.20" y1="332.20" x2="437.20" y2="334.20" stroke="#555" stroke-width="0.5" />
<line x1="436.20" y1="332.20" x2="438.20" y2="332.20" stroke="#555" stroke-width="0.5" />
<line x1="436.20" y1="334.20" x2="438.20" y2="334.20" stroke="#555" stroke-width="0.5" />
<line x1="431.40" y1="356.50" x2="431.40" y2="359.50" stroke="#555" stroke-width="0.5" />
<line x1="430.40" y1="356.50" x2="432.40" y2="356.50" stroke="#555" stroke-width="0.5" />
<line x1="430.40" y1="359.50" x2="432.40" y2="359.50" stroke="#555" stroke-width="0.5" />
<line x1="468.90" y1="316.40" x2="468.90" y2="318.40" stroke="#555" stroke-width="0.5" />
<line x1="467.90" y1="316.40" x2="469.90" y2="316.40" stroke="#555" stroke-width="0.5" />
<line x1="467.90" y1="318.40" x2="469.90" y2="318.40" stroke="#555" stroke-width="0.5" />
<line x1="463.10" y1="354.00" x2="463.10" y2="356.50" stroke="#555" stroke-width="0.5" />
<line x1="462.10" y1="354.00" x2="464.10" y2="354.00" stroke="#555" stroke-width="0.5" />
<line x1="462.10" y1="356.50" x2="464.10" y2="356.50" stroke="#555" stroke-width="0.5" />
<line x1="500.90" y1="308.00" x2="500.90" y2="310.00" stroke="#555" stroke-width="0.5" />
<line x1="499.90" y1="308.00" x2="501.90" y2="308.00" stroke="#555" stroke-width="0.5" />
<line x1="499.90" y1="310.00" x2="501.90" y2="310.00" stroke="#555" stroke-width="0.5" />
<line x1="506.20" y1="307.00" x2="506.20" y2="309.00" stroke="#555" stroke-width="0.5" />
<line x1="505.20" y1="307.00" x2="507.20" y2="307.00" stroke="#555" stroke-width="0.5" />
<line x1="505.20" y1="309.00" x2="507.20" y2="309.00" stroke="#555" stroke-width="0.5" />
<polyline points="425.70,333.00 425.70,327.00 438.00,327.00 438.00,332.00" fill="none" stroke="#444" stroke-width="0.6" stroke-linejoin="round" />
<polyline points="431.80,357.50 431.80,330.30 442.50,330.30 442.50,355.50" fill="none" stroke="#444" stroke-width="0.6" stroke-linejoin="round" />
<text x="429.00" y="329.60" font-size="10.0" font-weight="bold" fill="#000" text-anchor="middle" stroke="#000" stroke-width="0.18" >*</text>
<text x="433.40" y="329.60" font-size="10.0" font-weight="bold" fill="#000" text-anchor="middle" stroke="#000" stroke-width="0.18" >*</text>
<polyline points="456.30,318.50 456.30,310.70 468.20,310.70 468.20,316.50" fill="none" stroke="#444" stroke-width="0.6" stroke-linejoin="round" />
<polyline points="462.60,354.50 462.60,314.00 473.70,314.00 473.70,352.50" fill="none" stroke="#444" stroke-width="0.6" stroke-linejoin="round" />
<text x="460.20" y="311.80" font-size="10.0" font-weight="bold" fill="#000" text-anchor="middle" stroke="#000" stroke-width="0.18" >*</text>
<text x="464.80" y="311.80" font-size="10.0" font-weight="bold" fill="#000" text-anchor="middle" stroke="#000" stroke-width="0.18" >*</text>
<polyline points="488.40,297.50 488.40,291.20 504.60,291.20 504.60,306.50" fill="none" stroke="#444" stroke-width="0.6" stroke-linejoin="round" />
<polyline points="501.60,308.00 501.60,296.10 507.10,296.10 507.10,306.50" fill="none" stroke="#444" stroke-width="0.6" stroke-linejoin="round" />
<text x="495.90" y="293.60" font-size="10.0" font-weight="bold" fill="#000" text-anchor="middle" stroke="#000" stroke-width="0.18" >*</text>
<text x="393.00" y="368.80" font-size="4.4" font-weight="bold" fill="#222" textLength="17.00" lengthAdjust="spacingAndGlyphs" >No APC</text>
<text x="420.00" y="367.90" font-size="5.0" font-weight="bold" fill="#222" textLength="26.30" lengthAdjust="spacingAndGlyphs" font-style="italic" stroke="#222" stroke-width="0.18" >macrophage</text>
<text x="452.00" y="367.90" font-size="5.0" font-weight="bold" fill="#222" textLength="27.50" lengthAdjust="spacingAndGlyphs" font-style="italic" stroke="#222" stroke-width="0.18" >macrophage</text>
<text x="459.50" y="373.00" font-size="2.8" font-weight="bold" fill="#444" textLength="6.80" lengthAdjust="spacingAndGlyphs" >low LPS</text>
<text x="484.50" y="367.90" font-size="5.0" font-weight="bold" fill="#222" textLength="27.50" lengthAdjust="spacingAndGlyphs" font-style="italic" stroke="#222" stroke-width="0.18" >macrophage</text>
<text x="492.00" y="373.00" font-size="2.8" font-weight="bold" fill="#444" textLength="10.50" lengthAdjust="spacingAndGlyphs" >high LPS</text>
</svg>
</body></html>
